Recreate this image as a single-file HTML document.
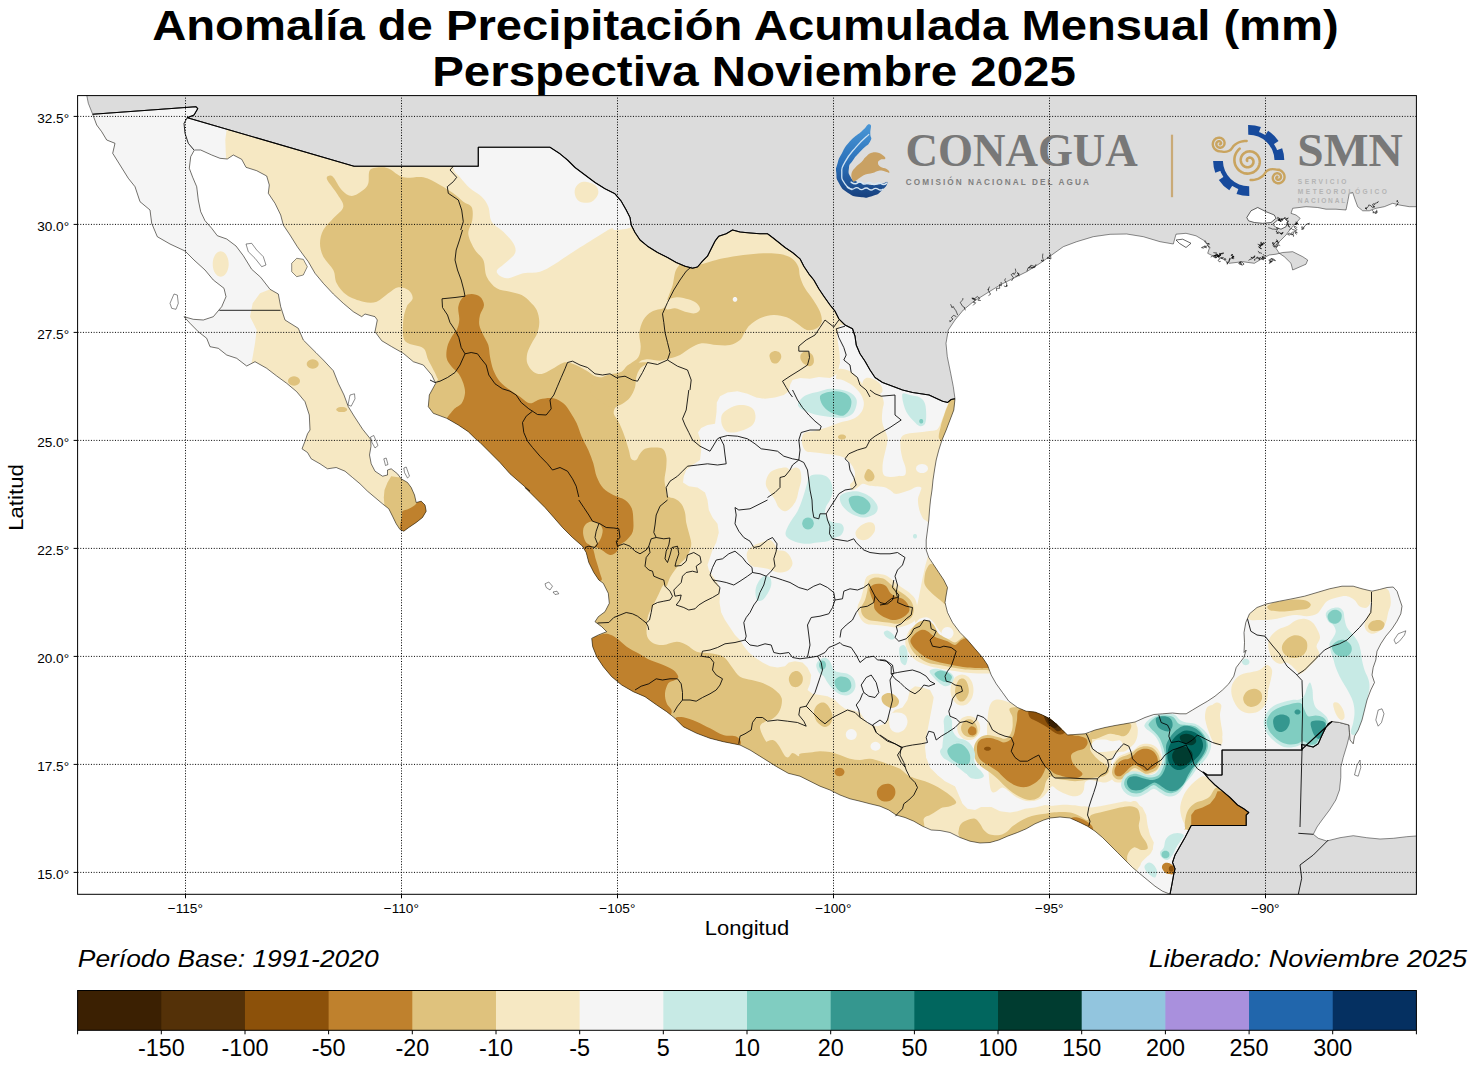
<!DOCTYPE html>
<html><head><meta charset="utf-8"><title>Anomalía de Precipitación</title>
<style>html,body{margin:0;padding:0;background:#fff;font-family:"Liberation Sans",sans-serif}svg{display:block}</style></head>
<body>
<svg width="1476" height="1068" viewBox="0 0 1476 1068">
<rect width="1476" height="1068" fill="#fff"/>
<defs><clipPath id="axclip"><rect x="77.6" y="95.6" width="1338.8" height="798.7"/></clipPath></defs>
<g clip-path="url(#axclip)">
<path d="M60,80 86.7,95 88.3,103.3 92.7,114.3 196,106.7 197.7,108.7 194,115 187.3,117.7 354,166.3 478.3,166.3 478.3,147.3 550,147.3 550,148 560,153.8 567.5,160 575,167.5 585,175 595,182.5 605,188.8 615,193.8 621.2,201.2 626.2,210 630,217.5 631.2,225 635,232.5 640,240 647.5,246.2 657.5,252.5 667.5,257.5 676.2,262.5 685,266.2 692.5,268.2 697.5,267 702.5,261.2 707.5,256.2 711.2,248.8 715,241.2 718.8,236.2 726.2,233.8 732.5,230 740,232 750,233 760,233.8 767.5,233.8 772.5,237.5 778.8,242.5 785,247.5 792.5,252.5 800,258.8 803.8,266.2 808.8,273.8 813.8,280 818.8,288.8 823.8,296.2 830,305 835,311.2 838.8,318.8 845,325 852.5,328.8 855,336.2 856.2,345 860,353.8 865,361.2 870,370 875,377.5 882.5,382.5 892.5,386.2 902.5,390 912.5,392.5 929,395 942.5,401.2 947.5,402.5 951.2,399.5 955,398.8 953.3,386.7 950.7,373.3 947.3,356.7 946,343.3 948.3,330 955,320 963.3,310 973.3,301.7 986.7,293.3 1000,285 1013.3,278.3 1026.7,271.7 1040,263.3 1051.7,255 1063.3,246.7 1076.7,241.7 1093.3,236.7 1110,234.3 1126.7,234 1143.3,236.7 1160,241.7 1173.3,244 1176,234.2 1186,233.3 1196,235.8 1206,241.7 1209.3,248.3 1207.7,253.3 1212.7,255.8 1219.3,256.7 1229.3,263.3 1242.7,261.7 1254.3,263.3 1262.7,258.3 1269.3,255 1276,254.2 1282.7,252.5 1292.7,251.7 1302.7,256.7 1307.7,260 1306,264.2 1292.7,270 1291,263.3 1284.3,256.7 1279.3,253.3 1276,248.3 1279.3,241.7 1286,235 1291,228.3 1296,223.3 1300.2,218.3 1296,215 1291,213.3 1292.7,208.3 1306,206.7 1317.7,207.5 1326,209.2 1336,209.2 1346,210 1347.7,201.7 1349.3,193.3 1352.7,192.5 1355.2,200 1357.7,206.7 1362.7,210.8 1369.3,210.8 1376,208.3 1384.3,206.7 1392.7,203.3 1399.3,205 1409.3,206.7 1422.7,206.7 1430,205 1430,80Z" fill="#dcdcdc" stroke="#000" stroke-width="0.45"/>
<path d="M1170,894.2 1172,883.8 1173.8,873.8 1175,868.8 1172.5,862.5 1175,855 1180,846.2 1185,837.5 1189.5,828.8 1191.2,825.5 1246.2,825.5 1246.2,815 1248.8,812.5 1243.8,808.8 1237.5,805 1230,797.5 1222.5,791.2 1215,785 1208.8,778.8 1203,772 1207.5,775 1222,775 1222,750 1301.2,750 1302,750.5 1301.5,744.5 1307,745.5 1313.2,747 1318.2,743.8 1321.5,736.2 1324.5,730 1328.2,723.8 1332,721.5 1339.5,722.5 1349,725 1349.5,735 1347,745 1343.2,757.5 1340.8,767.5 1340.8,777.5 1339.5,790 1335.8,800 1329.5,810 1322,820 1317,827 1313.3,834.3 1318.3,838.3 1326.7,841 1340,837.7 1353.3,835.7 1366.7,837.7 1380,839 1393.3,838.3 1406.7,836.7 1420,835.7 1430,900 1170,900Z" fill="#dcdcdc" stroke="#000" stroke-width="0.45"/>
<path d="M1246.8,217.5 1251,210.8 1257.7,207.5 1266,211.7 1274.3,215 1276,218.3 1271,222.5 1262.7,223.3 1254.3,222.5 1248.5,220.8Z" fill="#fff" stroke="#000" stroke-width="0.6"/>
<path d="M1272.7,224.2 1277.7,220 1284.3,218.3 1287.7,221.7 1286,226.7 1281,229.2 1276,227.5Z" fill="#fff" stroke="#000" stroke-width="0.6"/>
<path d="M1176,240 1182.7,239.2 1191,243.3 1186,247.5 1179.3,243.3Z" fill="#fff" stroke="#000" stroke-width="0.6"/>
<path d="M1220.9,255.1 1218.7,256.4 1216.9,256.7 1218.8,255.6 1216.8,255.2 1215.6,255.4 1213.6,255.7 1215.7,256.2 1216,254.5 1216.4,252.7 1215.1,252.9 1213.4,252.6M1224.1,260 1225.6,258.7 1226,259.3 1225.4,259.5 1223.3,257.7 1222,258.4 1221.6,257.7 1222,257.5 1221.1,258.7 1222,257.6 1222.4,257.7M1229.1,261.8 1229.6,260.1 1229.7,258.8 1229,260.5 1228.6,262.4 1226.6,262.6 1228,263.9 1227.2,263.3 1227.2,264.5M1217,254.4 1216.9,255.1 1214.9,255.9 1215.5,257.9 1217,257 1216.5,257.7 1214.3,257.5 1212.7,256 1210.7,257.1M1217.9,256.2 1219.9,256.2 1218.3,255.8 1217.3,254.4 1217,254.6 1217.9,256.5 1218.8,256 1217.5,254.4 1215.9,255 1213.6,256.3M1218.7,256.6 1218.4,256.1 1218.7,257.9 1219.6,258 1220.1,258.7 1218,260.3 1219.3,261.8 1220.7,261.3M1222,254.5 1221.5,253.3 1223.8,253.1 1222,253.5 1220.1,253.7 1220.3,255.5 1220.8,253.8 1219.4,253.3 1220.1,255.1 1220.5,255 1218.8,255 1221,254.9M1262.2,245.7 1261.5,244.8 1263,243.4 1260.8,245.2 1260.9,243.8 1261.1,241.9 1261.3,243.9 1263,244.6 1261.9,244.1 1260.3,245.2 1260.5,246.3 1259.7,245.2M1272.2,259.7 1270.8,258.7 1270.3,259.9 1268.9,259.9 1270,261.8 1271.4,261.7 1269.9,262.2 1269.2,263.4 1270.3,262.8 1272.5,261.1 1270.6,261 1269.9,260.9 1272.1,261.4M1256,258.5 1257.4,256.8 1258.2,258.5 1259.5,259.5 1259.4,258.2 1260.8,257.5 1262.2,259.4 1261.7,259 1263.8,259.9M1259.4,245.5 1259.8,245.3 1260.6,245.8 1261,245.7 1263,244.3 1263.3,242.4 1264.7,243.3 1262.8,244.3M1258.8,259.8 1260.3,258.6 1259.1,257.8 1257.9,258.1 1256.8,257.8 1255.1,259.5 1254.4,259.3 1254.8,260.9M1264.4,258.6 1262.7,257.2 1262.7,258.7 1264,259.2 1265.3,257.8 1263.6,258.2 1261.9,256.5 1262.7,256.6 1262.6,257.7 1264.4,255.9 1263,254.1M1258,250.9 1259.2,252.5 1258.9,253 1258.9,253 1259.8,252.8 1260,252.7 1262,253.5M1273.5,259 1275.5,260.6 1274.1,260.4 1273.7,260 1272.9,260.7 1272.5,259.5 1271.6,258 1272.9,259.7 1273.6,259.2M1261.1,245.6 1259.8,247.4 1259.3,247.4 1261.6,248.7 1260,248.4 1260.1,247.8 1258.6,247.1 1259.7,245.1 1259.9,244.9 1257.7,244.2M1292.6,232 1290.8,233.7 1289.6,235.2 1287.6,234.3 1289.5,233 1290.7,234.3 1292.3,235M1301.2,229.2 1303.2,229.4 1304.1,227.8 1302.1,228.6 1301.7,226.8 1303.8,227.4 1305.2,225.7 1306.8,224 1308.5,223.8 1307.8,224 1309.8,223.1M1279.4,232.4 1281.5,234.3 1280.4,233 1282.4,233.5 1282.5,232.3 1282.3,233 1281.2,234.2 1283.5,232.4M1276.5,231.8 1276.6,230.8 1276.3,231.4 1277,232.1 1277.2,233.6 1279.4,232.8 1278.1,231.8 1276.7,233.3M1295.4,222.1 1297.7,223.4 1295.4,223.9 1297.2,223.6 1295.1,224.3 1294.6,224.3 1296.8,224.7 1297.7,222.9 1296.2,222M1276.1,228 1278.3,228.2 1277.1,230.1 1276.2,229.5 1273.9,229 1273.8,229.1 1272.4,229.1 1270.1,228.1 1268.2,227.7M1277.1,218.9 1277.7,217.3 1279.9,218.7 1278.2,220.3 1279.6,220.6 1280.8,221.5 1280.8,220.7 1281.3,219.2 1282.8,220.1M1289.7,229.8 1291.1,228.3 1291.2,228.4 1292.8,229.6 1294.3,229.9 1296.2,230.6 1297.1,229.6 1294.9,228.1 1294.2,226.5 1295.8,226.7 1296.4,227.3 1297.2,227.2M1276.1,239.6 1278.1,241.2 1276.2,241.3 1277.3,241.2 1278.8,242.6 1277.6,243.6 1276.3,244.2 1276.1,245.6 1274.1,247.2 1273.1,245.4 1273.8,244.2 1274.2,243.5M1293.4,236.8 1293.7,234.9 1291.6,233.9 1292.4,234.7 1293.3,233.9 1293.3,233.7 1293.2,232.2 1295,231 1297.3,232.7 1295,232.6 1296.5,234.5M1288,225.5 1289.9,227.2 1287.9,225.6 1289.1,224.6 1288.4,225 1289.1,224.2 1287.3,223.6 1287.2,225.1M1286.5,222.6 1287.4,222.2 1288.4,221.9 1287.8,220.3 1287.1,219.6 1286.3,219.2 1288.3,218 1286.1,219 1284.9,217.2 1284.4,218.7M1278,243 1277,241.2 1275.1,242.5 1274.1,244.3 1273,243.3 1273,242.1 1272.4,243.9 1274.2,245.2 1274.8,246.8 1276.9,247 1277.9,245.2 1279,245 1280.2,245.6M1283.6,219.6 1281.9,219.5 1281.2,218.7 1282.3,220.6 1281.2,221.2 1280.2,221.5 1279.7,220.1 1278.2,219 1280.1,219 1278.7,220.6 1281.1,220.4M1234.3,258.1 1232.7,258.3 1231.9,257.8 1233.3,256.6 1231.1,258.1 1230.6,259.1 1229.2,258.2M1248.5,260.4 1250.7,258.9 1250.7,259.4 1252.4,258.3 1251.4,257.3 1250.9,257.1 1253,258.5 1254.8,256.5 1252.6,257.4 1254.4,257.3 1254.8,255.3M1240.1,263.6 1240.3,263.5 1240,264.6 1238.7,263.2 1240.9,261.7 1242.5,262.5 1244.1,264.1 1242.1,265.2 1239.8,263.7 1240.1,261.8 1241.1,263.7 1241.7,263.8 1241.4,264.8M1233.3,258.9 1231.9,258 1233.2,256 1233.4,258 1232.4,257.2 1234,256.2 1234.1,256.4 1231.9,256 1232.6,254.2 1231.2,255.8 1231.8,254.1M1374.5,207.1 1373.2,205.3 1372.5,204.9 1373.3,203.7 1374.7,204.7 1374.7,203.5 1376.9,202.8 1378.4,201.7 1377.1,202.7M1376.5,209.8 1377,211.3 1377,213 1374.9,213.4 1376.9,211.6 1374.6,212 1374.2,212.8 1372.8,212.6 1373.8,211.9 1371.9,210.2M1372.6,206 1374.7,206.9 1372.5,207.6 1371.9,207.1 1371.1,205.8 1368.8,204.9 1368.1,206.7 1366.4,208.6 1365,208 1366.5,209.3 1366.2,207.5 1366.1,207M1395.3,206 1396.4,205.9 1397,204.9 1397.6,204.5 1397,204.3 1398.4,202.6 1397,200.8 1397.5,200.3 1396.7,202.1M1204.7,247.5 1203.8,246.6 1201.5,247.6 1203.4,248.1 1205.5,246.2 1204.3,246.1 1206.4,247.9 1205.9,246.9 1205.5,246.9 1207.5,245.6 1208.9,246.6 1210.4,247.7M1208.9,243.3 1208.7,244.4 1209.2,244.5 1208.6,243.1 1208.2,243.7 1208.1,243.9 1206.5,243.6 1204.7,241.9 1205.3,240.7" fill="none" stroke="#000" stroke-width="0.6"/>
<path d="M950,320 949.9,321.9 953,319 951.2,317.7 953.8,315.1 954.4,315.8 956.3,316.5M957.7,315.1 956.8,312.8 955.7,310.3 954.6,309 953.1,306.4 952.1,307.8 950.6,304.2M965.4,310.3 964.2,307.7 964.7,307.6 962.7,306.4 960.2,302.4 962.8,299.8 962.9,298.1M973.1,305.4 975.7,302.8 973.3,302.4 975.6,299.5 973.4,298.6 971.8,298.2 973.8,298.2M980.8,300.5 978.1,300.3 979.7,298.4 977.3,296.5 974.9,298.5 972.5,298.9 975.3,299.8M988.5,295.6 990.7,294.1 990.3,293.8 988.1,290 988.4,288.9 988.2,289.7 989.5,286.6M996.2,290.8 996.7,290.7 996.4,288.3 999.7,288.3 999.5,284.6 1001.3,285.9 1001.1,282M1003.8,285.9 1005.8,286.7 1007,285.1 1006.7,286.7 1006.7,283.6 1004.7,280.2 1005.5,278.4M1011.5,281 1013.5,277.8 1011.2,274.7 1013.3,273 1014.1,274.6 1015.9,271.6 1015.3,268.6M1019.2,276.2 1017.6,272.6 1017.2,273.1 1019.3,273.9 1018.5,274.9 1016.1,276.4 1015.3,276.1M1026.9,271.3 1028.1,267.8 1029.7,267.9 1032.4,267.8 1034.8,267.5 1035.9,264.7 1036,264.1M1034.6,266.4 1032.2,268 1030.5,266.2 1028.7,268 1030.9,265.2 1033.6,266.2 1034.9,266.2M1042.3,261.5 1041.6,259.9 1041.7,261 1043.7,260.9 1042.8,258.4 1042.5,256.6 1042.9,253.6M1050,256.7 1047.4,258.6 1047.5,257.3 1048.5,258.2 1050.9,259 1050.6,255.4 1050.1,253.6" fill="none" stroke="#000" stroke-width="0.6"/>
<defs><clipPath id="mex"><path d="M92.7,114.3 196,106.7 197.7,108.7 194,115 187.3,117.7 354,166.3 478.3,166.3 478.3,147.3 550,147.3 560,153.8 567.5,160 575,167.5 585,175 595,182.5 605,188.8 615,193.8 621.2,201.2 626.2,210 630,217.5 631.2,225 635,232.5 640,240 647.5,246.2 657.5,252.5 667.5,257.5 676.2,262.5 685,266.2 692.5,268.2 697.5,267 702.5,261.2 707.5,256.2 711.2,248.8 715,241.2 718.8,236.2 726.2,233.8 732.5,230 740,232 750,233 760,233.8 767.5,233.8 772.5,237.5 778.8,242.5 785,247.5 792.5,252.5 800,258.8 803.8,266.2 808.8,273.8 813.8,280 818.8,288.8 823.8,296.2 830,305 835,311.2 838.8,318.8 845,325 852.5,328.8 855,336.2 856.2,345 860,353.8 865,361.2 870,370 875,377.5 882.5,382.5 892.5,386.2 902.5,390 912.5,392.5 929,395 942.5,401.2 947.5,402.5 951.2,399.5 955,398.8 953.8,410 950,420 946.2,430 942,440 938.8,450 936.2,460 934.5,470 933,480 932,490 930.5,500 929.5,510 928.8,520 927.5,530 926.2,540 926.2,548.8 926.2,550 928.8,557.5 933.8,565 938.8,572.5 943.8,580 947.5,587.5 946.2,595 945,602.5 947.5,612.5 952.5,622.5 960,632.5 967.5,640 975,648.8 982.5,657.5 987.5,665 991.2,675 996.2,683.8 1002.5,692.5 1008.8,701.2 1017.5,707.5 1026.2,711.2 1035,712 1042.5,715 1050,718.8 1056.2,723.8 1062.5,730 1067.5,735 1075,734.5 1085,733.8 1095,730 1105,727.5 1115,725.5 1125,723.8 1135,722 1145,717.5 1153.8,714.5 1162.5,713.8 1172.5,713 1180,713.8 1186.2,713.8 1192.5,710 1200,705.5 1207.5,701.2 1215,696.2 1222.5,690 1228.8,683.8 1233.8,676.2 1236.2,667.5 1240,662.5 1243.8,657.5 1246.2,650 1244,652.5 1244.5,642.5 1244,632.5 1245.8,622.5 1249.5,613.8 1257,607.5 1267,603.8 1279.5,601.2 1292,598.8 1304.5,596.2 1317,592.5 1329.5,588.8 1342,586.2 1353.2,586.2 1362,588.8 1372,591.2 1379.5,589.5 1387,587.5 1393.2,587 1397,591.2 1399.5,598.8 1402,606.2 1400.8,613.8 1397,621.2 1392,628.8 1385.8,636.2 1380.8,643.8 1377,651.2 1375.8,660 1373.2,667.5 1372,675 1374.5,682.5 1370.8,690 1367,700 1364.5,710 1362,720 1358.2,730 1354.5,736.2 1353.2,743.8 1350,740 1349.5,732.5 1349,725 1339.5,722.5 1332,721.5 1328.2,723.8 1324.5,730 1321.5,736.2 1318.2,743.8 1313.2,747 1307,745.5 1301.5,744.5 1302,750.5 1301.2,750 1222,750 1222,775 1207.5,775 1203,772 1208.8,778.8 1215,785 1222.5,791.2 1230,797.5 1237.5,805 1243.8,808.8 1248.8,812.5 1246.2,815 1246.2,825.5 1191.2,825.5 1189.5,828.8 1185,837.5 1180,846.2 1175,855 1172.5,862.5 1175,868.8 1173.8,873.8 1172,883.8 1170,894.2 1162.5,891.2 1155,886.2 1147.5,880 1140,873.8 1132.5,867.5 1125,860 1117.5,852.5 1110,845 1102.5,837.5 1095,831.2 1087.5,826.2 1080,822.5 1070,818 1060,817 1050,818 1043.8,820 1035,823.8 1026.2,828.8 1017.5,832.5 1007.5,836.2 998.8,840 990,842.5 980,843 970,841.2 960,837.5 950,832.5 940,830.5 931.2,830 922.5,826.2 913.8,821.2 905,817.5 896.2,815 888.8,810 880,806.2 870,803.8 860,801.2 850,798.8 840,795 830,790 820,786.2 810,781.2 800,776.2 788.3,773.3 776.7,766.7 763.3,758.3 750,750 740,745 723.3,741.7 710,738.3 696.7,733.3 683.3,726.7 675,718.3 666.7,711.7 656.7,705 645,696.7 633.3,691.7 621.7,685 611.7,676.7 603.3,666.7 596.7,656.7 592.7,646.7 591.7,638.3 598.3,635 606.7,631.7 601.7,626.7 595,621.7 598.3,616.7 605,611.7 609.3,603.3 608.3,593.3 603.3,583.3 598.8,580 593.8,572.5 588.8,562.5 586.2,552.5 582.5,546.2 572.5,537.5 562.5,527.5 553.8,517.5 545,507.5 535,497.5 525,487.5 530,491.2 520,482.5 510,473.8 500,462.5 490,452.5 480,442.5 475,438.3 468.3,431.7 458.3,425 446.7,418.3 433.3,413.3 428.3,406.7 429.3,395 435.7,383.3 431.7,375 423.3,365 413.3,361.7 403.3,353.3 391.7,346.7 381.7,340.7 375,331.7 377.3,320 375,316.7 365,314 361.7,316.7 353.3,311.7 343.3,303.3 333.3,294 323.3,283.3 315,273.3 308.3,261.7 303.3,255 297.3,246.7 290,235 283.3,225 280.7,215 275,203.3 268.3,193.3 269.3,185 266.7,176 256.7,170.7 246,167.3 241.7,159.3 233.3,155 227.3,159 220,158.3 211.7,155 200.7,150 194.7,150 194,150.7 190.7,156.7 189.3,168.3 192.7,177.3 196.7,186.7 198.3,200 200.7,211.7 205,220.7 211.7,228.3 217.3,235.7 226.7,239 236,246 243.3,255.7 251.7,269.3 260.7,277.3 270,289.3 278.3,294 280.7,306.7 285,320 298.3,328.3 303.3,340 316,352.7 323.3,360 333.3,370.7 338.3,383.3 344,395 348.3,406.7 354,416 362.7,429.3 370.7,439.3 371,446.2 369.5,455 371.2,463.8 375,471.2 382.5,476.2 387.5,475 387.5,470 391.2,468.8 397.5,473.8 401.2,478.8 407.5,482.5 411.2,487.5 414.5,495 416.2,502.5 421.2,501.2 425,505 426.2,511.2 422.5,517.5 416.2,522.5 408.8,527.5 403.8,531.2 403.8,531.2 400,529.5 396.2,523.8 392.5,516.2 388.8,508.8 382.5,503.8 375,497.5 367.5,491.2 360,483.8 352.5,477.5 345,471.2 336.2,467.5 327.5,468.8 320,463.8 311.2,458.8 307.5,452.5 302,448.8 305,441.2 307.5,433.8 310,430 309.3,415 305,401.7 296.7,391.7 286.7,383.3 276.7,376 266.7,368.3 255,361.7 246.7,366 236.7,358.3 226.7,355 218.3,348.3 210,346.7 206.7,338.3 198.3,331.7 190,323.3 184,316.7 193.3,319.3 203.3,320 213.3,316.7 221.7,306.7 226,296.7 224,288.3 213.3,280 205,270 194,260 185,251 170,244 157.3,236.7 151.7,223.3 150,210 140,201.7 135,186.7 128.3,178.3 120,165 112.7,153.3 115,143.3 106.7,140 101.7,131.7 96.7,125 92.7,114.3Z"/></clipPath></defs>
<path d="M92.7,114.3 196,106.7 197.7,108.7 194,115 187.3,117.7 354,166.3 478.3,166.3 478.3,147.3 550,147.3 560,153.8 567.5,160 575,167.5 585,175 595,182.5 605,188.8 615,193.8 621.2,201.2 626.2,210 630,217.5 631.2,225 635,232.5 640,240 647.5,246.2 657.5,252.5 667.5,257.5 676.2,262.5 685,266.2 692.5,268.2 697.5,267 702.5,261.2 707.5,256.2 711.2,248.8 715,241.2 718.8,236.2 726.2,233.8 732.5,230 740,232 750,233 760,233.8 767.5,233.8 772.5,237.5 778.8,242.5 785,247.5 792.5,252.5 800,258.8 803.8,266.2 808.8,273.8 813.8,280 818.8,288.8 823.8,296.2 830,305 835,311.2 838.8,318.8 845,325 852.5,328.8 855,336.2 856.2,345 860,353.8 865,361.2 870,370 875,377.5 882.5,382.5 892.5,386.2 902.5,390 912.5,392.5 929,395 942.5,401.2 947.5,402.5 951.2,399.5 955,398.8 953.8,410 950,420 946.2,430 942,440 938.8,450 936.2,460 934.5,470 933,480 932,490 930.5,500 929.5,510 928.8,520 927.5,530 926.2,540 926.2,548.8 926.2,550 928.8,557.5 933.8,565 938.8,572.5 943.8,580 947.5,587.5 946.2,595 945,602.5 947.5,612.5 952.5,622.5 960,632.5 967.5,640 975,648.8 982.5,657.5 987.5,665 991.2,675 996.2,683.8 1002.5,692.5 1008.8,701.2 1017.5,707.5 1026.2,711.2 1035,712 1042.5,715 1050,718.8 1056.2,723.8 1062.5,730 1067.5,735 1075,734.5 1085,733.8 1095,730 1105,727.5 1115,725.5 1125,723.8 1135,722 1145,717.5 1153.8,714.5 1162.5,713.8 1172.5,713 1180,713.8 1186.2,713.8 1192.5,710 1200,705.5 1207.5,701.2 1215,696.2 1222.5,690 1228.8,683.8 1233.8,676.2 1236.2,667.5 1240,662.5 1243.8,657.5 1246.2,650 1244,652.5 1244.5,642.5 1244,632.5 1245.8,622.5 1249.5,613.8 1257,607.5 1267,603.8 1279.5,601.2 1292,598.8 1304.5,596.2 1317,592.5 1329.5,588.8 1342,586.2 1353.2,586.2 1362,588.8 1372,591.2 1379.5,589.5 1387,587.5 1393.2,587 1397,591.2 1399.5,598.8 1402,606.2 1400.8,613.8 1397,621.2 1392,628.8 1385.8,636.2 1380.8,643.8 1377,651.2 1375.8,660 1373.2,667.5 1372,675 1374.5,682.5 1370.8,690 1367,700 1364.5,710 1362,720 1358.2,730 1354.5,736.2 1353.2,743.8 1350,740 1349.5,732.5 1349,725 1339.5,722.5 1332,721.5 1328.2,723.8 1324.5,730 1321.5,736.2 1318.2,743.8 1313.2,747 1307,745.5 1301.5,744.5 1302,750.5 1301.2,750 1222,750 1222,775 1207.5,775 1203,772 1208.8,778.8 1215,785 1222.5,791.2 1230,797.5 1237.5,805 1243.8,808.8 1248.8,812.5 1246.2,815 1246.2,825.5 1191.2,825.5 1189.5,828.8 1185,837.5 1180,846.2 1175,855 1172.5,862.5 1175,868.8 1173.8,873.8 1172,883.8 1170,894.2 1162.5,891.2 1155,886.2 1147.5,880 1140,873.8 1132.5,867.5 1125,860 1117.5,852.5 1110,845 1102.5,837.5 1095,831.2 1087.5,826.2 1080,822.5 1070,818 1060,817 1050,818 1043.8,820 1035,823.8 1026.2,828.8 1017.5,832.5 1007.5,836.2 998.8,840 990,842.5 980,843 970,841.2 960,837.5 950,832.5 940,830.5 931.2,830 922.5,826.2 913.8,821.2 905,817.5 896.2,815 888.8,810 880,806.2 870,803.8 860,801.2 850,798.8 840,795 830,790 820,786.2 810,781.2 800,776.2 788.3,773.3 776.7,766.7 763.3,758.3 750,750 740,745 723.3,741.7 710,738.3 696.7,733.3 683.3,726.7 675,718.3 666.7,711.7 656.7,705 645,696.7 633.3,691.7 621.7,685 611.7,676.7 603.3,666.7 596.7,656.7 592.7,646.7 591.7,638.3 598.3,635 606.7,631.7 601.7,626.7 595,621.7 598.3,616.7 605,611.7 609.3,603.3 608.3,593.3 603.3,583.3 598.8,580 593.8,572.5 588.8,562.5 586.2,552.5 582.5,546.2 572.5,537.5 562.5,527.5 553.8,517.5 545,507.5 535,497.5 525,487.5 530,491.2 520,482.5 510,473.8 500,462.5 490,452.5 480,442.5 475,438.3 468.3,431.7 458.3,425 446.7,418.3 433.3,413.3 428.3,406.7 429.3,395 435.7,383.3 431.7,375 423.3,365 413.3,361.7 403.3,353.3 391.7,346.7 381.7,340.7 375,331.7 377.3,320 375,316.7 365,314 361.7,316.7 353.3,311.7 343.3,303.3 333.3,294 323.3,283.3 315,273.3 308.3,261.7 303.3,255 297.3,246.7 290,235 283.3,225 280.7,215 275,203.3 268.3,193.3 269.3,185 266.7,176 256.7,170.7 246,167.3 241.7,159.3 233.3,155 227.3,159 220,158.3 211.7,155 200.7,150 194.7,150 194,150.7 190.7,156.7 189.3,168.3 192.7,177.3 196.7,186.7 198.3,200 200.7,211.7 205,220.7 211.7,228.3 217.3,235.7 226.7,239 236,246 243.3,255.7 251.7,269.3 260.7,277.3 270,289.3 278.3,294 280.7,306.7 285,320 298.3,328.3 303.3,340 316,352.7 323.3,360 333.3,370.7 338.3,383.3 344,395 348.3,406.7 354,416 362.7,429.3 370.7,439.3 371,446.2 369.5,455 371.2,463.8 375,471.2 382.5,476.2 387.5,475 387.5,470 391.2,468.8 397.5,473.8 401.2,478.8 407.5,482.5 411.2,487.5 414.5,495 416.2,502.5 421.2,501.2 425,505 426.2,511.2 422.5,517.5 416.2,522.5 408.8,527.5 403.8,531.2 403.8,531.2 400,529.5 396.2,523.8 392.5,516.2 388.8,508.8 382.5,503.8 375,497.5 367.5,491.2 360,483.8 352.5,477.5 345,471.2 336.2,467.5 327.5,468.8 320,463.8 311.2,458.8 307.5,452.5 302,448.8 305,441.2 307.5,433.8 310,430 309.3,415 305,401.7 296.7,391.7 286.7,383.3 276.7,376 266.7,368.3 255,361.7 246.7,366 236.7,358.3 226.7,355 218.3,348.3 210,346.7 206.7,338.3 198.3,331.7 190,323.3 184,316.7 193.3,319.3 203.3,320 213.3,316.7 221.7,306.7 226,296.7 224,288.3 213.3,280 205,270 194,260 185,251 170,244 157.3,236.7 151.7,223.3 150,210 140,201.7 135,186.7 128.3,178.3 120,165 112.7,153.3 115,143.3 106.7,140 101.7,131.7 96.7,125 92.7,114.3Z" fill="#f6e8c3"/>
<g clip-path="url(#mex)">
<path d="M70,90 226.7,90 226.7,129.3 225.3,140 226,158.3 210,173.3 226.7,206.7 256.7,246.7 283.3,283.3 270,289.3 260,293.3 252.7,303.3 250,316.7 256.7,330 255,343.3 252.7,356.7 250.7,366.7 236.7,376.7 70,376.7Z" fill="#f5f5f5"/>
<path d="M453.3,140C437.2,147.3 452.2,161.1 453.3,167.3C454.4,173.6 457.2,173.8 460,177.3C462.8,180.8 466.4,185.1 470,188.3C473.6,191.6 478.6,193.6 481.7,196.7C484.7,199.7 486.7,202.5 488.3,206.7C490,210.8 489.2,217.5 491.7,221.7C494.2,225.8 499.7,228.1 503.3,231.7C506.9,235.3 511.4,239.7 513.3,243.3C515.3,246.9 516.4,250 515,253.3C513.6,256.7 508.1,260.3 505,263.3C501.9,266.4 496.4,269.2 496.7,271.7C496.9,274.2 502.2,278.1 506.7,278.3C511.1,278.6 517.8,274.4 523.3,273.3C528.9,272.2 535,273.1 540,271.7C545,270.3 549.4,267.2 553.3,265C557.2,262.8 560,260.6 563.3,258.3C566.7,256.1 569.4,254.2 573.3,251.7C577.2,249.2 582.2,246.1 586.7,243.3C591.1,240.6 595.8,237.5 600,235C604.2,232.5 609.2,229.2 611.7,228.3C614.2,227.5 612.2,230 615,230C617.8,230 625.2,229.6 628.3,228.3C631.5,227.1 632.1,227.4 634,222.7C635.9,217.9 645.7,212.1 640,200C634.3,187.9 615,162.8 600,150C585,137.2 574.4,125 550,123.3C525.6,121.7 469.4,132.7 453.3,140Z" fill="#f5f5f5"/>
<path d="M715,423.8 707.5,425 701.2,428 698,432.5 700,438.8 701.2,450 700,460 692.5,465 686.2,470 683.8,476.2 683,482.5 688.8,486.2 697.5,487.5 705,492.5 707.5,500 708.8,510 712.5,517.5 717.5,523.8 718.8,532.5 716.2,542.5 712.5,550 710,557.5 707.5,565 708.8,570 713.8,577.5 718.8,585 720,593.8 719.5,602.5 721.2,612.5 725,620 730,627.5 735,635 740,640 743.8,646.2 748.8,652.5 755,657.5 762.5,662.5 770,666.2 777.5,667.5 785,666.2 788.8,662.5 795,661.2 802.5,662.5 807.5,667.5 811.2,675 810,683.8 807.5,690 812.5,693.8 820,695 827.5,696.2 835,700 840,705 845,708.8 852.5,710 860,712.5 865,720 870,725 877.5,726.2 885,723.8 890,715 895,710 902.5,707.5 907.5,700 910,690 915,686.2 922.5,687.5 930,690 933.8,697.5 933.8,707.5 932.5,717.5 930,727.5 926.2,737.5 925,747.5 926.2,757.5 930,767.5 937.5,775 945,781.2 955,786.2 965,790 972.5,795 977.5,802.5 980,807 1020,807 1020,695 970,615 945,540 965,570 952.5,470 967.5,395 940,390 902.5,380 885,375 865,345 855,325 840,325 838,331.2 837,335 838,342.5 839.5,352.5 840,362.5 837.5,373.8 830,378 818.8,377 810,378.8 800,378 792.5,380 790,385 788.8,391.2 783.8,395 775,397.5 765,398.8 756.2,397.5 747.5,393.8 737.5,391.2 727.5,392.5 720,396.2 716.8,402.5 716.5,412.5 715.5,420Z" fill="#f5f5f5"/>
<path d="M1000,680 933.8,697.5 926.2,737.5 926.2,757.5 937.5,775 955,786.2 962.5,803.8 967.5,808.8 975,810 980,807.5 986.2,804.5 992.5,807.5 1000,811.2 1010,812.5 1017.5,811.2 1025,808.8 1035,807.5 1045,805 1055,806.2 1065,807.5 1075,807 1085,806.2 1091.2,807.5 1100,806.2 1112.5,803.8 1125,801.2 1135,802.5 1142.5,807.5 1146.2,815 1147.5,825 1150,835 1153.8,842.5 1152.5,850 1147.5,855 1142.5,860 1140,865 1132.5,872.5 1175,915 1500,915 1500,540 1225,540 1225,665 1175,702.5 1075,722.5 1050,710 1025,702.5 1000,680Z" fill="#f5f5f5"/>
<path d="M228.7,264C228.7,266.1 228.3,268.5 227.6,270.3C226.9,272.2 225.8,273.9 224.7,275C223.5,276 222,276.7 220.7,276.7C219.3,276.7 217.8,276 216.7,275C215.5,273.9 214.4,272.2 213.7,270.3C213.1,268.5 212.7,266.1 212.7,264C212.7,261.9 213.1,259.5 213.7,257.7C214.4,255.8 215.5,254.1 216.7,253C217.8,252 219.3,251.3 220.7,251.3C222,251.3 223.5,252 224.7,253C225.8,254.1 226.9,255.8 227.6,257.7C228.3,259.5 228.7,261.9 228.7,264Z" fill="#f6e8c3"/>
<path d="M576,186.7C577.4,184.4 580.2,181.9 583.3,181.7C586.5,181.4 592.5,183.1 595,185C597.5,186.9 598.9,190.6 598.3,193.3C597.8,196.1 594.7,200.3 591.7,201.7C588.6,203.1 582.8,202.8 580,201.7C577.2,200.6 575.7,197.5 575,195C574.3,192.5 574.6,188.9 576,186.7Z" fill="#f6e8c3"/>
<path d="M722.5,413.8C723.5,412.2 725.6,410.8 727.5,409.5C729.4,408.2 731.5,407 733.8,406.2C736,405.5 738.8,405 741.2,405C743.8,405 746.7,405.4 748.8,406.2C750.8,407.1 752.6,408.1 753.8,410C754.9,411.9 755.7,415 755.5,417.5C755.3,420 754.5,422.9 752.5,425C750.5,427.1 746.9,428.8 743.8,430C740.6,431.2 736.7,432.3 733.8,432.5C730.8,432.7 728.2,432.5 726.2,431.2C724.3,430 722.8,427.1 722,425C721.2,422.9 721.2,420.6 721.2,418.8C721.3,416.9 721.5,415.3 722.5,413.8Z" fill="#f6e8c3"/>
<path d="M766.2,480C766.9,477.7 768.1,474.4 770,472.5C771.9,470.6 774.8,469.6 777.5,468.8C780.2,467.9 784.2,467.3 786.2,467.5C788.3,467.7 788.5,470 790,470C791.5,470 793.3,467.5 795,467.5C796.7,467.5 799,467.9 800,470C801,472.1 801.5,476.7 801.2,480C801,483.3 799.6,486.7 798.8,490C797.9,493.3 797.5,497.1 796.2,500C795,502.9 793.1,505.6 791.2,507.5C789.4,509.4 787.1,511.2 785,511.2C782.9,511.2 780.4,509.4 778.8,507.5C777.1,505.6 776.5,502.5 775,500C773.5,497.5 771.5,494.8 770,492.5C768.5,490.2 766.9,488.3 766.2,486.2C765.6,484.2 765.6,482.3 766.2,480Z" fill="#f6e8c3"/>
<path d="M840,368.8C842.1,368.5 847.3,370 850,371.2C852.7,372.5 854.4,374.4 856.2,376.2C858.1,378.1 859.2,380.2 861.2,382.5C863.3,384.8 866.5,388.1 868.8,390C871,391.9 872.9,392.9 875,393.8C877.1,394.6 879.8,393.5 881.2,395C882.7,396.5 883.5,400 883.8,402.5C884,405 882.8,407.1 882.5,410C882.2,412.9 881.8,417.1 882,420C882.2,422.9 882.8,424.6 883.8,427.5C884.7,430.4 887.1,434.2 887.5,437.5C887.9,440.8 886.9,444.2 886.2,447.5C885.6,450.8 884.4,454.2 883.8,457.5C883.1,460.8 882.5,464.6 882.5,467.5C882.5,470.4 882.5,473.4 883.8,475C885,476.6 887.7,476.8 890,477C892.3,477.2 895,476.6 897.5,476.2C900,475.9 903.7,476.5 905,475C906.3,473.5 905.9,470.2 905.5,467.5C905.1,464.8 903.3,462.1 902.5,458.8C901.7,455.4 900.7,451 900.5,447.5C900.3,444 900.1,439.8 901.2,437.5C902.4,435.2 904.8,434.6 907.5,433.8C910.2,432.9 914.2,432.9 917.5,432.5C920.8,432.1 924.4,431.7 927.5,431.2C930.6,430.8 934.2,431 936.2,430C938.3,429 938.8,427.5 940,425C941.2,422.5 942.5,418.3 943.8,415C945,411.7 946.2,407.6 947.5,405C948.8,402.4 948.8,400.5 951.2,399.5C953.8,398.5 960.6,391.2 962.5,398.8C964.4,406.3 966.2,431 962.5,445C958.8,459 944.8,470 940,482.5C935.2,495 936.2,513.8 933.8,520C931.2,526.2 927.1,520.8 925,520C922.9,519.2 922.3,517.1 921.2,515C920.2,512.9 919.3,510.2 918.8,507.5C918.2,504.8 917.8,501.2 918,498.8C918.2,496.2 919.5,494.4 920,492.5C920.5,490.6 921.9,488.4 921.2,487.5C920.6,486.6 918.1,486.6 916.2,487C914.4,487.4 912.3,489.1 910,490C907.7,490.9 905,491.9 902.5,492.5C900,493.1 897.1,494.2 895,493.8C892.9,493.3 891.9,491.1 890,490C888.1,488.9 886.2,487.6 883.8,487C881.2,486.4 877.5,486.5 875,486.2C872.5,486 870.8,485.9 868.8,485.5C866.7,485.1 864.5,483.3 862.5,483.8C860.5,484.2 858.7,487 857,488C855.3,489 853.7,490.5 852.5,490C851.3,489.5 849.8,486.7 850,485C850.2,483.3 852.9,482.1 853.8,480C854.6,477.9 855.2,474.8 855,472.5C854.8,470.2 853.5,468.1 852.5,466.2C851.5,464.4 850.2,462.7 848.8,461.2C847.3,459.8 846,458.5 843.8,457.5C841.5,456.5 838.1,455.6 835,455C831.9,454.4 828.3,454.2 825,453.8C821.7,453.3 818.1,452.9 815,452.5C811.9,452.1 808.3,452.5 806.2,451.2C804.2,450 803.2,447.3 802.5,445C801.8,442.7 801.6,439.6 802,437.5C802.4,435.4 803.2,433.5 805,432.5C806.8,431.5 810,431.8 812.5,431.2C815,430.8 817.1,430.3 820,429.5C822.9,428.7 826.7,427.4 830,426.2C833.3,425.1 836.7,423.5 840,422.5C843.3,421.5 847.1,421 850,420C852.9,419 855.4,417.9 857.5,416.2C859.6,414.6 861.5,412.3 862.5,410C863.5,407.7 864,405 863.8,402.5C863.5,400 862.5,397.3 861.2,395C860,392.7 858.1,390.6 856.2,388.8C854.4,386.9 852.3,385.2 850,383.8C847.7,382.3 844.8,380.8 842.5,380C840.2,379.2 837.1,380 836.2,378.8C835.4,377.5 836.9,374.2 837.5,372.5C838.1,370.8 837.9,369 840,368.8Z" fill="#f6e8c3"/>
<path d="M862.5,382.5C862.7,380.8 864.6,378.6 866.2,378C867.9,377.4 870.2,377.8 872.5,378.8C874.8,379.7 878.3,381.7 880,383.8C881.7,385.8 882.9,389.5 882.5,391.2C882.1,393 879.6,394.3 877.5,394.5C875.4,394.7 872.1,393.6 870,392.5C867.9,391.4 866.2,389.7 865,388C863.8,386.3 862.3,384.2 862.5,382.5Z" fill="#f6e8c3"/>
<path d="M928,468.5C928,469.2 927.7,470.1 927.2,470.8C926.7,471.4 925.9,472 925,472.4C924.1,472.8 923,473 922,473C921,473 919.9,472.8 919,472.4C918.1,472 917.3,471.4 916.8,470.8C916.3,470.1 916,469.2 916,468.5C916,467.8 916.3,466.9 916.8,466.2C917.3,465.6 918.1,465 919,464.6C919.9,464.2 921,464 922,464C923,464 924.1,464.2 925,464.6C925.9,465 926.7,465.6 927.2,466.2C927.7,466.9 928,467.8 928,468.5Z" fill="#f5f5f5"/>
<path d="M855.5,532.5C855.8,530.4 858,527.9 860,526.2C862,524.6 865.2,522.9 867.5,522.5C869.8,522.1 872.5,522.5 873.8,523.8C875,525 875.4,527.9 875,530C874.6,532.1 872.9,534.6 871.2,536.2C869.6,537.9 867.2,539.6 865,540C862.8,540.4 859.6,540 858,538.8C856.4,537.5 855.2,534.6 855.5,532.5Z" fill="#f6e8c3"/>
<path d="M747,552.5C747.8,550 750.1,547.9 752.5,546.2C754.9,544.6 758.3,543.5 761.2,542.5C764.2,541.5 767.7,539.6 770,540C772.3,540.4 773.8,543.3 775,545C776.2,546.7 775.8,549 777.5,550C779.2,551 782.9,550.2 785,551.2C787.1,552.3 788.8,554.2 790,556.2C791.2,558.3 792.7,561.5 792.5,563.8C792.3,566 790.6,568.5 788.8,570C786.9,571.5 783.8,572.3 781.2,572.5C778.8,572.7 776,571.9 773.8,571.2C771.5,570.6 769.8,569.4 767.5,568.8C765.2,568.1 762.5,567.9 760,567.5C757.5,567.1 754.5,567.3 752.5,566.2C750.5,565.2 748.9,563.5 748,561.2C747.1,559 746.2,555 747,552.5Z" fill="#f6e8c3"/>
<path d="M1247,616.2C1247.6,614 1251.2,608.8 1254.5,606.2C1257.8,603.8 1262.8,602.5 1267,601.2C1271.2,600 1275.3,599.6 1279.5,598.8C1283.7,597.9 1287.8,597.1 1292,596.2C1296.2,595.4 1300.3,594.8 1304.5,593.8C1308.7,592.7 1312.8,591.2 1317,590C1321.2,588.8 1325.3,587.3 1329.5,586.2C1333.7,585.2 1338,584.2 1342,583.8C1346,583.3 1349.9,583.3 1353.2,583.8C1356.6,584.2 1358.9,585.4 1362,586.2C1365.1,587.1 1370.4,586.5 1372,588.8C1373.6,591 1372.3,596.9 1371.5,600C1370.7,603.1 1369,606.5 1367,607.5C1365,608.5 1361.6,607.5 1359.5,606.2C1357.4,605 1356.6,601.7 1354.5,600C1352.4,598.3 1349.9,596.7 1347,596.2C1344.1,595.8 1340.3,596.7 1337,597.5C1333.7,598.3 1329.5,599.6 1327,601.2C1324.5,602.9 1323.7,605.4 1322,607.5C1320.3,609.6 1319.5,612.3 1317,613.8C1314.5,615.2 1310.3,616 1307,616.2C1303.7,616.5 1300.3,615 1297,615C1293.7,615 1290.3,615.6 1287,616.2C1283.7,616.9 1280.3,618.1 1277,618.8C1273.7,619.4 1270.3,619.8 1267,620C1263.7,620.2 1259.7,620 1257,620C1254.3,620 1252.4,620.6 1250.8,620C1249.1,619.4 1246.4,618.5 1247,616.2Z" fill="#f6e8c3"/>
<path d="M1270.8,636.2C1272.4,633.9 1275.3,631.3 1278.2,629.5C1281.2,627.7 1285.3,627 1288.2,625.5C1291.2,624 1293,621.6 1295.8,620.5C1298.5,619.4 1301.7,618.4 1304.5,618.8C1307.3,619.1 1310.3,620.6 1312.5,622.5C1314.7,624.4 1316.2,627.4 1317.5,630C1318.8,632.6 1320.2,635.3 1320,638C1319.8,640.7 1316.6,643.6 1316.5,646.2C1316.4,648.9 1319.6,651.5 1319.5,653.8C1319.4,656 1317.4,657.9 1315.8,660C1314.1,662.1 1311.4,664.4 1309.5,666.2C1307.6,668.1 1306.2,670 1304.5,671.2C1302.8,672.5 1301,674 1299.5,673.8C1298,673.5 1297.2,671.5 1295.8,670C1294.3,668.5 1292.4,666.2 1290.8,665C1289.1,663.8 1287.6,662.7 1285.8,662.5C1283.9,662.3 1281.6,664.2 1279.5,663.8C1277.4,663.3 1274.9,661.9 1273.2,660C1271.6,658.1 1270.3,655.2 1269.5,652.5C1268.7,649.8 1268,646.5 1268.2,643.8C1268.5,641 1269.1,638.6 1270.8,636.2Z" fill="#f6e8c3"/>
<path d="M1237,677.5C1238.9,675.6 1240.8,674.7 1243.2,673.8C1245.8,672.8 1249.3,672.6 1252,672C1254.7,671.4 1257,671.2 1259.5,670C1262,668.8 1264.9,665 1267,665C1269.1,665 1271.4,667.5 1272,670C1272.6,672.5 1271.4,676.7 1270.8,680C1270.1,683.3 1268.9,686.7 1268.2,690C1267.6,693.3 1267.8,697.1 1267,700C1266.2,702.9 1265.1,705.4 1263.2,707.5C1261.4,709.6 1258.5,711.6 1255.8,712.5C1253,713.4 1249.7,713.5 1247,713C1244.3,712.5 1241.6,711.2 1239.5,709.5C1237.4,707.8 1235.8,705.1 1234.5,702.5C1233.2,699.9 1231.9,696.7 1231.5,693.8C1231.1,690.8 1231.1,687.7 1232,685C1232.9,682.3 1235.1,679.4 1237,677.5Z" fill="#f6e8c3"/>
<path d="M1207,707.5C1208.4,705.6 1211.4,704.6 1213.2,705C1215.1,705.4 1217.2,707.5 1218.2,710C1219.3,712.5 1219.1,716.7 1219.5,720C1219.9,723.3 1220.2,726.7 1220.8,730C1221.2,733.3 1222.5,737.5 1222.5,740C1222.5,742.5 1222.1,744.4 1220.8,745C1219.4,745.6 1216.3,745.4 1214.5,743.8C1212.7,742.1 1211.3,738.1 1210,735C1208.7,731.9 1207.3,728.1 1206.5,725C1205.7,721.9 1204.9,719.2 1205,716.2C1205.1,713.3 1205.6,709.4 1207,707.5Z" fill="#f6e8c3"/>
<path d="M1372,590C1373.2,587.7 1376.8,587.5 1379.5,587.5C1382.2,587.5 1386.4,587.5 1388.2,590C1390.1,592.5 1390.8,598.8 1390.8,602.5C1390.8,606.2 1389.1,609.2 1388.2,612.5C1387.4,615.8 1387,619.6 1385.8,622.5C1384.5,625.4 1382.8,628.1 1380.8,630C1378.7,631.9 1375.5,633.5 1373.2,633.8C1371,634 1368.5,632.7 1367,631.2C1365.5,629.8 1364.5,627.3 1364.5,625C1364.5,622.7 1366,620 1367,617.5C1368,615 1369.9,612.7 1370.8,610C1371.6,607.3 1371.8,604.6 1372,601.2C1372.2,597.9 1370.8,592.3 1372,590Z" fill="#f6e8c3"/>
<path d="M1333.2,703.8C1333.7,702 1336.6,702 1338.2,703C1339.9,704 1342.2,707.6 1343.2,710C1344.3,712.4 1344.9,715.8 1344.5,717.5C1344.1,719.2 1342.2,720.6 1340.8,720C1339.3,719.4 1337,716.5 1335.8,713.8C1334.5,711 1332.8,705.5 1333.2,703.8Z" fill="#f6e8c3"/>
<path d="M990,705C995.4,691.9 1012.5,705.8 1022.5,707.5C1032.5,709.2 1039.2,711.2 1050,715C1060.8,718.8 1074.2,729 1087.5,730C1100.8,731 1121.8,721.9 1130,721.2C1138.2,720.6 1135.8,724 1137,726.2C1138.2,728.5 1137.8,732.3 1137.5,735C1137.2,737.7 1136.2,740.4 1135,742.5C1133.8,744.6 1131.7,746 1130,747.5C1128.3,749 1127.1,750.4 1125,751.2C1122.9,752.1 1119.6,751.5 1117.5,752.5C1115.4,753.5 1113.5,755.4 1112.5,757.5C1111.5,759.6 1111,762.1 1111.2,765C1111.5,767.9 1113.8,772.5 1113.8,775C1113.8,777.5 1112.7,778.8 1111.2,780C1109.8,781.2 1107.3,782.3 1105,782.5C1102.7,782.7 1100,781.7 1097.5,781.2C1095,780.8 1092.1,779.8 1090,780C1087.9,780.2 1086,780.8 1085,782.5C1084,784.2 1084.6,787.9 1083.8,790C1082.9,792.1 1081.9,794 1080,795C1078.1,796 1075,796.5 1072.5,796.2C1070,796 1067.5,794.8 1065,793.8C1062.5,792.7 1059.6,791.2 1057.5,790C1055.4,788.8 1054,786.2 1052.5,786.2C1051,786.2 1050.2,788.3 1048.8,790C1047.3,791.7 1045.6,794.6 1043.8,796.2C1041.9,797.9 1039.8,799.2 1037.5,800C1035.2,800.8 1032.5,801.2 1030,801.2C1027.5,801.2 1025,800.8 1022.5,800C1020,799.2 1017.3,797.7 1015,796.2C1012.7,794.8 1010.8,792.7 1008.8,791.2C1006.7,789.8 1005.6,788.3 1002.5,787.5C999.4,786.7 992.1,800 990,786.2C987.9,772.5 984.6,718.1 990,705Z" fill="#f6e8c3"/>
<path d="M1092,743.8C1092.6,742.4 1094.1,740.7 1096.2,740C1098.4,739.3 1102.3,739.3 1105,739.5C1107.7,739.7 1110,741.1 1112.5,741.2C1115,741.4 1118.3,739.9 1120,740.5C1121.7,741.1 1122.9,743.5 1122.5,745C1122.1,746.5 1119.6,748.5 1117.5,749.5C1115.4,750.5 1112.5,750.8 1110,751.2C1107.5,751.7 1104.8,752 1102.5,752C1100.2,752 1097.9,751.9 1096.2,751.2C1094.6,750.6 1093.2,749.2 1092.5,748C1091.8,746.8 1091.4,745.1 1092,743.8Z" fill="#f5f5f5"/>
<path d="M1110,775C1109.8,772.3 1111.2,767.9 1112.5,765C1113.8,762.1 1115.4,759.4 1117.5,757.5C1119.6,755.6 1122.3,755 1125,753.8C1127.7,752.5 1131.2,751.5 1133.8,750C1136.2,748.5 1137.7,746 1140,745C1142.3,744 1145,743.5 1147.5,743.8C1150,744 1152.9,744.8 1155,746.2C1157.1,747.7 1158.8,750.2 1160,752.5C1161.2,754.8 1162,757.5 1162,760C1162,762.5 1161.2,765.4 1160,767.5C1158.8,769.6 1156.9,771.2 1155,772.5C1153.1,773.8 1150.8,774.4 1148.8,775C1146.7,775.6 1144.6,776.2 1142.5,776.2C1140.4,776.2 1138.1,775 1136.2,775C1134.4,775 1132.9,775.4 1131.2,776.2C1129.6,777.1 1128.1,779 1126.2,780C1124.4,781 1122.1,782.3 1120,782.5C1117.9,782.7 1115.4,782.5 1113.8,781.2C1112.1,780 1110.2,777.7 1110,775Z" fill="#f6e8c3"/>
<path d="M990,812.5C993.3,806.2 1005,814.8 1010,815C1015,815.2 1016.7,814.6 1020,813.8C1023.3,812.9 1026.7,811 1030,810C1033.3,809 1036.7,808.1 1040,807.5C1043.3,806.9 1046.7,806.7 1050,806.2C1053.3,805.8 1056.7,805.2 1060,805C1063.3,804.8 1066.7,804.8 1070,805C1073.3,805.2 1077.1,805.4 1080,806.2C1082.9,807.1 1085,809 1087.5,810C1090,811 1092.1,812.3 1095,812.5C1097.9,812.7 1101.7,811.9 1105,811.2C1108.3,810.6 1111.7,809.8 1115,808.8C1118.3,807.7 1122.1,806.2 1125,805C1127.9,803.8 1130.4,801.7 1132.5,801.2C1134.6,800.8 1136,801 1137.5,802.5C1139,804 1140.4,807.1 1141.2,810C1142.1,812.9 1141.9,816.7 1142.5,820C1143.1,823.3 1143.8,827.1 1145,830C1146.2,832.9 1148.7,835 1150,837.5C1151.3,840 1152.8,842.5 1153,845C1153.2,847.5 1152.4,850.4 1151.2,852.5C1150.1,854.6 1147.9,855.8 1146.2,857.5C1144.6,859.2 1142.5,860.8 1141.2,862.5C1140,864.2 1141.5,864.6 1138.8,867.5C1136,870.4 1135.6,884.6 1125,880C1114.4,875.4 1091.7,847.5 1075,840C1058.3,832.5 1039.2,832.9 1025,835C1010.8,837.1 995.8,856.2 990,852.5C984.2,848.8 986.7,818.8 990,812.5Z" fill="#f6e8c3"/>
<path d="M1180.5,805C1181,802.1 1182.4,797.9 1183.8,795C1185.1,792.1 1186.9,789.8 1188.8,787.5C1190.6,785.2 1192.7,783.1 1195,781.2C1197.3,779.4 1200.2,776.7 1202.5,776.2C1204.8,775.8 1206.7,777.3 1208.8,778.8C1210.8,780.2 1213.1,783.1 1215,785C1216.9,786.9 1214.2,785.4 1220,790C1225.8,794.6 1245.4,805.8 1250,812.5C1254.6,819.2 1257.3,827.1 1247.5,830C1237.7,832.9 1201.5,830.6 1191.2,830C1181,829.4 1187.7,827.9 1186.2,826.2C1184.8,824.6 1183.5,822.3 1182.5,820C1181.5,817.7 1180.8,815 1180.5,812.5C1180.2,810 1180,807.9 1180.5,805Z" fill="#f6e8c3"/>
<path d="M1205.5,715C1205.9,712.1 1208.2,709.6 1210,707.5C1211.8,705.4 1214.4,702.9 1216.2,702.5C1218.1,702.1 1220.6,702.9 1221.2,705C1221.9,707.1 1220,711.7 1220,715C1220,718.3 1220.8,721.7 1221.2,725C1221.7,728.3 1222.7,732.1 1222.5,735C1222.3,737.9 1221.2,741.7 1220,742.5C1218.8,743.3 1216.5,741.7 1215,740C1213.5,738.3 1212.5,735 1211.2,732.5C1210,730 1208.5,727.9 1207.5,725C1206.5,722.1 1205.1,717.9 1205.5,715Z" fill="#f6e8c3"/>
<path d="M857.5,607.5C857.7,604.2 860.2,600.8 861.2,597.5C862.3,594.2 862.9,590.8 863.8,587.5C864.6,584.2 864.6,579.8 866.2,577.5C867.9,575.2 870.6,574.2 873.8,573.8C876.9,573.3 881.9,574 885,575C888.1,576 890,578.1 892.5,580C895,581.9 897.5,584.4 900,586.2C902.5,588.1 905,589.2 907.5,591.2C910,593.3 913.3,595.6 915,598.8C916.7,601.9 917.5,606.5 917.5,610C917.5,613.5 916.7,617.5 915,620C913.3,622.5 910.4,623.8 907.5,625C904.6,626.2 900.8,627.3 897.5,627.5C894.2,627.7 891,626.7 887.5,626.2C884,625.8 879.8,625.4 876.2,625C872.7,624.6 869,625 866.2,623.8C863.5,622.5 861.5,620.2 860,617.5C858.5,614.8 857.3,610.8 857.5,607.5Z" fill="#f6e8c3"/>
<path d="M915,622.5C914.4,621 915.6,614.2 916.2,610C916.9,605.8 917.9,601.7 918.8,597.5C919.6,593.3 920.4,589.2 921.2,585C922.1,580.8 922.9,576.2 923.8,572.5C924.6,568.8 925.2,565.4 926.2,562.5C927.3,559.6 927.3,554.6 930,555C932.7,555.4 939,560.8 942.5,565C946,569.2 949.4,575.8 951.2,580C953.1,584.2 953.5,585.8 953.8,590C954,594.2 952.3,599.6 952.5,605C952.7,610.4 953.3,617.9 955,622.5C956.7,627.1 960.4,630 962.5,632.5C964.6,635 967.9,636.5 967.5,637.5C967.1,638.5 962.5,638.3 960,638.8C957.5,639.2 955,640.4 952.5,640C950,639.6 947.3,637.9 945,636.2C942.7,634.6 940.6,632.3 938.8,630C936.9,627.7 935.6,624.6 933.8,622.5C931.9,620.4 929.8,618.1 927.5,617.5C925.2,616.9 922.1,617.9 920,618.8C917.9,619.6 915.6,624 915,622.5Z" fill="#f6e8c3"/>
<path d="M905.5,640C904.5,644.4 907,649.1 908.8,652.5C910.5,655.9 913.1,658.3 916.2,660.5C919.4,662.7 923.5,664.2 927.5,665.5C931.5,666.8 935.4,667.6 940,668.5C944.6,669.4 950,670.2 955,671C960,671.8 965,672.6 970,673C975,673.4 980.4,673.5 985,673.5C989.6,673.5 996.2,674.2 997.5,673C998.8,671.8 997.9,672 992.5,666.2C987.1,660.5 973.8,644 965,638.8C956.2,633.5 948.3,637.1 940,635C931.7,632.9 920.8,625.4 915,626.2C909.2,627.1 906.5,635.6 905.5,640Z" fill="#f6e8c3"/>
<path d="M953.5,633C953.5,634 953.2,635.1 952.7,636C952.2,636.9 951.4,637.7 950.5,638.2C949.6,638.7 948.5,639 947.5,639C946.5,639 945.4,638.7 944.5,638.2C943.6,637.7 942.8,636.9 942.3,636C941.8,635.1 941.5,634 941.5,633C941.5,632 941.8,630.9 942.3,630C942.8,629.1 943.6,628.3 944.5,627.8C945.4,627.3 946.5,627 947.5,627C948.5,627 949.6,627.3 950.5,627.8C951.4,628.3 952.2,629.1 952.7,630C953.2,630.9 953.5,632 953.5,633Z" fill="#f5f5f5"/>
<path d="M856.8,734.5C856.8,735.4 856.5,736.5 856,737.2C855.6,738 854.8,738.8 854,739.3C853.2,739.7 852.2,740 851.2,740C850.3,740 849.3,739.7 848.5,739.3C847.7,738.8 846.9,738 846.5,737.2C846,736.5 845.8,735.4 845.8,734.5C845.8,733.6 846,732.5 846.5,731.8C846.9,731 847.7,730.2 848.5,729.7C849.3,729.3 850.3,729 851.2,729C852.2,729 853.2,729.3 854,729.7C854.8,730.2 855.6,731 856,731.8C856.5,732.5 856.8,733.6 856.8,734.5Z" fill="#f5f5f5"/>
<path d="M880.5,746.2C880.5,747 880.2,747.9 879.8,748.5C879.4,749.1 878.7,749.8 878,750.1C877.3,750.5 876.3,750.8 875.5,750.8C874.7,750.8 873.7,750.5 873,750.1C872.3,749.8 871.6,749.1 871.2,748.5C870.8,747.9 870.5,747 870.5,746.2C870.5,745.5 870.8,744.6 871.2,744C871.6,743.4 872.3,742.7 873,742.4C873.7,742 874.7,741.8 875.5,741.8C876.3,741.8 877.3,742 878,742.4C878.7,742.7 879.4,743.4 879.8,744C880.2,744.6 880.5,745.5 880.5,746.2Z" fill="#f5f5f5"/>
<path d="M890,715C891.2,712.5 895,712.5 897.5,712.5C900,712.5 903.3,713.3 905,715C906.7,716.7 907.7,720 907.5,722.5C907.3,725 905.6,728.3 903.8,730C901.9,731.7 898.5,732.9 896.2,732.5C894,732.1 891,730.4 890,727.5C889,724.6 888.8,717.5 890,715Z" fill="#f5f5f5"/>
<path d="M973.5,690C973.5,692.6 972.9,695.5 972,697.8C971,700 969.4,702.1 967.8,703.4C966.1,704.7 963.9,705.5 962,705.5C960.1,705.5 957.9,704.7 956.2,703.4C954.6,702.1 953,700 952,697.8C951.1,695.5 950.5,692.6 950.5,690C950.5,687.4 951.1,684.5 952,682.2C953,680 954.6,677.9 956.2,676.6C957.9,675.3 960.1,674.5 962,674.5C963.9,674.5 966.1,675.3 967.8,676.6C969.4,677.9 971,680 972,682.2C972.9,684.5 973.5,687.4 973.5,690Z" fill="#f6e8c3"/>
<path d="M980.2,728C980.2,730 979.7,732.3 978.7,734C977.8,735.7 976.2,737.4 974.5,738.4C972.8,739.4 970.7,740 968.8,740C966.8,740 964.7,739.4 963,738.4C961.3,737.4 959.7,735.7 958.8,734C957.8,732.3 957.2,730 957.2,728C957.2,726 957.8,723.7 958.8,722C959.7,720.3 961.3,718.6 963,717.6C964.7,716.6 966.8,716 968.8,716C970.7,716 972.8,716.6 974.5,717.6C976.2,718.6 977.8,720.3 978.7,722C979.7,723.7 980.2,726 980.2,728Z" fill="#f6e8c3"/>
<path d="M370,170C372.2,167.3 378.3,167.4 381.7,167.3C385,167.2 386.4,167.7 390,169.3C393.6,171 397.8,176 403.3,177.3C408.9,178.7 417.2,176.1 423.3,177.3C429.4,178.6 435,182.3 440,185C445,187.7 449.4,190.6 453.3,193.3C457.2,196.1 460.3,199.3 463.3,201.7C466.4,204 470.2,204.3 471.7,207.3C473.2,210.4 472.9,215.6 472.3,220C471.8,224.4 467.9,229 468.3,234C468.8,239 472.5,245.7 475,250C477.5,254.3 481.4,255.6 483.3,260C485.3,264.4 484.4,271.9 486.7,276.7C488.9,281.4 492.8,285.8 496.7,288.3C500.6,290.8 505.8,290.6 510,291.7C514.2,292.8 518.3,293.3 521.7,295C525,296.7 527.5,299.2 530,301.7C532.5,304.2 535.1,306.7 536.7,310C538.2,313.3 539.2,317.8 539.3,321.7C539.4,325.6 538.6,329.7 537.3,333.3C536.1,336.9 533.3,340 531.7,343.3C530,346.7 528.1,350 527.3,353.3C526.6,356.7 526.3,360.3 527.3,363.3C528.3,366.4 530.9,369.9 533.3,371.7C535.7,373.4 538.6,374.4 541.7,374C544.7,373.6 548.1,371.2 551.7,369.3C555.3,367.4 559.7,363.6 563.3,362.7C566.9,361.8 569.4,362.7 573.3,364C577.2,365.3 582.8,368.6 586.7,370.7C590.6,372.8 592.8,375.7 596.7,376.7C600.6,377.7 605.8,377.5 610,376.7C614.2,375.8 618.3,373.8 621.7,371.7C625,369.6 625.7,365.5 630,364C634.3,362.5 645.8,361.7 647.5,362.5C649.2,363.3 641.9,366.2 640,368.8C638.1,371.2 637.1,374.4 636.2,377.5C635.4,380.6 636,384.2 635,387.5C634,390.8 632.1,394.8 630,397.5C627.9,400.2 624.9,402.1 622.5,403.8C620.1,405.4 617,405.8 615.5,407.5C614,409.2 613.4,411.7 613.8,413.8C614.1,415.8 616.2,417.7 617.5,420C618.8,422.3 620,424.6 621.2,427.5C622.5,430.4 623.8,433.8 625,437.5C626.2,441.2 627.7,446.5 628.8,450C629.8,453.5 630,457.1 631.2,458.8C632.5,460.4 634.8,460.8 636.2,460C637.7,459.2 638.5,455.6 640,453.8C641.5,451.9 642.7,449.8 645,448.8C647.3,447.7 650.8,447.5 653.8,447.5C656.7,447.5 660.4,447.3 662.5,448.8C664.6,450.2 665.6,453.1 666.2,456.2C666.9,459.4 666.5,463.5 666.2,467.5C666,471.5 664.5,476.2 664.5,480C664.5,483.8 665.8,487.3 666.2,490C666.8,492.7 666,494.8 667.5,496.2C669,497.7 672.7,497.5 675,498.8C677.3,500 679.6,501.5 681.2,503.8C682.9,506 684.2,509.4 685,512.5C685.8,515.6 685.6,519.2 686.2,522.5C686.9,525.8 687.9,529.2 688.8,532.5C689.6,535.8 691,539.6 691.2,542.5C691.5,545.4 690.8,547.5 690,550C689.2,552.5 687.9,555.2 686.2,557.5C684.6,559.8 681.9,561.7 680,563.8C678.1,565.8 676.7,567.7 675,570C673.3,572.3 671.5,574.7 670,577.5C668.5,580.3 667.4,585.8 666.2,587C665.1,588.2 664.7,583.7 663.3,585C662,586.3 660,591.7 658.3,595C656.7,598.3 655,601.7 653.3,605C651.7,608.3 649.4,611.4 648.3,615C647.2,618.6 646.8,623.1 646.7,626.7C646.5,630.3 646.2,633.9 647.3,636.7C648.4,639.4 650.7,641.9 653.3,643.3C656,644.7 659.4,645.3 663.3,645C667.2,644.7 672.8,641.7 676.7,641.7C680.6,641.7 683.3,643.3 686.7,645C690,646.7 692.8,650.3 696.7,651.7C700.6,653.1 705.6,652.5 710,653.3C714.4,654.2 719.7,654.4 723.3,656.7C726.9,658.9 728.9,663.3 731.7,666.7C734.4,670 736.7,674.4 740,676.7C743.3,678.9 747.8,678.9 751.7,680C755.6,681.1 759.4,681.7 763.3,683.3C767.2,685 771.9,687.5 775,690C778.1,692.5 780.8,695 781.7,698.3C782.5,701.7 781.4,706.7 780,710C778.6,713.3 775.8,716.4 773.3,718.3C770.8,720.3 767.2,720.3 765,721.7C762.8,723.1 760.3,724.2 760,726.7C759.7,729.2 761.7,733.3 763.3,736.7C765,740 767.2,743.3 770,746.7C772.8,750 776.9,753.3 780,756.7C783.1,760 786.7,763.6 788.3,766.7C790,769.7 794.2,772.8 790,775C785.8,777.2 778.9,784.7 763.3,780C747.8,775.3 718.9,758.9 696.7,746.7C674.4,734.4 649.4,724.4 630,706.7C610.6,688.9 586.7,656.7 580,640C573.3,623.3 588.9,616.7 590,606.7C591.1,596.7 592.2,590.6 586.7,580C581.1,569.4 570.3,558.6 556.7,543.3C543.1,528.1 519.2,502.8 505,488.3C490.8,473.9 482.8,466.1 471.7,456.7C460.6,447.2 447.5,438.3 438.3,431.7C429.2,425 417.1,424.7 416.7,416.7C416.3,408.6 432.7,390 436,383.3C439.3,376.7 437.9,380.6 436.7,376.7C435.4,372.8 430.6,364.7 428.3,360C426.1,355.3 426.7,351.1 423.3,348.3C420,345.6 411.7,345.3 408.3,343.3C405,341.4 404.2,340.6 403.3,336.7C402.5,332.8 402.8,325 403.3,320C403.9,315 405.1,310.3 406.7,306.7C408.2,303.1 412.4,301.1 412.7,298.3C412.9,295.6 410.7,291.8 408.3,290C405.9,288.2 401.7,286.8 398.3,287.3C395,287.9 391.9,290.9 388.3,293.3C384.7,295.7 380.8,300.3 376.7,301.7C372.5,303.1 368.3,302.8 363.3,301.7C358.3,300.6 351.1,298.1 346.7,295C342.2,291.9 338.9,287.5 336.7,283.3C334.4,279.2 335.6,274.4 333.3,270C331.1,265.6 325.6,261.1 323.3,256.7C321.1,252.2 320,247.8 320,243.3C320,238.9 321.1,234.2 323.3,230C325.6,225.8 330,222.2 333.3,218.3C336.7,214.4 342.8,210.8 343.3,206.7C343.9,202.5 339.3,197.8 336.7,193.3C334,188.9 328.7,182.9 327.3,180C325.9,177.1 327.3,176.4 328.3,176C329.3,175.6 331.1,175 333.3,177.3C335.6,179.7 338.6,186.9 341.7,190C344.7,193.1 348.1,196 351.7,196C355.3,196 360.6,192.1 363.3,190C366.1,187.9 367.2,186.7 368.3,183.3C369.4,180 367.8,172.7 370,170Z" fill="#dfc27d"/>
<path d="M676,270C677.8,266.4 679.9,264.2 683.3,263.3C686.8,262.5 692.2,265.3 696.7,265C701.1,264.7 705.6,262.8 710,261.7C714.4,260.6 717.8,259.4 723.3,258.3C728.9,257.2 736.7,255.8 743.3,255C750,254.2 757.2,253.5 763.3,253.3C769.4,253.2 775.3,253.2 780,254C784.7,254.8 788.6,256.2 791.7,258.3C794.7,260.4 796.9,263.6 798.3,266.7C799.7,269.7 798.9,273.1 800,276.7C801.1,280.3 802.8,284.4 805,288.3C807.2,292.2 810.8,296.1 813.3,300C815.8,303.9 818.6,308.1 820,311.7C821.4,315.3 822.2,318.9 821.7,321.7C821.1,324.4 819.2,326.9 816.7,328.3C814.2,329.7 810,330.8 806.7,330C803.3,329.2 800,325.4 796.7,323.3C793.3,321.2 790.6,318.7 786.7,317.3C782.8,315.9 777.8,314.8 773.3,315C768.9,315.2 763.9,316.7 760,318.3C756.1,320 752.5,322.8 750,325C747.5,327.2 746.7,329.2 745,331.7C743.3,334.2 742.5,337.8 740,340C737.5,342.2 733.9,344.2 730,345C726.1,345.8 721.4,345.3 716.7,345C711.9,344.7 706.1,342.8 701.7,343.3C697.2,343.9 693.6,346.4 690,348.3C686.4,350.3 683.3,353.3 680,355C676.7,356.7 673.3,357.4 670,358.3C666.7,359.3 663.9,360.5 660,360.7C656.1,360.8 650.3,358.9 646.7,359.3C643.1,359.8 640.1,360.4 638.3,363.3C636.6,366.2 637.1,372.2 636,376.7C634.9,381.1 633.8,386.4 631.7,390C629.6,393.6 626.1,395.6 623.3,398.3C620.6,401.1 618.3,405.8 615,406.7C611.7,407.5 607.5,406.1 603.3,403.3C599.2,400.6 590,394.4 590,390C590,385.6 598.1,379.7 603.3,376.7C608.6,373.6 617.2,373.8 621.7,371.7C626.1,369.6 627.2,366.4 630,364C632.8,361.6 636.6,360.2 638.3,357.3C640.1,354.4 640.5,350.7 640.7,346.7C640.8,342.7 638.9,337.8 639.3,333.3C639.8,328.9 641.3,323.6 643.3,320C645.4,316.4 648.3,313.6 651.7,311.7C655,309.7 661.1,309.4 663.3,308.3C665.6,307.2 664.2,306.9 665,305C665.8,303.1 667.1,300 668.3,296.7C669.6,293.3 671.4,289.4 672.7,285C673.9,280.6 674.2,273.6 676,270Z" fill="#dfc27d"/>
<path d="M665,301.7C666.7,299.7 672.8,297.7 676.7,297.3C680.6,296.9 685,298.3 688.3,299.3C691.7,300.3 694.7,301.7 696.7,303.3C698.6,305 700.3,307.7 700,309.3C699.7,311 697.5,312.9 695,313.3C692.5,313.7 688.3,312.5 685,311.7C681.7,310.8 678.1,308.7 675,308.3C671.9,307.9 668.3,310.4 666.7,309.3C665,308.2 663.3,303.7 665,301.7Z" fill="#f6e8c3"/>
<path d="M737.3,299.3C737.3,299.7 737.2,300.2 737,300.5C736.8,300.8 736.5,301.2 736.2,301.4C735.8,301.5 735.4,301.7 735,301.7C734.6,301.7 734.2,301.5 733.8,301.4C733.5,301.2 733.2,300.8 733,300.5C732.8,300.2 732.7,299.7 732.7,299.3C732.7,298.9 732.8,298.5 733,298.2C733.2,297.8 733.5,297.5 733.8,297.3C734.2,297.1 734.6,297 735,297C735.4,297 735.8,297.1 736.2,297.3C736.5,297.5 736.8,297.8 737,298.2C737.2,298.5 737.3,298.9 737.3,299.3Z" fill="#f5f5f5"/>
<path d="M772.5,740C778.1,740.3 782.9,754.8 786.2,757C789.6,759.2 790.4,753.1 792.5,753C794.6,752.9 797.5,756.1 798.8,756.2C800,756.4 798.1,754.4 800,753.8C801.9,753.1 806.7,752.9 810,752.5C813.3,752.1 816.7,751.3 820,751.2C823.3,751.2 826.7,751.4 830,752C833.3,752.6 836.7,753.9 840,755C843.3,756.1 846.7,757.9 850,758.8C853.3,759.6 856.7,760 860,760C863.3,760 866.7,758.5 870,758.8C873.3,759 876.7,760.2 880,761.2C883.3,762.3 886.7,763.8 890,765C893.3,766.2 897.1,767.1 900,768.8C902.9,770.4 904.8,773.3 907.5,775C910.2,776.7 913.3,777.7 916.2,778.8C919.2,779.8 922.1,780.2 925,781.2C927.9,782.3 930.8,783.5 933.8,785C936.7,786.5 939.6,788.1 942.5,790C945.4,791.9 949,794.2 951.2,796.2C953.5,798.3 956.5,800.8 956.2,802.5C956,804.2 952.3,805.4 950,806.2C947.7,807.1 944.8,806.7 942.5,807.5C940.2,808.3 938.3,810 936.2,811.2C934.2,812.5 932.1,813.8 930,815C927.9,816.2 925,816.2 923.8,818.8C922.5,821.2 926.5,827.3 922.5,830C918.5,832.7 912.1,837.5 900,835C887.9,832.5 866.7,821.7 850,815C833.3,808.3 814.2,801.7 800,795C785.8,788.3 772.9,781.7 765,775C757.1,768.3 751.2,760.8 752.5,755C753.8,749.2 766.9,739.7 772.5,740Z" fill="#dfc27d"/>
<path d="M960,837.5C957.3,833.3 958.5,832.3 958.8,830C959,827.7 959.8,825.4 961.2,823.8C962.7,822.1 965.2,820.8 967.5,820C969.8,819.2 972.9,818.1 975,818.8C977.1,819.4 978.5,821.9 980,823.8C981.5,825.6 982.1,828.2 983.8,830C985.4,831.8 987.3,833.7 990,834.5C992.7,835.3 997.1,835.5 1000,835C1002.9,834.5 1005.4,832.7 1007.5,831.2C1009.6,829.8 1010.4,827.9 1012.5,826.2C1014.6,824.6 1017.5,822.7 1020,821.2C1022.5,819.8 1024.8,818.5 1027.5,817.5C1030.2,816.5 1033.3,815.6 1036.2,815C1039.2,814.4 1042.3,814.2 1045,813.8C1047.7,813.3 1049.6,812.8 1052.5,812.5C1055.4,812.2 1059.2,811.9 1062.5,812C1065.8,812.1 1069.6,812.3 1072.5,813C1075.4,813.7 1077.5,815.1 1080,816.2C1082.5,817.4 1085.6,820.2 1087.5,820C1089.4,819.8 1089.2,816.2 1091.2,815C1093.3,813.8 1096.9,813.3 1100,812.5C1103.1,811.7 1106.7,810.8 1110,810C1113.3,809.2 1116.7,808.1 1120,807.5C1123.3,806.9 1127.1,806 1130,806.2C1132.9,806.5 1135.8,806.9 1137.5,808.8C1139.2,810.6 1139.8,814.6 1140,817.5C1140.2,820.4 1138.5,823.3 1138.8,826.2C1139,829.2 1140,832.3 1141.2,835C1142.5,837.7 1145.2,840.2 1146.2,842.5C1147.3,844.8 1148.3,847.5 1147.5,848.8C1146.7,850 1143.5,850.2 1141.2,850C1139,849.8 1136,846.7 1133.8,847.5C1131.5,848.3 1129,851.2 1127.5,855C1126,858.8 1129.6,870 1125,870C1120.4,870 1108.3,861.2 1100,855C1091.7,848.8 1085.4,835.8 1075,832.5C1064.6,829.2 1050,831.7 1037.5,835C1025,838.3 1010.4,849.2 1000,852.5C989.6,855.8 981.7,857.5 975,855C968.3,852.5 962.7,841.7 960,837.5Z" fill="#dfc27d"/>
<path d="M1012,707.5C1018.2,706.7 1037.4,708.3 1050,712.5C1062.6,716.7 1080.5,727.7 1087.5,732.5C1094.5,737.3 1091.6,738.5 1092,741.2C1092.4,744 1089.7,746.5 1090,748.8C1090.3,751 1092.1,752.9 1093.8,755C1095.4,757.1 1097.9,759.6 1100,761.2C1102.1,762.9 1104.8,763.3 1106.2,765C1107.7,766.7 1109.2,769.4 1108.8,771.2C1108.3,773.1 1106,775.2 1103.8,776.2C1101.5,777.3 1098.1,776.9 1095,777.5C1091.9,778.1 1088.3,779.4 1085,780C1081.7,780.6 1078.3,781.2 1075,781.2C1071.7,781.2 1067.9,780.4 1065,780C1062.1,779.6 1059.8,779.4 1057.5,778.8C1055.2,778.1 1053.1,775.8 1051.2,776.2C1049.4,776.7 1047.5,779 1046.2,781.2C1045,783.5 1045,787.3 1043.8,790C1042.5,792.7 1041,795.8 1038.8,797.5C1036.5,799.2 1032.9,800 1030,800C1027.1,800 1024.2,798.8 1021.2,797.5C1018.3,796.2 1015.2,794.4 1012.5,792.5C1009.8,790.6 1007.5,788.5 1005,786.2C1002.5,784 1000,781 997.5,778.8C995,776.5 992.5,774.4 990,772.5C987.5,770.6 984.8,769.4 982.5,767.5C980.2,765.6 977.7,763.8 976.2,761.2C974.8,758.8 974,755.4 973.8,752.5C973.5,749.6 974,746.2 975,743.8C976,741.2 977.9,739 980,737.5C982.1,736 984.6,735.1 987.5,735C990.4,734.9 994.6,736.4 997.5,737C1000.4,737.6 1002.9,739.1 1005,738.8C1007.1,738.4 1008.8,736.9 1010,735C1011.2,733.1 1012.1,730.4 1012.5,727.5C1012.9,724.6 1012.6,720.8 1012.5,717.5C1012.4,714.2 1005.8,708.3 1012,707.5Z" fill="#dfc27d"/>
<path d="M1087.5,737.5C1088.1,735.7 1092.1,730 1095,728C1097.9,726 1101.7,726.2 1105,725.5C1108.3,724.8 1111.7,724.1 1115,723.5C1118.3,722.9 1122.3,721.8 1125,722C1127.7,722.2 1130.6,723.2 1131.2,725C1131.9,726.8 1130,730.6 1128.8,732.5C1127.5,734.4 1125.6,735.8 1123.8,736.2C1121.9,736.7 1119.8,735.4 1117.5,735C1115.2,734.6 1112.5,733.5 1110,733.8C1107.5,734 1104.8,735.4 1102.5,736.2C1100.2,737.1 1098.1,738.3 1096.2,738.8C1094.4,739.2 1092.7,739 1091.2,738.8C1089.8,738.5 1086.9,739.3 1087.5,737.5Z" fill="#dfc27d"/>
<path d="M1112,772.5C1111.9,770.1 1113.2,766.2 1114.5,763.8C1115.8,761.3 1117.5,759.4 1119.5,758C1121.5,756.6 1124.1,756.4 1126.2,755.5C1128.4,754.6 1130.7,753.6 1132.5,752.5C1134.3,751.4 1135.1,749.8 1137,748.8C1138.9,747.7 1141.2,746.5 1143.8,746.2C1146.2,746 1149.6,746.2 1152,747.5C1154.4,748.8 1156.7,751.2 1158,753.8C1159.3,756.2 1160.2,759.9 1160,762.5C1159.8,765.1 1158.5,767.8 1157,769.5C1155.5,771.2 1153.2,771.8 1151.2,772.5C1149.3,773.2 1147.4,774.1 1145.5,773.8C1143.6,773.4 1141.8,771.5 1140,770.5C1138.2,769.5 1136.6,768 1135,768C1133.4,768 1132,769.2 1130.5,770.5C1129,771.8 1127.9,774 1126.2,775.5C1124.6,777 1122.4,779.1 1120.5,779.5C1118.6,779.9 1116.4,779.2 1115,778C1113.6,776.8 1112.1,774.9 1112,772.5Z" fill="#dfc27d"/>
<path d="M1185,827.5C1184.2,825 1185.4,818.3 1186.2,815C1187.1,811.7 1188.3,809.6 1190,807.5C1191.7,805.4 1194,803.8 1196.2,802.5C1198.5,801.2 1201.5,801 1203.8,800C1206,799 1208.3,797.9 1210,796.2C1211.7,794.6 1212.5,791.5 1213.8,790C1215,788.5 1215.6,787.1 1217.5,787.5C1219.4,787.9 1219.6,788.3 1225,792.5C1230.4,796.7 1246.2,806.2 1250,812.5C1253.8,818.8 1257.3,827.1 1247.5,830C1237.7,832.9 1201.7,830.4 1191.2,830C1180.8,829.6 1185.8,830 1185,827.5Z" fill="#dfc27d"/>
<path d="M861.2,607.5C861.7,605 864,602.9 865,600C866,597.1 866.9,593.1 867.5,590C868.1,586.9 867.5,583.3 868.8,581.2C870,579.2 872.5,577.9 875,577.5C877.5,577.1 881.2,577.7 883.8,578.8C886.2,579.8 887.7,581.9 890,583.8C892.3,585.6 895,588.1 897.5,590C900,591.9 902.7,593.1 905,595C907.3,596.9 909.8,598.8 911.2,601.2C912.7,603.8 913.8,607.3 913.8,610C913.8,612.7 912.7,615.6 911.2,617.5C909.8,619.4 907.3,620.2 905,621.2C902.7,622.3 900.4,623.5 897.5,623.8C894.6,624 890.8,622.9 887.5,622.5C884.2,622.1 880.6,621.7 877.5,621.2C874.4,620.8 871.2,621 868.8,620C866.2,619 863.8,617.1 862.5,615C861.2,612.9 860.8,610 861.2,607.5Z" fill="#dfc27d"/>
<path d="M908,638.8C908.1,635.4 910.2,631.5 912,628.8C913.8,626 916.2,623.4 918.8,622C921.3,620.6 925,620 927.5,620.5C930,621 931.9,622.8 933.8,625C935.6,627.2 936.5,631.5 938.8,633.8C941,636 944.8,637.3 947.5,638.8C950.2,640.2 952.5,642.7 955,642.5C957.5,642.3 960.2,638.5 962.5,637.5C964.8,636.5 962.9,630.8 968.8,636.2C974.6,641.7 994.6,664.4 997.5,670C1000.4,675.6 989.6,670 986.2,670C982.9,670 981,670.1 977.5,670C974,669.9 969.2,669.9 965,669.5C960.8,669.1 956.7,668.2 952.5,667.5C948.3,666.8 944.2,665.8 940,665C935.8,664.2 931.2,664 927.5,662.5C923.8,661 920.2,658.5 917.5,656.2C914.8,654 912.8,651.7 911.2,648.8C909.7,645.8 907.9,642.1 908,638.8Z" fill="#dfc27d"/>
<path d="M924.5,577.5C924.8,575.2 925.1,572.3 926.2,570C927.4,567.7 929,563.8 931.2,563.8C933.5,563.8 937.3,567.5 940,570C942.7,572.5 945.6,575.8 947.5,578.8C949.4,581.7 950.8,584.8 951.2,587.5C951.7,590.2 950.6,592.1 950,595C949.4,597.9 949.2,604.2 947.5,605C945.8,605.8 942.3,601.7 940,600C937.7,598.3 935.8,596.9 933.8,595C931.7,593.1 929,590.6 927.5,588.8C926,586.9 925,585.6 924.5,583.8C924,581.9 924.2,579.8 924.5,577.5Z" fill="#dfc27d"/>
<path d="M955.5,687.5C956,685 957.4,681.5 958.8,680C960.1,678.5 962.3,678.1 963.8,678.8C965.2,679.4 966.7,681.5 967.5,683.8C968.3,686 969.2,689.8 968.8,692.5C968.3,695.2 966.5,698.5 965,700C963.5,701.5 961.1,702.1 959.5,701.2C957.9,700.4 956.2,697.3 955.5,695C954.8,692.7 955,690 955.5,687.5Z" fill="#dfc27d"/>
<path d="M961.2,726.2C961.8,724.3 963.3,721.6 965,720.5C966.7,719.4 969.4,718.8 971.2,719.5C973.1,720.2 975.2,722.8 976.2,725C977.3,727.2 977.9,730.5 977.5,732.5C977.1,734.5 975.6,736.4 973.8,737C971.9,737.6 968.2,737.1 966.2,736.2C964.3,735.4 962.8,733.7 962,732C961.2,730.3 960.8,728.2 961.2,726.2Z" fill="#dfc27d"/>
<path d="M788.8,678.8C788.9,676.6 790.5,673.8 792,672.5C793.5,671.2 796.2,670.6 798,671.2C799.8,671.9 801.8,674.3 802.5,676.2C803.2,678.2 802.9,681.2 802,683C801.1,684.8 798.8,686.6 797,687C795.2,687.4 792.6,686.9 791.2,685.5C789.9,684.1 788.6,680.9 788.8,678.8Z" fill="#dfc27d"/>
<path d="M814.2,710C814.9,707.6 817,704.9 818.8,703.8C820.5,702.6 823.1,702.2 825,703C826.9,703.8 828.8,706.5 830,708.8C831.2,711 832.4,713.8 832.5,716.2C832.6,718.8 831.8,722 830.5,723.8C829.2,725.5 827,727 825,727C823,727 820.4,725.2 818.8,723.8C817.1,722.2 815.8,720.3 815,718C814.2,715.7 813.6,712.4 814.2,710Z" fill="#dfc27d"/>
<path d="M882,696.2C882.9,694.9 885.5,693.3 887.5,693C889.5,692.7 891.9,693.3 893.8,694.5C895.6,695.7 898.1,698.2 898.8,700C899.4,701.8 898.8,704.2 897.5,705.5C896.2,706.8 893.3,708.1 891.2,708C889.2,707.9 886.5,706.1 885,705C883.5,703.9 882.5,702.7 882,701.2C881.5,699.8 881.1,697.6 882,696.2Z" fill="#dfc27d"/>
<path d="M951.2,399.5C948.8,400.5 948.8,403.5 947.5,406.2C946.2,409 944.9,412.9 943.8,416.2C942.6,419.6 941.5,422.5 940.8,426.2C940,430 937.7,436.5 939.2,438.8C940.8,441 946.1,446.5 950,440C953.9,433.5 962.3,406.8 962.5,400C962.7,393.2 953.8,398.5 951.2,399.5Z" fill="#dfc27d"/>
<path d="M769.5,355C769.8,353.1 772.1,351.7 773.8,351.2C775.4,350.8 778.2,351.5 779.5,352.5C780.8,353.5 781.6,355.8 781.2,357.5C780.9,359.2 779,362.2 777.5,363C776,363.8 773.3,363.8 772,362.5C770.7,361.2 769.2,356.9 769.5,355Z" fill="#dfc27d"/>
<path d="M801.2,353.8C802.2,352.5 804.4,351 806.2,351.2C808.1,351.5 811.2,353.1 812.5,355C813.8,356.9 814.2,360.6 813.8,362.5C813.3,364.4 811.7,366 810,366.2C808.3,366.5 805.3,365 803.8,363.8C802.2,362.5 800.9,360.4 800.5,358.8C800.1,357.1 800.3,355 801.2,353.8Z" fill="#dfc27d"/>
<path d="M846,437C846,437.4 845.8,437.9 845.5,438.2C845.1,438.6 844.6,439 844,439.2C843.4,439.4 842.7,439.5 842,439.5C841.3,439.5 840.6,439.4 840,439.2C839.4,439 838.9,438.6 838.5,438.2C838.2,437.9 838,437.4 838,437C838,436.6 838.2,436.1 838.5,435.8C838.9,435.4 839.4,435 840,434.8C840.6,434.6 841.3,434.5 842,434.5C842.7,434.5 843.4,434.6 844,434.8C844.6,435 845.1,435.4 845.5,435.8C845.8,436.1 846,436.6 846,437Z" fill="#dfc27d"/>
<path d="M865,473.8C865.6,472.2 866.8,469.4 868,469C869.2,468.6 870.9,470 872,471.2C873.1,472.5 874.4,474.7 874.5,476.2C874.6,477.8 873.7,479.7 872.5,480.5C871.3,481.3 868.8,481.7 867.5,481.2C866.2,480.8 864.9,479.2 864.5,478C864.1,476.8 864.4,475.2 865,473.8Z" fill="#dfc27d"/>
<path d="M1267.5,606.2C1268.3,605 1271.7,603.4 1274.5,602.5C1277.3,601.6 1281,601.2 1284.5,600.8C1288,600.2 1292.2,599.5 1295.8,599.5C1299.3,599.5 1303.2,599.7 1305.8,600.5C1308.2,601.3 1310.5,603.1 1310.8,604.5C1311,605.9 1309.3,607.8 1307,608.8C1304.7,609.7 1300.3,609.6 1297,610C1293.7,610.4 1290.3,611 1287,611.2C1283.7,611.5 1279.9,611.5 1277,611.2C1274.1,611 1271.1,610.8 1269.5,610C1267.9,609.2 1266.7,607.5 1267.5,606.2Z" fill="#dfc27d"/>
<path d="M1282,646.2C1282.4,644.2 1283.9,641.8 1285.8,640C1287.6,638.2 1290.8,636.1 1293.2,635.5C1295.8,634.9 1298.5,635.3 1300.8,636.2C1303,637.2 1305.5,639.2 1306.5,641.2C1307.5,643.3 1307.5,646.5 1307,648.8C1306.5,651 1305.1,653.5 1303.2,655C1301.4,656.5 1298.2,657.7 1295.8,658C1293.2,658.3 1290.3,657.9 1288.2,657C1286.2,656.1 1284.3,654.3 1283.2,652.5C1282.2,650.7 1281.6,648.3 1282,646.2Z" fill="#dfc27d"/>
<path d="M1243.2,697.5C1243.6,695.4 1245.1,692.7 1247,691.2C1248.9,689.8 1252.2,688.6 1254.5,688.8C1256.8,688.9 1259.5,690.3 1260.8,692C1262,693.7 1262.4,696.7 1262,698.8C1261.6,700.8 1260.1,703.1 1258.2,704.5C1256.4,705.9 1253,707.1 1250.8,707C1248.5,706.9 1246.2,705.3 1245,703.8C1243.8,702.2 1242.9,699.6 1243.2,697.5Z" fill="#dfc27d"/>
<path d="M1368.2,625.5C1368.7,624.1 1370.1,622.2 1372,621.2C1373.9,620.3 1377.4,619.6 1379.5,620C1381.6,620.4 1384.1,622.2 1384.5,623.8C1384.9,625.3 1383.7,628.2 1382,629.5C1380.3,630.8 1376.6,631.2 1374.5,631.2C1372.4,631.2 1370.5,630.5 1369.5,629.5C1368.5,628.5 1367.8,626.9 1368.2,625.5Z" fill="#dfc27d"/>
<path d="M391.2,476.2 387.5,482.5 384.5,490 383.8,497.5 384.5,506.2 375,520 412.5,542.5 437.5,510 417.5,480Z" fill="#dfc27d"/>
<path d="M318.7,364C318.7,364.8 318.4,365.7 317.9,366.3C317.4,367 316.5,367.7 315.7,368C314.8,368.4 313.7,368.7 312.7,368.7C311.7,368.7 310.5,368.4 309.7,368C308.8,367.7 308,367 307.5,366.3C307,365.7 306.7,364.8 306.7,364C306.7,363.2 307,362.3 307.5,361.7C308,361 308.8,360.3 309.7,360C310.5,359.6 311.7,359.3 312.7,359.3C313.7,359.3 314.8,359.6 315.7,360C316.5,360.3 317.4,361 317.9,361.7C318.4,362.3 318.7,363.2 318.7,364Z" fill="#dfc27d"/>
<path d="M300,381C300,381.8 299.7,382.7 299.2,383.3C298.7,384 297.9,384.7 297,385C296.1,385.4 295,385.7 294,385.7C293,385.7 291.9,385.4 291,385C290.1,384.7 289.3,384 288.8,383.3C288.3,382.7 288,381.8 288,381C288,380.2 288.3,379.3 288.8,378.7C289.3,378 290.1,377.3 291,377C291.9,376.6 293,376.3 294,376.3C295,376.3 296.1,376.6 297,377C297.9,377.3 298.7,378 299.2,378.7C299.7,379.3 300,380.2 300,381Z" fill="#dfc27d"/>
<path d="M346.3,410C346.3,410.3 346.1,410.7 345.7,411C345.3,411.3 344.7,411.6 344,411.7C343.3,411.9 342.4,412 341.7,412C340.9,412 340,411.9 339.3,411.7C338.7,411.6 338,411.3 337.6,411C337.2,410.7 337,410.3 337,410C337,409.7 337.2,409.3 337.6,409C338,408.7 338.7,408.4 339.3,408.3C340,408.1 340.9,408 341.7,408C342.4,408 343.3,408.1 344,408.3C344.7,408.4 345.3,408.7 345.7,409C346.1,409.3 346.3,409.7 346.3,410Z" fill="#dfc27d"/>
<path d="M347.2,409.5C347.2,409.9 347,410.4 346.5,410.8C346.1,411.1 345.3,411.5 344.5,411.7C343.7,411.9 342.7,412 341.8,412C340.8,412 339.8,411.9 339,411.7C338.2,411.5 337.4,411.1 337,410.8C336.5,410.4 336.2,409.9 336.2,409.5C336.2,409.1 336.5,408.6 337,408.2C337.4,407.9 338.2,407.5 339,407.3C339.8,407.1 340.8,407 341.8,407C342.7,407 343.7,407.1 344.5,407.3C345.3,407.5 346.1,407.9 346.5,408.2C347,408.6 347.2,409.1 347.2,409.5Z" fill="#dfc27d"/>
<path d="M458.3,306.7C459,302.8 461.1,298.8 463.3,296.7C465.6,294.6 468.9,294 471.7,294C474.4,294 477.9,294.8 480,296.7C482.1,298.5 484,301.9 484,305C484,308.1 480.8,311.7 480,315C479.2,318.3 478.8,321.7 479.3,325C479.9,328.3 481.8,331.7 483.3,335C484.8,338.3 487.2,341.4 488.3,345C489.4,348.6 489.2,352.5 490,356.7C490.8,360.8 491.7,365.8 493.3,370C495,374.2 497.2,378.3 500,381.7C502.8,385 506.7,387.5 510,390C513.3,392.5 516.7,394.4 520,396.7C523.3,398.9 526.7,402.9 530,403.3C533.3,403.8 536.1,400.2 540,399.3C543.9,398.5 549.4,397.7 553.3,398.3C557.2,399 560.6,401.1 563.3,403.3C566.1,405.6 567.8,408.3 570,411.7C572.2,415 574.7,419.2 576.7,423.3C578.6,427.5 579.7,432.2 581.7,436.7C583.6,441.1 586.4,445.6 588.3,450C590.3,454.4 591.9,458.9 593.3,463.3C594.7,467.8 595,472.5 596.7,476.7C598.3,480.8 600.6,485.3 603.3,488.3C606.1,491.4 609.7,493.1 613.3,495C616.9,496.9 621.9,497.8 625,500C628.1,502.2 630.3,505 631.7,508.3C633.1,511.7 633.2,516.1 633.3,520C633.5,523.9 633.8,528.3 632.7,531.7C631.6,535 628.8,537.8 626.7,540C624.6,542.2 621.7,543.1 620,545C618.3,546.9 618.3,550 616.7,551.7C615,553.3 612.5,555.3 610,555C607.5,554.7 604.2,551.4 601.7,550C599.2,548.6 597.5,547.2 595,546.7C592.5,546.1 589.2,544.4 586.7,546.7C584.2,548.9 583.9,560.6 580,560C576.1,559.4 569.4,549.4 563.3,543.3C557.2,537.2 550,530.6 543.3,523.3C536.7,516.1 531.1,508.6 523.3,500C515.6,491.4 505,479.7 496.7,471.7C488.3,463.6 480.6,457.8 473.3,451.7C466.1,445.6 458.1,439.7 453.3,435C448.6,430.3 445,427.5 445,423.3C445,419.2 450.6,413.3 453.3,410C456.1,406.7 459.7,406.1 461.7,403.3C463.6,400.6 464.7,396.7 465,393.3C465.3,390 464.4,386.7 463.3,383.3C462.2,380 460.3,376.1 458.3,373.3C456.4,370.6 453.6,369.2 451.7,366.7C449.7,364.2 447.4,361.7 446.7,358.3C445.9,355 446.5,350.3 447.3,346.7C448.2,343.1 450.1,339.4 451.7,336.7C453.2,333.9 455.4,332.8 456.7,330C457.9,327.2 459.1,323.9 459.3,320C459.6,316.1 457.7,310.6 458.3,306.7Z" fill="#bf812d"/>
<path d="M584,526.7C585.1,524.4 587.6,522.2 590,521.7C592.4,521.1 596.2,521.9 598.3,523.3C600.4,524.7 602.4,527.2 602.7,530C602.9,532.8 601.6,537.2 600,540C598.4,542.8 595.6,546.1 593.3,546.7C591.1,547.2 588.3,545.3 586.7,543.3C585,541.4 583.8,537.8 583.3,535C582.9,532.2 582.9,528.9 584,526.7Z" fill="#dfc27d"/>
<path d="M581.7,543.3C582.8,541.9 589.3,543.9 591.7,546.7C594.1,549.4 594.6,555.6 596,560C597.4,564.4 599.1,570 600,573.3C600.9,576.7 602.5,578.9 601.7,580C600.8,581.1 596.9,582.2 595,580C593.1,577.8 591.7,570.8 590,566.7C588.3,562.5 586.4,558.9 585,555C583.6,551.1 580.6,544.7 581.7,543.3Z" fill="#bf812d"/>
<path d="M591.7,639.3C593.9,636.3 597.2,635.9 600,635C602.8,634.1 605.6,633.4 608.3,634C611.1,634.6 613.6,636.2 616.7,638.3C619.7,640.4 623.1,644.2 626.7,646.7C630.3,649.2 634.4,651.1 638.3,653.3C642.2,655.6 645.8,658.1 650,660C654.2,661.9 659.4,663.3 663.3,665C667.2,666.7 670.8,668.1 673.3,670C675.8,671.9 678.1,675 678.3,676.7C678.6,678.3 676.7,678.9 675,680C673.3,681.1 670,681.1 668.3,683.3C666.7,685.6 665.3,690 665,693.3C664.7,696.7 665.6,700.3 666.7,703.3C667.8,706.4 672.2,708.9 671.7,711.7C671.1,714.4 670.3,721.9 663.3,720C656.4,718.1 640,706.7 630,700C620,693.3 610.6,687.8 603.3,680C596.1,672.2 588.6,660.1 586.7,653.3C584.7,646.6 589.4,642.4 591.7,639.3Z" fill="#bf812d"/>
<path d="M675,718.3C676.1,716.8 679.7,716.8 683.3,717.3C686.9,717.9 692.2,719.8 696.7,721.7C701.1,723.5 705.6,726.1 710,728.3C714.4,730.6 718.9,733.6 723.3,735C727.8,736.4 733.8,735.2 736.7,736.7C739.6,738.2 741.8,741.8 740.7,744C739.6,746.2 737.3,750.1 730,750C722.7,749.9 705.6,747.2 696.7,743.3C687.8,739.4 680.3,730.8 676.7,726.7C673.1,722.5 673.9,719.9 675,718.3Z" fill="#bf812d"/>
<path d="M877,791.2C877.5,789.2 879.3,786.8 881.2,785.5C883.2,784.2 886.5,783.3 888.8,783.8C891,784.2 893.5,786.1 894.5,788C895.5,789.9 895.7,792.9 895,795C894.3,797.1 892.5,799.5 890.5,800.5C888.5,801.5 885.1,801.8 883,801.2C880.9,800.8 879,799.2 878,797.5C877,795.8 876.5,793.2 877,791.2Z" fill="#bf812d"/>
<path d="M844.5,772C844.5,772.7 844.2,773.5 843.8,774.1C843.4,774.7 842.7,775.3 842,775.7C841.3,776 840.3,776.2 839.5,776.2C838.7,776.2 837.7,776 837,775.7C836.3,775.3 835.6,774.7 835.2,774.1C834.8,773.5 834.5,772.7 834.5,772C834.5,771.3 834.8,770.5 835.2,769.9C835.6,769.3 836.3,768.7 837,768.3C837.7,768 838.7,767.8 839.5,767.8C840.3,767.8 841.3,768 842,768.3C842.7,768.7 843.4,769.3 843.8,769.9C844.2,770.5 844.5,771.3 844.5,772Z" fill="#bf812d"/>
<path d="M869.5,588.8C869.9,586.8 872,585.3 873.8,584.5C875.5,583.7 877.9,583.5 880,583.8C882.1,584 884.6,584.8 886.2,586.2C887.9,587.7 888.5,590.8 890,592.5C891.5,594.2 892.9,595.2 895,596.2C897.1,597.3 900.4,597.5 902.5,598.8C904.6,600 906.3,601.9 907.5,603.8C908.7,605.6 909.7,608.1 909.5,610C909.3,611.9 907.8,613.5 906.2,615C904.7,616.5 902.3,617.9 900,618.8C897.7,619.6 895,620.2 892.5,620C890,619.8 887.3,618.5 885,617.5C882.7,616.5 880.5,615.2 878.8,613.8C877,612.3 875.3,610.6 874.5,608.8C873.7,606.9 874.3,604.6 873.8,602.5C873.2,600.4 872,598.5 871.2,596.2C870.5,594 869.1,590.7 869.5,588.8Z" fill="#bf812d"/>
<path d="M910.5,640C911,638.1 913.2,635.4 915,633.8C916.8,632.1 919.2,630.4 921.2,630C923.3,629.6 925.4,630.2 927.5,631.2C929.6,632.3 931.7,635 933.8,636.2C935.8,637.5 937.7,637.9 940,638.8C942.3,639.6 945,640.2 947.5,641.2C950,642.3 952.7,645.2 955,645C957.3,644.8 959.2,641 961.2,640C963.3,639 965,637.5 967.5,638.8C970,640 973.5,644.6 976.2,647.5C979,650.4 981.5,653.1 983.8,656.2C986,659.4 989.8,664.3 990,666.2C990.2,668.2 987.1,667.7 985,668C982.9,668.3 980.4,668.1 977.5,668C974.6,667.9 970.6,667.8 967.5,667.5C964.4,667.2 961.7,666.8 958.8,666.2C955.8,665.8 953.1,665.1 950,664.5C946.9,663.9 943.1,663.2 940,662.5C936.9,661.8 934,661 931.2,660C928.5,659 926.2,657.9 923.8,656.2C921.2,654.6 918.2,651.9 916.2,650C914.3,648.1 913,646.7 912,645C911,643.3 910,641.9 910.5,640Z" fill="#bf812d"/>
<path d="M968,730C968.4,728.8 970,726.6 971.2,726.2C972.5,725.9 974.7,726.9 975.5,728C976.3,729.1 976.8,731.8 976.2,733C975.8,734.2 973.8,735.4 972.5,735.5C971.2,735.6 969.5,734.7 968.8,733.8C968,732.8 967.6,731.2 968,730Z" fill="#bf812d"/>
<path d="M1018.8,710C1020.9,708.2 1026.5,709.4 1030,709.5C1033.5,709.6 1037.1,709.6 1040,710.5C1042.9,711.4 1045,713.4 1047.5,715C1050,716.6 1052.7,718.1 1055,720C1057.3,721.9 1059.4,724.4 1061.2,726.2C1063.1,728.1 1064.4,729.8 1066.2,731.2C1068.1,732.7 1070.2,734.2 1072.5,735C1074.8,735.8 1077.7,735.6 1080,736.2C1082.3,736.9 1085,737.5 1086.2,738.8C1087.5,740 1087.9,742.1 1087.5,743.8C1087.1,745.4 1085.6,747.5 1083.8,748.8C1081.9,750 1078.3,750.2 1076.2,751.2C1074.2,752.3 1071.9,753.1 1071.2,755C1070.6,756.9 1071.5,760.2 1072.5,762.5C1073.5,764.8 1075.8,766.9 1077.5,768.8C1079.2,770.6 1082.3,772.3 1082.5,773.8C1082.7,775.2 1080.6,776.8 1078.8,777.5C1076.9,778.2 1074,778.2 1071.2,778C1068.5,777.8 1065.2,777 1062.5,776.2C1059.8,775.5 1057.1,774.8 1055,773.8C1052.9,772.7 1051.5,771 1050,770C1048.5,769 1047.3,767.1 1046.2,767.5C1045.2,767.9 1044.8,770.6 1043.8,772.5C1042.7,774.4 1041.7,776.9 1040,778.8C1038.3,780.6 1036,782.4 1033.8,783.8C1031.5,785.1 1029,786.6 1026.2,787C1023.5,787.4 1020.2,787 1017.5,786.2C1014.8,785.5 1012.3,784 1010,782.5C1007.7,781 1005.8,779.4 1003.8,777.5C1001.7,775.6 999.8,773.1 997.5,771.2C995.2,769.4 992.3,767.7 990,766.2C987.7,764.8 985.6,764 983.8,762.5C981.9,761 979.9,759.6 978.8,757.5C977.6,755.4 977.1,752.5 977,750C976.9,747.5 977.1,744.4 978,742.5C978.9,740.6 980.5,739.5 982.5,738.8C984.5,738 987.5,737.8 990,738C992.5,738.2 995.2,739.2 997.5,740C999.8,740.8 1001.7,742.5 1003.8,742.5C1005.8,742.5 1008.3,741.2 1010,740C1011.7,738.8 1012.8,737.1 1013.8,735C1014.7,732.9 1015,730 1015.5,727.5C1016,725 1016.5,722.9 1017,720C1017.5,717.1 1016.6,711.8 1018.8,710Z" fill="#bf812d"/>
<path d="M1028.8,711.2C1030,710.1 1034.6,710 1037.5,710.5C1040.4,711 1043.5,713 1046.2,714.5C1049,716 1051.5,717.8 1053.8,719.5C1056,721.2 1058.1,722.9 1060,725C1061.9,727.1 1065,730.4 1065,732C1065,733.6 1061.9,734.5 1060,734.5C1058.1,734.5 1055.8,733.2 1053.8,732C1051.7,730.8 1049.6,728.9 1047.5,727.5C1045.4,726.1 1043.3,724.9 1041.2,723.8C1039.2,722.6 1036.9,721.5 1035,720.5C1033.1,719.5 1031,719 1030,717.5C1029,716 1027.5,712.4 1028.8,711.2Z" fill="#8c510a"/>
<path d="M1043.8,715C1044.2,713.8 1047.9,715.2 1050,716.2C1052.1,717.3 1054.3,719.2 1056.2,721.2C1058.2,723.3 1061.5,727.1 1061.8,728.8C1062,730.4 1059,731.5 1057.5,731.2C1056,731 1054.2,728.8 1052.5,727.5C1050.8,726.2 1049,725.8 1047.5,723.8C1046,721.7 1043.3,716.2 1043.8,715Z" fill="#543108"/>
<path d="M1047.5,718.8C1047.9,717.6 1050.8,717.7 1052.5,718.8C1054.2,719.8 1057.6,723.5 1058,725C1058.4,726.5 1056.3,727.9 1055,728C1053.7,728.1 1051.2,727 1050,725.5C1048.8,724 1047.1,719.9 1047.5,718.8Z" fill="#3b2002"/>
<path d="M991,748.8C991,749.1 990.8,749.5 990.5,749.8C990.2,750 989.8,750.3 989.2,750.5C988.7,750.6 988.1,750.8 987.5,750.8C986.9,750.8 986.3,750.6 985.8,750.5C985.2,750.3 984.8,750 984.5,749.8C984.2,749.5 984,749.1 984,748.8C984,748.4 984.2,748 984.5,747.8C984.8,747.5 985.2,747.2 985.8,747C986.3,746.9 986.9,746.8 987.5,746.8C988.1,746.8 988.7,746.9 989.2,747C989.8,747.2 990.2,747.5 990.5,747.8C990.8,748 991,748.4 991,748.8Z" fill="#8c510a"/>
<path d="M1114.5,770C1114.8,768.1 1116.2,765.4 1117.5,763.8C1118.8,762.1 1120.6,760.8 1122.5,760C1124.4,759.2 1126.9,759.6 1128.8,758.8C1130.6,757.9 1132.3,756.2 1133.8,755C1135.2,753.8 1135.8,752.3 1137.5,751.2C1139.2,750.2 1141.5,749 1143.8,748.8C1146,748.5 1149.2,749 1151.2,750C1153.3,751 1155.1,752.9 1156.2,755C1157.4,757.1 1158.2,760.4 1158,762.5C1157.8,764.6 1156.3,766.2 1155,767.5C1153.7,768.8 1151.7,769.4 1150,770C1148.3,770.6 1146.7,771.7 1145,771.2C1143.3,770.8 1141.7,768.5 1140,767.5C1138.3,766.5 1136.7,765 1135,765C1133.3,765 1131.7,766.2 1130,767.5C1128.3,768.8 1126.7,771 1125,772.5C1123.3,774 1121.6,775.8 1120,776.2C1118.4,776.7 1116.4,776 1115.5,775C1114.6,774 1114.2,771.9 1114.5,770Z" fill="#bf812d"/>
<path d="M1191.2,827.5 1191.2,815 1195,810 1202.5,807.5 1210,803.8 1215,797.5 1217.5,791.2 1222.5,791.2 1230,797.5 1237.5,805 1243.8,808.8 1250,812.5 1247.5,830Z" fill="#bf812d"/>
<path d="M1162,866.2C1162.3,865.1 1163.6,863.4 1165,863C1166.4,862.6 1168.9,863 1170.5,863.8C1172.1,864.5 1173.8,865.8 1174.5,867.5C1175.2,869.2 1176.2,872.7 1175,873.8C1173.8,874.8 1169,874.4 1167,873.8C1165,873.1 1163.8,871.2 1163,870C1162.2,868.8 1161.7,867.4 1162,866.2Z" fill="#bf812d"/>
<path d="M1173.8,868.8C1173.8,869.2 1173.6,869.8 1173.4,870.2C1173.2,870.7 1172.9,871.1 1172.5,871.3C1172.1,871.6 1171.7,871.8 1171.2,871.8C1170.8,871.8 1170.4,871.6 1170,871.3C1169.6,871.1 1169.3,870.7 1169.1,870.2C1168.9,869.8 1168.8,869.2 1168.8,868.8C1168.8,868.2 1168.9,867.7 1169.1,867.2C1169.3,866.8 1169.6,866.4 1170,866.2C1170.4,865.9 1170.8,865.8 1171.2,865.8C1171.7,865.8 1172.1,865.9 1172.5,866.2C1172.9,866.4 1173.2,866.8 1173.4,867.2C1173.6,867.7 1173.8,868.2 1173.8,868.8Z" fill="#8c510a"/>
<path d="M1071.2,818C1071.9,817.4 1075.2,817.1 1077.5,817.5C1079.8,817.9 1082.7,819.2 1085,820.5C1087.3,821.8 1089.9,823.5 1091.2,825C1092.6,826.5 1093.6,829.1 1093,829.5C1092.4,829.9 1089.7,828.6 1087.5,827.5C1085.3,826.4 1082.3,824.1 1080,823C1077.7,821.9 1075.2,821.8 1073.8,821C1072.3,820.2 1070.6,818.6 1071.2,818Z" fill="#bf812d"/>
<path d="M402.5,511.2C403.6,510 406.7,509.8 408.8,508.8C410.8,507.7 413.5,506.2 415,505C416.5,503.8 416.8,502.1 418,501.2C419.2,500.4 420.7,498.5 422.5,500C424.3,501.5 428.1,506.7 428.8,510C429.4,513.3 428.3,517.3 426.2,520C424.2,522.7 419.2,524.6 416.2,526.2C413.3,527.9 410.8,528.8 408.8,530C406.7,531.2 405.2,534.2 403.8,533.8C402.3,533.3 400.3,530.4 400,527.5C399.7,524.6 401.6,519 402,516.2C402.4,513.5 401.4,512.5 402.5,511.2Z" fill="#bf812d"/>
<path d="M798,403.8C798.4,402 800.5,399.2 802.5,397.5C804.5,395.8 807.1,394.8 810,393.8C812.9,392.7 816.7,392.1 820,391.2C823.3,390.4 826.7,389 830,388.8C833.3,388.5 836.7,388.9 840,389.5C843.3,390.1 847.3,391 850,392.5C852.7,394 855.2,396.5 856.2,398.8C857.3,401 856.9,403.8 856.2,406.2C855.6,408.8 854.4,411.9 852.5,413.8C850.6,415.6 847.9,416.9 845,417.5C842.1,418.1 838.3,417.7 835,417.5C831.7,417.3 828.3,416.8 825,416.2C821.7,415.8 818.1,415.3 815,414.5C811.9,413.7 808.8,412.3 806.2,411.2C803.8,410.2 801.4,409.2 800,408C798.6,406.8 797.6,405.5 798,403.8Z" fill="#c7eae5"/>
<path d="M820,396.2C820.6,394.2 823.5,393.3 826.2,392.5C829,391.7 832.9,391 836.2,391.2C839.6,391.5 843.8,392.3 846.2,393.8C848.8,395.2 850.6,397.5 851.2,400C851.9,402.5 851.2,406.2 850,408.8C848.8,411.3 846,414.5 843.8,415.5C841.5,416.5 838.8,415.2 836.2,414.5C833.8,413.8 831,412.8 828.8,411.2C826.5,409.7 824,407.5 822.5,405C821,402.5 819.4,398.3 820,396.2Z" fill="#80cdc1"/>
<path d="M902.5,393.8C903.5,392.1 907.1,394.4 910,395C912.9,395.6 917.5,396 920,397.5C922.5,399 924,400.8 925,403.8C926,406.7 926.2,411.7 926.2,415C926.2,418.3 926,421.9 925,423.8C924,425.6 921.9,426.7 920,426.2C918.1,425.8 915.8,423.3 913.8,421.2C911.7,419.2 909.2,416.5 907.5,413.8C905.8,411 904.6,408.3 903.8,405C902.9,401.7 901.5,395.4 902.5,393.8Z" fill="#c7eae5"/>
<path d="M923.2,421.2C923.2,421.6 923.1,422.1 923,422.4C922.8,422.7 922.5,423 922.2,423.2C922,423.4 921.6,423.5 921.2,423.5C920.9,423.5 920.5,423.4 920.2,423.2C920,423 919.7,422.7 919.5,422.4C919.4,422.1 919.2,421.6 919.2,421.2C919.2,420.9 919.4,420.4 919.5,420.1C919.7,419.8 920,419.5 920.2,419.3C920.5,419.1 920.9,419 921.2,419C921.6,419 922,419.1 922.2,419.3C922.5,419.5 922.8,419.8 923,420.1C923.1,420.4 923.2,420.9 923.2,421.2Z" fill="#80cdc1"/>
<path d="M810,476.2C811.8,474.7 814.8,474.5 817.5,474.5C820.2,474.5 824,474.9 826.2,476.2C828.5,477.6 830.2,479.8 831.2,482.5C832.3,485.2 832.7,489.6 832.5,492.5C832.3,495.4 831,497.7 830,500C829,502.3 827.1,504 826.2,506.2C825.4,508.5 824.6,511.5 825,513.8C825.4,516 827.3,518.5 828.8,520C830.2,521.5 831.7,521.9 833.8,522.5C835.8,523.1 839.6,522.7 841.2,523.8C842.9,524.8 843.8,526.9 843.8,528.8C843.8,530.6 842.7,533.5 841.2,535C839.8,536.5 837.3,536.5 835,537.5C832.7,538.5 830.4,540.4 827.5,541.2C824.6,542.1 820.8,542.1 817.5,542.5C814.2,542.9 810.8,543.8 807.5,543.8C804.2,543.8 800.6,543.3 797.5,542.5C794.4,541.7 790.8,540.2 788.8,538.8C786.8,537.3 785.6,535.8 785.5,533.8C785.4,531.7 786.8,528.8 788,526.2C789.2,523.8 790.9,521.2 792.5,518.8C794.1,516.2 796,514 797.5,511.2C799,508.5 800.1,505.6 801.2,502.5C802.4,499.4 803.5,495.6 804.5,492.5C805.5,489.4 806.1,486.5 807,483.8C807.9,481 808.2,477.8 810,476.2Z" fill="#c7eae5"/>
<path d="M813.8,523.5C813.8,524.5 813.5,525.6 813,526.5C812.5,527.4 811.7,528.2 810.9,528.7C810,529.2 809,529.5 808,529.5C807,529.5 806,529.2 805.1,528.7C804.3,528.2 803.5,527.4 803,526.5C802.5,525.6 802.2,524.5 802.2,523.5C802.2,522.5 802.5,521.4 803,520.5C803.5,519.6 804.3,518.8 805.1,518.3C806,517.8 807,517.5 808,517.5C809,517.5 810,517.8 810.9,518.3C811.7,518.8 812.5,519.6 813,520.5C813.5,521.4 813.8,522.5 813.8,523.5Z" fill="#80cdc1"/>
<path d="M840,496.2C840.8,494.4 843.5,493.3 846.2,492.5C849,491.7 853.1,491 856.2,491.2C859.4,491.5 862.3,492.5 865,493.8C867.7,495 870.4,496.7 872.5,498.8C874.6,500.8 876.9,504 877.5,506.2C878.1,508.5 877.5,510.8 876.2,512.5C875,514.2 872.3,515.4 870,516.2C867.7,517.1 865.2,517.7 862.5,517.5C859.8,517.3 856.5,516.2 853.8,515C851,513.8 848.3,511.9 846.2,510C844.2,508.1 842.3,506 841.2,503.8C840.2,501.5 839.2,498.1 840,496.2Z" fill="#c7eae5"/>
<path d="M848.8,498.8C849.4,496.8 852.5,496 855,495.8C857.5,495.5 861.2,496.2 863.8,497.5C866.2,498.8 869,501.7 870,503.8C871,505.8 870.5,508.2 869.5,510C868.5,511.8 866,514.1 863.8,514.5C861.5,514.9 858.3,513.7 856.2,512.5C854.2,511.3 852.5,509.8 851.2,507.5C850,505.2 848.1,500.7 848.8,498.8Z" fill="#80cdc1"/>
<path d="M917,536.2C917,536.6 916.9,537.1 916.7,537.4C916.6,537.7 916.3,538 916,538.2C915.7,538.4 915.3,538.5 915,538.5C914.7,538.5 914.3,538.4 914,538.2C913.7,538 913.4,537.7 913.3,537.4C913.1,537.1 913,536.6 913,536.2C913,535.9 913.1,535.4 913.3,535.1C913.4,534.8 913.7,534.5 914,534.3C914.3,534.1 914.7,534 915,534C915.3,534 915.7,534.1 916,534.3C916.3,534.5 916.6,534.8 916.7,535.1C916.9,535.4 917,535.9 917,536.2Z" fill="#c7eae5"/>
<path d="M755.5,590C755.8,586.9 757.4,583.5 758.8,581.2C760.1,579 761.9,576.9 763.8,576.2C765.6,575.6 768.8,576 770,577.5C771.2,579 771.7,582.3 771.2,585C770.8,587.7 769,591.2 767.5,593.8C766,596.2 764.2,599 762.5,600C760.8,601 758.2,601.7 757,600C755.8,598.3 755.2,593.1 755.5,590Z" fill="#c7eae5"/>
<path d="M816.2,665C816.5,662.8 818.3,660.7 820,659.5C821.7,658.3 824.5,657.5 826.2,658C828,658.5 829.2,660.5 830.5,662.5C831.8,664.5 832.2,668.3 833.8,670C835.3,671.7 837.7,671.9 840,672.5C842.3,673.1 845.2,672.7 847.5,673.8C849.8,674.8 852.4,676.7 853.8,678.8C855.1,680.8 855.7,684 855.5,686.2C855.3,688.5 854,691 852.5,692.5C851,694 848.5,695.3 846.2,695.5C844,695.7 841,694.9 838.8,693.8C836.5,692.6 834.4,690.6 832.5,688.8C830.6,686.9 829,684.6 827.5,682.5C826,680.4 825.2,677.9 823.8,676.2C822.3,674.6 820,674.4 818.8,672.5C817.5,670.6 816,667.2 816.2,665Z" fill="#c7eae5"/>
<path d="M834.5,681.2C834.9,679.5 837,677.7 838.8,677C840.5,676.3 843.1,676.4 845,677C846.9,677.6 849,678.8 850,680.5C851,682.2 851.7,685.2 851.2,687C850.8,688.8 849.2,690.4 847.5,691.2C845.8,692.1 843.1,692.6 841.2,692C839.4,691.4 837.4,689.3 836.2,687.5C835.1,685.7 834.1,683 834.5,681.2Z" fill="#80cdc1"/>
<path d="M826,665C826,665.8 825.8,666.6 825.5,667.2C825.2,667.9 824.8,668.5 824.2,668.9C823.7,669.3 823.1,669.5 822.5,669.5C821.9,669.5 821.3,669.3 820.8,668.9C820.2,668.5 819.8,667.9 819.5,667.2C819.2,666.6 819,665.8 819,665C819,664.2 819.2,663.4 819.5,662.8C819.8,662.1 820.2,661.5 820.8,661.1C821.3,660.7 821.9,660.5 822.5,660.5C823.1,660.5 823.7,660.7 824.2,661.1C824.8,661.5 825.2,662.1 825.5,662.8C825.8,663.4 826,664.2 826,665Z" fill="#80cdc1"/>
<path d="M883.8,632.5C884,631.4 886,630.3 887.5,630.5C889,630.7 891.2,632.5 892.5,633.8C893.8,635 895.2,637 895,638C894.8,639 892.7,639.7 891.2,639.5C889.8,639.3 887.5,638.2 886.2,637C885,635.8 883.5,633.6 883.8,632.5Z" fill="#c7eae5"/>
<path d="M899.5,647.5C900.2,645.8 902.5,644.6 903.8,645C905,645.4 906.4,647.7 907,650C907.6,652.3 907.8,656.2 907.5,658.8C907.2,661.2 906.5,664.4 905.5,665C904.5,665.6 902.2,664.2 901.2,662.5C900.2,660.8 899.8,657.5 899.5,655C899.2,652.5 898.8,649.2 899.5,647.5Z" fill="#c7eae5"/>
<path d="M929.5,671.2C929.7,669.8 932.8,669 935,668.8C937.2,668.5 940,669.4 942.5,670C945,670.6 948.1,671.2 950,672.5C951.9,673.8 953.5,675.6 953.8,677.5C954,679.4 952.7,682.3 951.2,683.8C949.8,685.2 947.1,686.5 945,686.2C942.9,686 940.6,684 938.8,682.5C936.9,681 935.3,679.4 933.8,677.5C932.2,675.6 929.3,672.7 929.5,671.2Z" fill="#c7eae5"/>
<path d="M934.5,673.8C934.9,672.5 937.8,670.7 940,670.5C942.2,670.3 945.5,671.4 947.5,672.5C949.5,673.6 951.8,675.4 952,677C952.2,678.6 950.3,681.3 948.8,682C947.2,682.7 944.4,681.9 942.5,681.2C940.6,680.6 938.8,679.2 937.5,678C936.2,676.8 934.1,675 934.5,673.8Z" fill="#80cdc1"/>
<path d="M943.8,720C944.2,717.5 946.2,715 947.5,715C948.8,715 950.4,717.5 951.2,720C952.1,722.5 951.5,727.1 952.5,730C953.5,732.9 955.4,735.8 957.5,737.5C959.6,739.2 962.7,738.8 965,740C967.3,741.2 969.6,742.7 971.2,745C972.9,747.3 974.6,750.6 975,753.8C975.4,756.9 973.3,761 973.8,763.8C974.2,766.5 976.2,768.1 977.5,770C978.8,771.9 981.2,773.5 981.2,775C981.2,776.5 979.4,778.3 977.5,778.8C975.6,779.2 972.1,778.8 970,777.5C967.9,776.2 966.7,773.3 965,771.2C963.3,769.2 962.1,766.7 960,765C957.9,763.3 954.8,762.7 952.5,761.2C950.2,759.8 947.9,758.1 946.2,756.2C944.6,754.4 943,752.7 942.5,750C942,747.3 942.7,743.3 943,740C943.3,736.7 944.4,733.3 944.5,730C944.6,726.7 943.2,722.5 943.8,720Z" fill="#c7eae5"/>
<path d="M948,748.8C948.3,746.7 950,744.1 952,743C954,741.9 957.6,741.5 960,742C962.4,742.5 964.7,744.3 966.2,746.2C967.8,748.2 969.2,751.1 969.5,753.8C969.8,756.4 969.2,760.1 968,762C966.8,763.9 964.6,765.1 962.5,765C960.4,764.9 957.6,762.8 955.5,761.2C953.4,759.7 951.2,757.6 950,755.5C948.8,753.4 947.7,750.8 948,748.8Z" fill="#80cdc1"/>
<path d="M940,751.2C940.1,749.4 942.1,747.7 943.8,746.2C945.4,744.8 947.7,743.3 950,742.5C952.3,741.7 955,741 957.5,741.2C960,741.5 962.7,742.3 965,743.8C967.3,745.2 969.8,747.5 971.2,750C972.7,752.5 972.9,756 973.8,758.8C974.6,761.5 975,764.2 976.2,766.2C977.5,768.3 980,769.6 981.2,771.2C982.5,772.9 984.2,775 983.8,776.2C983.3,777.5 980.6,778.6 978.8,778.8C976.9,778.9 974.6,777.8 972.5,777C970.4,776.2 968.1,774.9 966.2,773.8C964.4,772.6 963.1,771.5 961.2,770C959.4,768.5 957.1,766.5 955,765C952.9,763.5 950.8,762.5 948.8,761.2C946.8,760 944.5,759.2 943,757.5C941.5,755.8 939.9,753.1 940,751.2Z" fill="#c7eae5"/>
<path d="M944.5,720C945.1,717.1 947.5,716 948.8,716.2C950,716.5 951.6,719 952,721.2C952.4,723.5 951.8,727.3 951.2,730C950.7,732.7 949.8,736.9 948.8,737.5C947.7,738.1 945.7,736.7 945,733.8C944.3,730.8 943.9,722.9 944.5,720Z" fill="#c7eae5"/>
<path d="M947.5,750C948.1,748.2 950.4,746 952.5,745C954.6,744 957.7,743.2 960,743.8C962.3,744.2 964.6,746.1 966.2,748C967.9,749.9 969.5,752.6 970,755C970.5,757.4 970.3,760.8 969.5,762.5C968.7,764.2 966.8,764.8 965,765C963.2,765.2 960.8,764.6 958.8,763.8C956.7,762.9 954.2,761.4 952.5,760C950.8,758.6 949.6,757.2 948.8,755.5C947.9,753.8 946.9,751.8 947.5,750Z" fill="#80cdc1"/>
<path d="M1144.5,725C1145.1,723.3 1147.6,720.5 1150,718.8C1152.4,717 1155.8,715.3 1158.8,714.5C1161.7,713.7 1164.8,713.7 1167.5,713.8C1170.2,713.8 1172.9,714 1175,715C1177.1,716 1178.1,718.8 1180,720C1181.9,721.2 1183.8,721.9 1186.2,722.5C1188.8,723.1 1192.3,722.7 1195,723.8C1197.7,724.8 1200.2,726.7 1202.5,728.8C1204.8,730.8 1207.3,733.5 1208.8,736.2C1210.2,739 1211.2,742.1 1211.2,745C1211.2,747.9 1210,751 1208.8,753.8C1207.5,756.5 1205.6,759 1203.8,761.2C1201.9,763.5 1199.4,765.2 1197.5,767.5C1195.6,769.8 1194.4,772.5 1192.5,775C1190.6,777.5 1188.1,780 1186.2,782.5C1184.4,785 1183.1,787.8 1181.2,790C1179.4,792.2 1177.3,794.5 1175,795.5C1172.7,796.5 1170,796.8 1167.5,796.2C1165,795.8 1162.3,793.8 1160,792.5C1157.7,791.2 1155.8,788.8 1153.8,788.8C1151.7,788.8 1149.8,791.2 1147.5,792.5C1145.2,793.8 1142.7,795.6 1140,796.2C1137.3,796.9 1133.8,796.9 1131.2,796.2C1128.8,795.6 1126.7,794.2 1125,792.5C1123.3,790.8 1121.7,788.5 1121.2,786.2C1120.8,784 1121.7,780.8 1122.5,778.8C1123.3,776.7 1124.6,775 1126.2,773.8C1127.9,772.5 1130.2,771.5 1132.5,771.2C1134.8,771 1137.5,771.4 1140,772C1142.5,772.6 1145,774.7 1147.5,775C1150,775.3 1152.9,775 1155,773.8C1157.1,772.5 1158.8,769.8 1160,767.5C1161.2,765.2 1162.2,762.5 1162.5,760C1162.8,757.5 1162.4,755 1162,752.5C1161.6,750 1161,747.5 1160,745C1159,742.5 1157.7,739.6 1156.2,737.5C1154.8,735.4 1152.9,734 1151.2,732.5C1149.6,731 1147.4,730 1146.2,728.8C1145.1,727.5 1143.9,726.7 1144.5,725Z" fill="#c7eae5"/>
<path d="M1148.8,723.8C1149.7,721.9 1153.3,718.4 1156.2,717C1159.2,715.6 1163.3,715.4 1166.2,715.5C1169.2,715.6 1171.7,716.1 1173.8,717.5C1175.8,718.9 1176.7,722.5 1178.8,723.8C1180.8,725 1183.5,724.6 1186.2,725C1189,725.4 1192.5,725.2 1195,726.2C1197.5,727.3 1199.4,729.2 1201.2,731.2C1203.1,733.3 1205.1,736.2 1206.2,738.8C1207.4,741.2 1208.1,743.8 1208,746.2C1207.9,748.8 1206.8,751.2 1205.5,753.8C1204.2,756.2 1201.8,759 1200,761.2C1198.2,763.5 1196.2,765.2 1194.5,767.5C1192.8,769.8 1191.6,772.5 1190,775C1188.4,777.5 1186.9,780 1185,782.5C1183.1,785 1180.8,788.2 1178.8,790C1176.7,791.8 1174.6,792.6 1172.5,793C1170.4,793.4 1168.3,793.2 1166.2,792.5C1164.2,791.8 1162.1,790 1160,788.8C1157.9,787.5 1155.8,785 1153.8,785C1151.7,785 1149.8,787.4 1147.5,788.8C1145.2,790.1 1142.5,792.3 1140,793C1137.5,793.7 1134.7,793.6 1132.5,793C1130.3,792.4 1128.4,790.9 1127,789.5C1125.6,788.1 1124.5,786.3 1124.2,784.5C1124,782.7 1124.5,780.3 1125.5,778.8C1126.5,777.2 1128.2,775.8 1130,775C1131.8,774.2 1134,773.5 1136.2,773.8C1138.5,774 1141.2,775.6 1143.8,776.2C1146.2,776.9 1148.8,777.7 1151.2,777.5C1153.8,777.3 1156.8,776.7 1158.8,775C1160.7,773.3 1162,770.1 1163,767.5C1164,764.9 1164.8,762.1 1165,759.5C1165.2,756.9 1164.9,754.4 1164.5,752C1164.1,749.6 1163.3,747.3 1162.5,745C1161.7,742.7 1160.8,740.1 1159.5,738C1158.2,735.9 1156.5,734.2 1155,732.5C1153.5,730.8 1151.5,729.5 1150.5,728C1149.5,726.5 1147.8,725.6 1148.8,723.8Z" fill="#80cdc1"/>
<path d="M1156.2,718C1157.5,716.3 1162.5,716 1165,716.2C1167.5,716.5 1170,717.8 1171.2,719.5C1172.5,721.2 1172.9,724.3 1172.5,726.2C1172.1,728.2 1170.4,730.6 1168.8,731.2C1167.1,731.9 1164.4,730.8 1162.5,730C1160.6,729.2 1158.5,728.2 1157.5,726.2C1156.5,724.2 1155,719.7 1156.2,718Z" fill="#35978f"/>
<path d="M1166.2,745C1166.9,742.3 1168.5,739.8 1170,737.5C1171.5,735.2 1172.9,733.1 1175,731.2C1177.1,729.4 1179.6,727 1182.5,726.2C1185.4,725.5 1189.6,726 1192.5,727C1195.4,728 1197.8,729.8 1200,732C1202.2,734.2 1204.5,737.4 1205.5,740C1206.5,742.6 1206.7,745 1206.2,747.5C1205.8,750 1204.5,752.5 1203,755C1201.5,757.5 1199.3,760.2 1197.5,762.5C1195.7,764.8 1193.7,766.5 1192,768.8C1190.3,771 1188.9,773.8 1187.5,776.2C1186.1,778.8 1185.3,781.5 1183.8,783.8C1182.2,786 1179.9,788.2 1178,789.5C1176.1,790.8 1174.3,791.2 1172.5,791.2C1170.7,791.3 1168.9,790.8 1167,790C1165.1,789.2 1163.3,787.5 1161.2,786.2C1159.2,785 1156.8,782.5 1154.5,782.5C1152.2,782.5 1149.9,785 1147.5,786.2C1145.1,787.5 1142.5,789.4 1140,790C1137.5,790.6 1134.5,790.6 1132.5,790C1130.5,789.4 1128.9,787.7 1128,786.2C1127.1,784.8 1126.7,782.8 1127,781.2C1127.3,779.7 1128.5,777.8 1130,777C1131.5,776.2 1133.8,776 1136.2,776.2C1138.8,776.5 1142.3,778.1 1145,778.8C1147.7,779.4 1150,780.3 1152.5,780C1155,779.7 1158,778.7 1160,777C1162,775.3 1163.5,772.4 1164.5,770C1165.5,767.6 1166,765.2 1166.2,762.5C1166.5,759.8 1166.2,756.7 1166.2,753.8C1166.2,750.8 1165.6,747.7 1166.2,745Z" fill="#35978f"/>
<path d="M1168.8,747.5C1169.6,745.2 1170.8,742.3 1172.5,740C1174.2,737.7 1176.5,735.3 1178.8,733.8C1181,732.2 1183.5,730.7 1186.2,730.5C1189,730.3 1192.5,731.1 1195,732.5C1197.5,733.9 1199.9,736.5 1201.2,738.8C1202.6,741 1203.2,743.8 1203,746.2C1202.8,748.8 1201.4,751.5 1200,753.8C1198.6,756 1196.4,758.1 1194.5,760C1192.6,761.9 1190.5,763.5 1188.8,765C1187,766.5 1185.6,767.9 1183.8,768.8C1181.9,769.6 1179.6,770.4 1177.5,770C1175.4,769.6 1172.8,767.9 1171.2,766.2C1169.7,764.6 1168.6,762.1 1168,760C1167.4,757.9 1167.4,755.8 1167.5,753.8C1167.6,751.7 1167.9,749.8 1168.8,747.5Z" fill="#01665e"/>
<path d="M1172.5,753.8C1173.1,752.1 1174.6,750 1176.2,748.8C1177.9,747.5 1180.4,746.2 1182.5,746.2C1184.6,746.2 1187.1,747.5 1188.8,748.8C1190.4,750 1192.1,751.9 1192.5,753.8C1192.9,755.6 1192.3,758.2 1191.2,760C1190.2,761.8 1188.1,763.5 1186.2,764.5C1184.4,765.5 1181.9,766.4 1180,766.2C1178.1,766.1 1176.2,765 1175,763.8C1173.8,762.5 1172.9,760.4 1172.5,758.8C1172.1,757.1 1171.9,755.4 1172.5,753.8Z" fill="#003c30"/>
<path d="M1180,736.2C1180.8,735 1184,733.8 1186.2,733.8C1188.5,733.8 1192.1,735 1193.8,736.2C1195.4,737.5 1196.5,739.8 1196.2,741.2C1196,742.7 1194.2,744.5 1192.5,745C1190.8,745.5 1188.1,745.1 1186.2,744.5C1184.4,743.9 1182.3,742.6 1181.2,741.2C1180.2,739.9 1179.2,737.5 1180,736.2Z" fill="#003c30"/>
<path d="M1165.5,840C1166.5,837.9 1168,836.2 1170,835C1172,833.8 1175.2,833 1177.5,833C1179.8,833 1183.1,833.8 1183.8,835C1184.4,836.2 1182.5,837.9 1181.2,840C1180,842.1 1177.7,845 1176.2,847.5C1174.8,850 1174,852.9 1172.5,855C1171,857.1 1169.2,859.6 1167.5,860C1165.8,860.4 1163.2,858.8 1162,857.5C1160.8,856.2 1159.7,854.2 1160,852.5C1160.3,850.8 1162.8,849.6 1163.8,847.5C1164.7,845.4 1164.5,842.1 1165.5,840Z" fill="#c7eae5"/>
<path d="M1169.5,854.5C1169.5,855.1 1169.3,855.8 1169,856.4C1168.6,856.9 1168.1,857.4 1167.5,857.7C1166.9,858.1 1166.2,858.2 1165.5,858.2C1164.8,858.2 1164.1,858.1 1163.5,857.7C1162.9,857.4 1162.4,856.9 1162,856.4C1161.7,855.8 1161.5,855.1 1161.5,854.5C1161.5,853.9 1161.7,853.2 1162,852.6C1162.4,852.1 1162.9,851.6 1163.5,851.3C1164.1,850.9 1164.8,850.8 1165.5,850.8C1166.2,850.8 1166.9,850.9 1167.5,851.3C1168.1,851.6 1168.6,852.1 1169,852.6C1169.3,853.2 1169.5,853.9 1169.5,854.5Z" fill="#80cdc1"/>
<path d="M1144.5,866.2C1144.9,864.8 1147.2,862.7 1148.8,862.5C1150.3,862.3 1152.4,863.5 1153.8,865C1155.1,866.5 1156.8,869.2 1157,871.2C1157.2,873.3 1156.2,876.9 1155,877.5C1153.8,878.1 1151.5,876 1150,875C1148.5,874 1147.2,872.7 1146.2,871.2C1145.3,869.8 1144.1,867.7 1144.5,866.2Z" fill="#c7eae5"/>
<path d="M1264,720C1264.4,717.5 1265.5,714.8 1267,712.5C1268.5,710.2 1270.8,707.9 1273.2,706.2C1275.8,704.6 1278.9,703.5 1282,702.5C1285.1,701.5 1289.1,700.5 1292,700C1294.9,699.5 1297.4,700.3 1299.5,699.5C1301.6,698.7 1303.2,697 1304.5,695C1305.8,693 1306.1,689.6 1307,687.5C1307.9,685.4 1309.1,682.1 1310,682.5C1310.9,682.9 1312,687.1 1312.5,690C1313,692.9 1312.7,697.1 1313.2,700C1313.8,702.9 1314.3,705.4 1315.8,707.5C1317.2,709.6 1320.1,710.8 1322,712.5C1323.9,714.2 1326,715.6 1327,717.5C1328,719.4 1328.7,721.7 1328.2,723.8C1327.8,725.8 1325.6,727.9 1324.5,730C1323.4,732.1 1322.5,734 1321.5,736.2C1320.5,738.5 1319.6,742 1318.2,743.8C1316.9,745.5 1315.1,746.7 1313.2,747C1311.4,747.3 1309,745.9 1307,745.5C1305,745.1 1303.2,744.4 1301.5,744.5C1299.8,744.6 1299,745.8 1297,746.2C1295,746.8 1292,747.5 1289.5,747.5C1287,747.5 1284.5,747.3 1282,746.2C1279.5,745.2 1276.8,743.1 1274.5,741.2C1272.2,739.4 1269.9,737.3 1268.2,735C1266.6,732.7 1265.2,730 1264.5,727.5C1263.8,725 1263.6,722.5 1264,720Z" fill="#c7eae5"/>
<path d="M1267,720C1267.6,718 1268.9,715 1270.8,713C1272.6,711 1275.5,709.3 1278.2,708C1281,706.7 1284.1,705.8 1287,705C1289.9,704.2 1293.3,703.2 1295.8,703C1298.2,702.8 1300,702.6 1301.5,703.8C1303,704.9 1303.4,707.9 1304.5,710C1305.6,712.1 1306.4,715.3 1308.2,716.2C1310.1,717.2 1313.2,715.3 1315.8,715.5C1318.2,715.7 1321.5,716.3 1323.2,717.5C1325,718.7 1326.5,720.4 1326.5,722.5C1326.5,724.6 1324.4,727.5 1323.2,730C1322.1,732.5 1320.8,735.2 1319.5,737.5C1318.2,739.8 1317.4,742.6 1315.8,743.8C1314.1,744.9 1311.6,744.9 1309.5,744.5C1307.4,744.1 1305.3,741.4 1303.2,741.2C1301.2,741.1 1299.3,743.2 1297,743.8C1294.7,744.3 1292,744.7 1289.5,744.5C1287,744.3 1284.4,743.7 1282,742.5C1279.6,741.3 1277.1,739.4 1275,737.5C1272.9,735.6 1270.8,733.3 1269.5,731.2C1268.2,729.2 1267.4,726.9 1267,725C1266.6,723.1 1266.4,722 1267,720Z" fill="#80cdc1"/>
<path d="M1273.2,720C1273.7,717.9 1275.3,716.4 1277,715.5C1278.7,714.6 1281.2,714.2 1283.2,714.5C1285.2,714.8 1288,716 1289,717.5C1290,719 1290,721.7 1289.5,723.8C1289,725.8 1287.4,728.6 1285.8,730C1284.1,731.4 1281.4,732.3 1279.5,732C1277.6,731.7 1275.5,730 1274.5,728C1273.5,726 1272.8,722.1 1273.2,720Z" fill="#35978f"/>
<path d="M1310.8,722.5C1311.4,720.9 1313.7,720.7 1315.8,720.5C1317.8,720.3 1321.6,720.5 1323.2,721.2C1324.9,722 1325.8,723.1 1325.8,725C1325.8,726.9 1324.3,730.2 1323.2,732.5C1322.2,734.8 1320.9,738.1 1319.5,738.8C1318.1,739.4 1316.2,737.7 1315,736.2C1313.8,734.8 1312.7,732.3 1312,730C1311.3,727.7 1310.1,724.1 1310.8,722.5Z" fill="#35978f"/>
<path d="M1300.5,712C1300.5,712.4 1300.3,712.9 1300.1,713.2C1299.8,713.6 1299.4,714 1299,714.2C1298.6,714.4 1298,714.5 1297.5,714.5C1297,714.5 1296.4,714.4 1296,714.2C1295.6,714 1295.2,713.6 1294.9,713.2C1294.7,712.9 1294.5,712.4 1294.5,712C1294.5,711.6 1294.7,711.1 1294.9,710.8C1295.2,710.4 1295.6,710 1296,709.8C1296.4,709.6 1297,709.5 1297.5,709.5C1298,709.5 1298.6,709.6 1299,709.8C1299.4,710 1299.8,710.4 1300.1,710.8C1300.3,711.1 1300.5,711.6 1300.5,712Z" fill="#35978f"/>
<path d="M1249.5,662C1249.5,662.5 1249.3,663.2 1249,663.6C1248.7,664.1 1248.2,664.5 1247.6,664.8C1247.1,665.1 1246.4,665.2 1245.8,665.2C1245.1,665.2 1244.4,665.1 1243.9,664.8C1243.3,664.5 1242.8,664.1 1242.5,663.6C1242.2,663.2 1242,662.5 1242,662C1242,661.5 1242.2,660.8 1242.5,660.4C1242.8,659.9 1243.3,659.5 1243.9,659.2C1244.4,658.9 1245.1,658.8 1245.8,658.8C1246.4,658.8 1247.1,658.9 1247.6,659.2C1248.2,659.5 1248.7,659.9 1249,660.4C1249.3,660.8 1249.5,661.5 1249.5,662Z" fill="#c7eae5"/>
<path d="M1325.8,613.8C1326.2,611.7 1328.7,609.8 1330.8,608.8C1332.8,607.7 1336.2,607.1 1338.2,607.5C1340.3,607.9 1342.2,609.4 1343.2,611.2C1344.3,613.1 1343.9,616 1344.5,618.8C1345.1,621.5 1345.5,624.8 1347,627.5C1348.5,630.2 1351.4,632.5 1353.2,635C1355.1,637.5 1357,639.8 1358.2,642.5C1359.5,645.2 1360.1,648.3 1360.8,651.2C1361.4,654.2 1361.4,656.9 1362,660C1362.6,663.1 1363.5,666.9 1364.5,670C1365.5,673.1 1367.4,675.8 1368.2,678.8C1369.1,681.7 1369.7,684 1369.5,687.5C1369.3,691 1367.8,696.2 1367,700C1366.2,703.8 1365.3,706.7 1364.5,710C1363.7,713.3 1363,716.7 1362,720C1361,723.3 1359.5,727.5 1358.2,730C1357,732.5 1355.8,734.6 1354.5,735C1353.2,735.4 1351,734.6 1350.8,732.5C1350.5,730.4 1352.6,725.8 1353.2,722.5C1353.9,719.2 1354.5,715.8 1354.5,712.5C1354.5,709.2 1354.1,705.6 1353.2,702.5C1352.4,699.4 1351,696.7 1349.5,693.8C1348,690.8 1346.2,687.9 1344.5,685C1342.8,682.1 1341,679.2 1339.5,676.2C1338,673.3 1336.8,670.4 1335.8,667.5C1334.7,664.6 1334.1,661.5 1333.2,658.8C1332.4,656 1331.4,653.8 1330.8,651.2C1330.1,648.8 1329.1,646 1329.5,643.8C1329.9,641.5 1332.2,639.6 1333.2,637.5C1334.3,635.4 1335.8,633.3 1335.8,631.2C1335.8,629.2 1334.5,626.7 1333.2,625C1332,623.3 1329.5,623.1 1328.2,621.2C1327,619.4 1325.3,615.8 1325.8,613.8Z" fill="#c7eae5"/>
<path d="M1327.5,616.2C1327.6,614.5 1329.2,612.3 1330.8,611.2C1332.3,610.2 1335.2,609.6 1337,610C1338.8,610.4 1340.9,612.1 1341.5,613.8C1342.1,615.4 1341.7,618.3 1340.8,620C1339.8,621.7 1337.5,623.4 1335.8,623.8C1334,624.1 1331.4,623.2 1330,622C1328.6,620.8 1327.4,618 1327.5,616.2Z" fill="#80cdc1"/>
<path d="M1332,646.2C1332.5,644.4 1334.9,642.3 1337,641.2C1339.1,640.2 1342.2,639.4 1344.5,640C1346.8,640.6 1349.6,643.1 1350.8,645C1351.9,646.9 1352.1,649.4 1351.5,651.2C1350.9,653.1 1349,655.4 1347,656.2C1345,657.1 1341.7,656.9 1339.5,656.2C1337.3,655.6 1335.2,654.2 1334,652.5C1332.8,650.8 1331.5,648.1 1332,646.2Z" fill="#80cdc1"/>
</g>
<path d="M92.7,114.3 196,106.7 197.7,108.7 194,115 187.3,117.7 354,166.3 478.3,166.3 478.3,147.3 550,147.3 560,153.8 567.5,160 575,167.5 585,175 595,182.5 605,188.8 615,193.8 621.2,201.2 626.2,210 630,217.5 631.2,225 635,232.5 640,240 647.5,246.2 657.5,252.5 667.5,257.5 676.2,262.5 685,266.2 692.5,268.2 697.5,267 702.5,261.2 707.5,256.2 711.2,248.8 715,241.2 718.8,236.2 726.2,233.8 732.5,230 740,232 750,233 760,233.8 767.5,233.8 772.5,237.5 778.8,242.5 785,247.5 792.5,252.5 800,258.8 803.8,266.2 808.8,273.8 813.8,280 818.8,288.8 823.8,296.2 830,305 835,311.2 838.8,318.8 845,325 852.5,328.8 855,336.2 856.2,345 860,353.8 865,361.2 870,370 875,377.5 882.5,382.5 892.5,386.2 902.5,390 912.5,392.5 929,395 942.5,401.2 947.5,402.5 951.2,399.5 955,398.8 953.8,410 950,420 946.2,430 942,440 938.8,450 936.2,460 934.5,470 933,480 932,490 930.5,500 929.5,510 928.8,520 927.5,530 926.2,540 926.2,548.8 926.2,550 928.8,557.5 933.8,565 938.8,572.5 943.8,580 947.5,587.5 946.2,595 945,602.5 947.5,612.5 952.5,622.5 960,632.5 967.5,640 975,648.8 982.5,657.5 987.5,665 991.2,675 996.2,683.8 1002.5,692.5 1008.8,701.2 1017.5,707.5 1026.2,711.2 1035,712 1042.5,715 1050,718.8 1056.2,723.8 1062.5,730 1067.5,735 1075,734.5 1085,733.8 1095,730 1105,727.5 1115,725.5 1125,723.8 1135,722 1145,717.5 1153.8,714.5 1162.5,713.8 1172.5,713 1180,713.8 1186.2,713.8 1192.5,710 1200,705.5 1207.5,701.2 1215,696.2 1222.5,690 1228.8,683.8 1233.8,676.2 1236.2,667.5 1240,662.5 1243.8,657.5 1246.2,650 1244,652.5 1244.5,642.5 1244,632.5 1245.8,622.5 1249.5,613.8 1257,607.5 1267,603.8 1279.5,601.2 1292,598.8 1304.5,596.2 1317,592.5 1329.5,588.8 1342,586.2 1353.2,586.2 1362,588.8 1372,591.2 1379.5,589.5 1387,587.5 1393.2,587 1397,591.2 1399.5,598.8 1402,606.2 1400.8,613.8 1397,621.2 1392,628.8 1385.8,636.2 1380.8,643.8 1377,651.2 1375.8,660 1373.2,667.5 1372,675 1374.5,682.5 1370.8,690 1367,700 1364.5,710 1362,720 1358.2,730 1354.5,736.2 1353.2,743.8 1350,740 1349.5,732.5 1349,725 1339.5,722.5 1332,721.5 1328.2,723.8 1324.5,730 1321.5,736.2 1318.2,743.8 1313.2,747 1307,745.5 1301.5,744.5 1302,750.5 1301.2,750 1222,750 1222,775 1207.5,775 1203,772 1208.8,778.8 1215,785 1222.5,791.2 1230,797.5 1237.5,805 1243.8,808.8 1248.8,812.5 1246.2,815 1246.2,825.5 1191.2,825.5 1189.5,828.8 1185,837.5 1180,846.2 1175,855 1172.5,862.5 1175,868.8 1173.8,873.8 1172,883.8 1170,894.2 1162.5,891.2 1155,886.2 1147.5,880 1140,873.8 1132.5,867.5 1125,860 1117.5,852.5 1110,845 1102.5,837.5 1095,831.2 1087.5,826.2 1080,822.5 1070,818 1060,817 1050,818 1043.8,820 1035,823.8 1026.2,828.8 1017.5,832.5 1007.5,836.2 998.8,840 990,842.5 980,843 970,841.2 960,837.5 950,832.5 940,830.5 931.2,830 922.5,826.2 913.8,821.2 905,817.5 896.2,815 888.8,810 880,806.2 870,803.8 860,801.2 850,798.8 840,795 830,790 820,786.2 810,781.2 800,776.2 788.3,773.3 776.7,766.7 763.3,758.3 750,750 740,745 723.3,741.7 710,738.3 696.7,733.3 683.3,726.7 675,718.3 666.7,711.7 656.7,705 645,696.7 633.3,691.7 621.7,685 611.7,676.7 603.3,666.7 596.7,656.7 592.7,646.7 591.7,638.3 598.3,635 606.7,631.7 601.7,626.7 595,621.7 598.3,616.7 605,611.7 609.3,603.3 608.3,593.3 603.3,583.3 598.8,580 593.8,572.5 588.8,562.5 586.2,552.5 582.5,546.2 572.5,537.5 562.5,527.5 553.8,517.5 545,507.5 535,497.5 525,487.5 530,491.2 520,482.5 510,473.8 500,462.5 490,452.5 480,442.5 475,438.3 468.3,431.7 458.3,425 446.7,418.3 433.3,413.3 428.3,406.7 429.3,395 435.7,383.3 431.7,375 423.3,365 413.3,361.7 403.3,353.3 391.7,346.7 381.7,340.7 375,331.7 377.3,320 375,316.7 365,314 361.7,316.7 353.3,311.7 343.3,303.3 333.3,294 323.3,283.3 315,273.3 308.3,261.7 303.3,255 297.3,246.7 290,235 283.3,225 280.7,215 275,203.3 268.3,193.3 269.3,185 266.7,176 256.7,170.7 246,167.3 241.7,159.3 233.3,155 227.3,159 220,158.3 211.7,155 200.7,150 194.7,150 194,150.7 190.7,156.7 189.3,168.3 192.7,177.3 196.7,186.7 198.3,200 200.7,211.7 205,220.7 211.7,228.3 217.3,235.7 226.7,239 236,246 243.3,255.7 251.7,269.3 260.7,277.3 270,289.3 278.3,294 280.7,306.7 285,320 298.3,328.3 303.3,340 316,352.7 323.3,360 333.3,370.7 338.3,383.3 344,395 348.3,406.7 354,416 362.7,429.3 370.7,439.3 371,446.2 369.5,455 371.2,463.8 375,471.2 382.5,476.2 387.5,475 387.5,470 391.2,468.8 397.5,473.8 401.2,478.8 407.5,482.5 411.2,487.5 414.5,495 416.2,502.5 421.2,501.2 425,505 426.2,511.2 422.5,517.5 416.2,522.5 408.8,527.5 403.8,531.2 403.8,531.2 400,529.5 396.2,523.8 392.5,516.2 388.8,508.8 382.5,503.8 375,497.5 367.5,491.2 360,483.8 352.5,477.5 345,471.2 336.2,467.5 327.5,468.8 320,463.8 311.2,458.8 307.5,452.5 302,448.8 305,441.2 307.5,433.8 310,430 309.3,415 305,401.7 296.7,391.7 286.7,383.3 276.7,376 266.7,368.3 255,361.7 246.7,366 236.7,358.3 226.7,355 218.3,348.3 210,346.7 206.7,338.3 198.3,331.7 190,323.3 184,316.7 193.3,319.3 203.3,320 213.3,316.7 221.7,306.7 226,296.7 224,288.3 213.3,280 205,270 194,260 185,251 170,244 157.3,236.7 151.7,223.3 150,210 140,201.7 135,186.7 128.3,178.3 120,165 112.7,153.3 115,143.3 106.7,140 101.7,131.7 96.7,125 92.7,114.3Z" fill="none" stroke="#000" stroke-width="0.55" stroke-linejoin="round"/>
<g fill="none" stroke="#000" stroke-width="1.1" stroke-linejoin="round">
<path d="M92.7,114.3 196,106.7 197.7,108.7 194,115 187.3,117.7 354,166.3 478.3,166.3 478.3,147.3 550,147.3 560,153.8 567.5,160 575,167.5 585,175 595,182.5 605,188.8 615,193.8 621.2,201.2 626.2,210 630,217.5 631.2,225 635,232.5 640,240 647.5,246.2 657.5,252.5 667.5,257.5 676.2,262.5 685,266.2 692.5,268.2 697.5,267 702.5,261.2 707.5,256.2 711.2,248.8 715,241.2 718.8,236.2 726.2,233.8 732.5,230 740,232 750,233 760,233.8 767.5,233.8 772.5,237.5 778.8,242.5 785,247.5 792.5,252.5 800,258.8 803.8,266.2 808.8,273.8 813.8,280 818.8,288.8 823.8,296.2 830,305 835,311.2 838.8,318.8 845,325 852.5,328.8 855,336.2 856.2,345 860,353.8 865,361.2 870,370 875,377.5 882.5,382.5 892.5,386.2 902.5,390 912.5,392.5 929,395 942.5,401.2 947.5,402.5 951.2,399.5 955,398.8"/>
<path d="M1302,750.5 1301.5,744.5 1307,745.5 1313.2,747 1318.2,743.8 1321.5,736.2 1324.5,730 1328.2,723.8 1332,721.5 1301.2,750 1222,750 1222,775 1207.5,775 1203,772 1208.8,778.8 1215,785 1222.5,791.2 1230,797.5 1237.5,805 1243.8,808.8 1248.8,812.5 1246.2,815 1246.2,825.5 1191.2,825.5 1189.5,828.8 1185,837.5 1180,846.2 1175,855 1172.5,862.5 1175,868.8 1173.8,873.8 1172,883.8 1170,894.2"/>
</g>
<g fill="none" stroke="#000" stroke-width="0.85" stroke-linejoin="round">
<path d="M291.7,263.3 296.7,258.3 303.3,259.3 307.3,266.7 303.3,275 296.7,276.7 291.7,271.7Z" fill="#f6e8c3" stroke-width="0.45"/>
<path d="M246,244 251.7,243.3 256.7,250 263.3,256.7 266,265 261.7,266.7 255,258.3 248.3,251.7Z" fill="#fff" stroke-width="0.45"/>
<path d="M170,303.3 174,294 177.3,295 178.3,303.3 176,309.3 171.7,308.3Z" fill="#fff" stroke-width="0.45"/>
<path d="M1375.8,720 1378.2,710 1382,708.8 1384,713.8 1381.5,722.5 1378.2,726.2Z" fill="#fff" stroke-width="0.45"/>
<path d="M1394,640 1398.2,633.8 1405.8,630.8 1404.5,635 1399.5,641.2 1395.8,643.8Z" fill="#fff" stroke-width="0.45"/>
<path d="M1354.5,775 1357,765 1360,760 1360.8,767.5 1358.2,776.2Z" fill="#fff" stroke-width="0.45"/>
<path d="M348,405 350,395 354.5,393.8 355,398.8 351.2,406.2Z" fill="#fff" stroke-width="0.45"/>
<path d="M403.8,468 406.2,467 409.5,476.2 407.5,478 404.5,472.5Z" fill="#fff" stroke-width="0.45"/>
<path d="M370.5,437 373.8,435.5 378,445.5 375,448 372,442.5Z" fill="#fff" stroke-width="0.45"/>
<path d="M383.8,458.8 386.2,458 388,464.5 385.5,465.5Z" fill="#fff" stroke-width="0.45"/>
<path d="M545,583.8 548.8,582 552.5,586.2 550,590 546.2,587.5Z" fill="#fff" stroke-width="0.45"/>
<path d="M553,592 557,591.2 558.8,593.8 555,594.5Z" fill="#fff" stroke-width="0.45"/>
<path d="M187.3,117.7 184,123.3 185,133.3 188.3,143.3 194,150"/>
<path d="M219.3,310.3 280.7,310.3"/>
<path d="M453.3,166.3 450,170 456.7,177.3 453.3,181.7 447.3,186.7 448.3,193.3 458.3,200 461.7,210 463.3,221.7 460.7,230"/>
<path d="M462.5,230 459.5,240 456.2,250 455,260 457.5,270 461.2,280 463.8,290 465,296.2 455,297.5 442,298.8 442.5,307.5 447.5,315 450,322.5 455,330 458.8,337.5 461.2,347.5 465,353.8 460,365 455,372.5 447.5,377.5 440,381.2 435,382.5 430,380"/>
<path d="M465,353.8 471.2,352.5 477.5,353.8 481.2,358.8 486.2,365 488.8,375 495,383.8 502.5,388.8 510,391.2 516.2,395 521.2,402.5 528.8,408.8 532.5,411.2 537.5,414.5 546.2,415 551.2,408.8 550,400 553.8,395 557.5,386.2 561.2,377.5 565,368.8 567.5,362.5 572.5,361.2 580,365 587.5,367.5 595,373.8 602.5,375 610,373.8 616.2,377.5 625,376.2 632.5,380 637.5,381.2 642.5,372.5 647.5,362.5 657.5,364.5 667.5,360 670,352.5 667.5,342.5 665,332.5 663.8,322.5 662.5,313.8 667.5,302.5 673.8,290 680,280 686.2,271.2 691.2,267"/>
<path d="M532.5,411.2 526.2,416.2 522.5,422.5 523.8,432.5 527.5,441.2 532.5,447.5 540,456.2 547.5,463.8 552.5,470 560,467.5 567.5,471.2 572.5,478.8 576.2,486.2 578.8,497"/>
<path d="M667.5,360 677.5,366.2 687.5,370 691.2,380 690,390"/>
<path d="M838.8,320 833.8,327 825,320 820,327.5 815,335 806.2,340 798.8,346.2 798.8,351.2 808.8,351.2 809.5,357.5 807.5,365 800,370 790,376.2 782.5,381.2 786.2,387.5 790,393.8 792.5,397"/>
<path d="M845,326.2 836.2,328.8 838.8,337.5 843.8,347.5 846.2,355 843.8,360 850,365 851.2,372.5 857.5,377.5 860,385 866.2,390 870,397"/>
<path d="M688.8,390 687.5,400 686.2,410 682.5,418.8 685,425 688.8,432.5 692.5,440 700,446.2 710,451.2 717.5,438.8 720,437.5 723.8,445 725,455 726.2,463.8 717.5,465 707.5,463.8 697.5,465 687.5,466.2 682.5,471.2 677.5,476.2 670,481.2 666.2,487.5 667.5,497.5"/>
<path d="M720,437.5 727.5,435.5 737.5,436.2 747.5,438.8 755,443.8 761.2,448.8 770,450 777.5,451.2 783.8,456.2 792.5,458.8 798.8,460"/>
<path d="M798.8,460 800,450 798.8,440 801.2,432.5 810,430 820,430 821.2,426.2 815,421.2 808.8,415 802.5,407.5 797.5,400 793.8,392.5 792.5,390"/>
<path d="M798.8,460 803.8,462.5 807.5,470 808.8,480 810,490 812,500 812.5,510 813.8,517.5 818.8,518.8 820,513.8 826.2,513.8 827.5,520 830,526.2 829.5,533.8 832.5,538.8 840,540 847.5,541.2 853.8,538.8 856.2,542.5 863.8,550 870,552.5 880,553.8 890,553.8 897.5,552.5 905,557.5 902.5,565 897.5,570 895,576.2 897.5,585 896.2,592.5 897.5,597.5 891.2,598.8 885,603.8 880,602.5 875,596.2 871.2,588.8 868.8,583.8 863.8,587.5 857.5,590 850,588.8 843.8,591.2 842.5,598.8 835,600 833.8,592.5 827.5,587.5 820,583.8 813.8,586.2 807.5,590 798.8,587.5 790,582.5 782.5,580 775,577.5 770,576.2"/>
<path d="M826.2,513.8 830,507.5 835,500 838.8,493.8 845,490 852.5,488.8 856.2,485 853.8,477.5 850,470 848.8,462.5 845,458.8 848.8,453.8 857.5,450 866.2,447.5 870,440 875,436.2 881.2,432.5 890,427.5 901.2,420 895,415 895,395 881.2,396.2 875,393.8 870,390"/>
<path d="M798.8,460 792.5,465 790,470 785,476.2 780,477.5 780,487.5 775,492.5 767.5,497.5"/>
<path d="M807.5,657 810,645 808.8,635 807.5,625 811.2,617.5 820,616.2 828.8,613.8 832.5,607.5 835,600"/>
<path d="M840,637.5 841.2,630 846.2,625 852.5,620 856.2,612.5 860,607.5 867.5,606.2 873.8,602.5 875,596.2"/>
<path d="M578.8,500 583.8,507.5 588.8,515 592.5,521.2 600,523.8 606.2,527.5 613.8,528 618.8,528.8 620,537.5 616.2,541.2 617.5,546.2 623.8,543.8 630,546.2 635,551.2 640,553.8 646.2,550 648.8,546.2 651.2,538.8 656.2,537.5"/>
<path d="M598.8,523.8 596.2,531.2 595,537.5 597.5,543.8 595,547.5 588.8,546.2 585,547.5"/>
<path d="M667.5,500 660,506.2 656.2,515 655,525 653.8,532.5 656.2,537.5 663.8,538.8 670,538 668.8,545 666.2,551.2 665,558.8 667.5,562.5 670,555 672,547.5 677.5,546.2 678.8,553.8 676.2,561.2 675,566.2 681.2,565.5 686.2,561.2 687.5,555 693.8,552.5 700,556.2 701.2,562.5 696.2,566.2 697.5,572.5 692.5,571.2 686.2,572.5 682.5,576.2 681.2,582.5 677.5,586.2 673.8,590 675,596.2 681.2,595 680,600 676.2,605 683.8,607.5 688.8,610 695,608.8 698.8,605 705,601.2 712.5,597.5 718.8,593.8 720,587.5 716.2,583.8 713,580"/>
<path d="M648.8,546.2 650,552.5 646.2,557.5 645,566.2 648.8,570 652.5,571.2 653.8,576.2 660,578.8 663.8,580 665,586.2 670,591.2 672.5,596.2 670,600 663.8,601.2 657.5,602.5 652.5,605 651.2,612.5 649.5,620 646.2,623 642.5,620 637.5,616.2 632.5,613.8 626.2,612.5 620,615 613.8,617.5 608.8,622.5 597.5,623"/>
<path d="M646.2,623 648,626.2 648.8,630"/>
<path d="M713,580 720,581.2 726.2,582.5 733.8,585 740,581.2 747.5,576.2 752.5,572.5 752,567.5 746.2,562.5 742.5,557.5 735,551.2 728.8,553.8 722.5,558.8 716.2,560 712.5,567.5 710,575 713,580"/>
<path d="M767.5,500 760,503.8 750,508.8 738.8,510 735,507.5 736.2,515 735,523.8 738.8,531.2 743.8,537.5 750,541.2 753.8,547.5 760,546.2 767.5,540 772.5,537.5 777,543.8 776.2,551.2 773.8,558.8 775,566.2 771.2,571.2 766.2,576.2"/>
<path d="M752.5,572.5 760,573.8 766.2,576.2 763.8,585 760,592.5 757.5,600 753.8,605 750,612.5 746.2,617.5 743.8,622.5 745,630 746.2,636.2 745,640 735,642.5 725,643.8 717.5,647.5 710,650 702.5,651.2 701.2,656.2 710,657.5 713.8,662.5 712.5,670 716.2,675 722.5,678.8 720,685 716.2,690 710,693.8 702.5,697.5 696.2,701.2 690,700 682.5,700 682.5,692.5 681.2,683.8 677.5,678.8 670,678.8 662.5,680 656.2,678.8 648.8,683.8 641.2,686.2 635,690"/>
<path d="M682.5,700 677.5,706.2 673.8,712.5"/>
<path d="M745,640 750,645 757.5,646.2 765,643.8 771.2,645 773.8,652.5 780,653.8 788.8,652.5 792.5,657.5 800,658.8 810,657.5 817.5,656.2 821.2,662.5 822.5,670 820,677.5 817.5,685 815,692.5 810,700 806.2,706.2 800,707.5 798.8,715 803.8,721.2 806.2,726.2 797.5,722.5 787.5,721.2 777.5,720 767.5,721.2 762.5,717.5 756.2,717.5 752.5,722.5 751.2,730 745,733.8 740,736.2 738.8,743.8"/>
<path d="M806.2,706.2 812.5,712.5 820,720 825,723.8 832.5,717.5 840,713.8 847.5,710 855,712.5 860,717.5 867.5,722.5 873.8,726.2 876.2,732.5 882.5,737.5 887.5,741.2 895,743.8 902.5,747.5 897.5,755 901.2,762.5 905,767"/>
<path d="M817.5,656.2 825,652.5 828.8,647.5 835,645 840,642.5 842.5,645 851.2,647.5 856.2,655 860,662.5 866.2,657.5 873.8,656.2 877.5,660 885,660 892.5,665 893.8,672.5 890,680 891.2,690 892.5,700 890,710 887.5,720 885,723.8 880,720 872.5,725 876.2,732.5"/>
<path d="M861.2,685 866.2,677.5 871.2,675 876.2,682.5 878.8,692.5 875,697.5 868.8,696.2 863.8,692.5 861.2,685"/>
<path d="M860,717.5 858.8,710 856.2,705 860,700 862.5,693.8 863.8,692.5"/>
<path d="M893.8,580 892.5,587.5 898.8,595 897.5,602.5 906.2,606.2 912.5,607.5 911.2,615 906.2,618.8 901.2,623.8 896.2,626.2 897.5,631.2 895,637.5 898.8,641.2 906.2,638.8 911.2,633.8 913.8,628.8 920,626.2 923.8,620 930,621.2 931.2,628.8 936.2,631.2 933.8,636.2 930,640 932.5,646.2 940,647.5 943.8,646.2 951.2,647.5 956.2,651.2 953.8,658.8 951.2,666.2 947.5,671.2 945,676.2 946.2,681.2 951.2,682.5 955,685 961.2,686.2 962.5,691.2 956.2,693.8 952.5,698.8 951.2,705 948.8,711.2 950,716.2 956.2,718.8 960,722.5 966.2,721.2 972.5,723.8 976.2,720 977.5,715 983.8,717.5 988.8,722.5 992.5,730 998.8,733.8 1005,736.2 1011.2,737.5 1013.8,743.8 1011.2,751.2 1015,757.5 1020,761.2 1027.5,761.2 1033.8,757.5 1038.8,755 1041.2,760 1045,766.2 1050,771.2 1052.5,776.2 1055,778 1070,778 1085,778.8 1097.5,778.8 1096.2,785 1093.8,792.5 1091.2,800 1088.8,807.5 1087.5,815 1090,821.2 1088.8,826.2"/>
<path d="M1097.5,778.8 1101.2,775 1106.2,772.5 1108.8,766.2 1107.5,760 1103.8,756.2 1097.5,752.5 1092.5,748.8 1090,742.5 1087.5,736.2 1086.2,733.8"/>
<path d="M1107.5,760 1112.5,758.8 1116.2,752.5 1120,747.5 1123.8,743.8 1128.8,746.2 1131.2,752.5 1132.5,758.8 1137.5,763.8 1143.8,766.2 1147.5,770 1151.2,766.2 1155,763.8 1161.2,760 1165,755 1172.5,750 1180,747.5 1186.2,745 1191.2,755 1193.8,763.8 1197.5,768.8 1203.8,773"/>
<path d="M1158.8,715 1161.2,722.5 1167.5,725 1170,730 1168.8,736.2 1171.2,742.5 1178.8,741.2 1186.2,743.8 1192.5,740 1197.5,735 1205,738.8 1212.5,742.5 1221.2,745"/>
<path d="M960,722.5 955,727.5 947.5,732.5 941.2,736.2 936.2,740 933.8,732.5 928.8,731.2 926.2,737.5 927.5,742.5 921.2,743.8 912.5,745 906.2,746.2 901.2,747.5 895,743.8 887.5,740 880,735"/>
<path d="M901.2,747.5 900,755 903.8,762.5 906.2,770 910,777.5 915,782.5 917.5,787.5 913.8,795 908.8,800 903.8,803.8 902.5,808.8 897.5,813.8 895.5,816.2"/>
<path d="M891.2,673.8 897.5,672.5 905,671.2 912.5,670 920,672.5 926.2,676.2 930,681.2 935,683.8 928.8,686.2 923.8,685 920,690 915,693.8 910,691.2 905,687.5 900,682.5 895,678.8 891.2,673.8"/>
<path d="M880,660 886.2,661.2 891.2,666.2 891.2,673.8"/>
<path d="M880,605 887.5,603.8 892.5,600 893.8,595"/>
<path d="M1247.5,618.8 1250.8,631.2 1257,635 1265,636.2 1272,645 1279.5,653.8 1283.2,660 1287,666.2 1295.8,673.8 1302,680.5 1302.5,697.5 1302.5,715 1302,735 1302,750.5"/>
<path d="M1297.5,674.5 1304.5,670 1309.5,665 1314.5,660 1319.5,655 1324.5,650 1332,646.2 1339.5,643.8 1347,640 1353.2,633.8 1359.5,627.5 1365.8,620 1370.8,612.5 1371.5,602.5 1371.5,592"/>
<path d="M1302,750.5 1300,827"/>
<path d="M1298.3,833.3 1313.3,834.3"/>
<path d="M1298.3,894.3 1301.7,878.3 1300,865 1313.3,855 1328.3,840"/>
</g>
</g>
<g stroke="#000" stroke-width="1" stroke-dasharray="1 1.67" fill="none">
<path d="M185.5 894.3V95.6"/>
<path d="M401.5 894.3V95.6"/>
<path d="M617.5 894.3V95.6"/>
<path d="M833.5 894.3V95.6"/>
<path d="M1049.5 894.3V95.6"/>
<path d="M1265.5 894.3V95.6"/>
<path d="M77.6 116.4H1416.4"/>
<path d="M77.6 224.4H1416.4"/>
<path d="M77.6 332.4H1416.4"/>
<path d="M77.6 440.4H1416.4"/>
<path d="M77.6 548.4H1416.4"/>
<path d="M77.6 656.4H1416.4"/>
<path d="M77.6 764.4H1416.4"/>
<path d="M77.6 872.4H1416.4"/>
</g>
<g>
<defs><linearGradient id="cg" x1="0" y1="0" x2="0" y2="1"><stop offset="0" stop-color="#4a97d6"/><stop offset="0.55" stop-color="#2a6fb8"/><stop offset="1" stop-color="#173f7d"/></linearGradient></defs>
<path d="M869.7,124.3C867.1,123.6 867.5,126.2 861.5,131.4C855.5,136.6 855.6,135 849.7,141.6C843.8,148.2 845.5,146.8 841.8,153.4C838.1,160 839.1,157.7 837.5,163.6C835.8,169.5 835.8,167.2 836.3,173.1C836.8,179 835.7,177.5 839,183.3C842.4,189.1 841.1,188.2 847.3,192.4C853.6,196.5 852.3,196 859.9,197.1C867.5,198.1 865.9,197.9 872.5,195.9C879.1,193.9 877.4,194.4 881.9,190.4C886.4,186.4 887.4,184.5 887.4,182.5C887.4,180.5 885.9,183 881.9,183.7C877.9,184.4 879.3,184.9 874.1,184.9C868.9,184.9 870,184.8 864.6,183.7C859.2,182.6 860.2,183.3 856,181.3C851.8,179.3 852.7,180.9 850.6,177C848.5,173.1 848.2,173.3 848.9,168.4C849.5,163.4 849,165.9 852.8,160.5C856.6,155.1 856.3,155.9 861.5,150.3C866.7,144.6 867.5,146.6 870.1,141.6C872.8,136.6 870.4,138.9 870.3,133.7C870.2,128.5 872.4,125 869.7,124.3Z" fill="url(#cg)"/>
<path d="M869.1,134.1C865.2,138 863.2,138.7 856,147.1C848.7,155.5 849.2,154.3 844.9,162.1C840.7,169.8 841.9,166.7 841.8,173.1C841.7,179.4 841.4,178.2 844.6,183.3C847.7,188.4 850.1,188 852.4,190" fill="none" stroke="#cfe3f3" stroke-width="1.3"/>
<path d="M852.4,180.2C851.6,178.3 850.8,176.2 851.6,173.1C852.5,170 853.7,169.4 856,166.8C858.3,164.2 859.3,164.3 861.5,162.1C863.7,159.9 863.2,159.5 865.4,157.3C867.6,155.2 868.2,154.1 870.9,153C873.7,151.9 874.3,152 877.2,152.6C880.1,153.3 881.7,154.3 883.5,155.8C885.3,157.2 885.8,158 885.1,158.9C884.3,159.8 882,158.8 880.4,159.7C878.7,160.6 878,161.2 878,162.8C878,164.5 878.3,165.3 880.4,166.8C882.4,168.2 884.5,167.8 886.6,169.1C888.8,170.5 889.8,172.1 889.4,172.7C889,173.2 887.6,172 885.1,171.5C882.6,171 881.7,170.3 878.8,170.7C875.8,171.1 875.6,172.2 872.5,173.1C869.4,174 868.3,173.5 865.4,174.6C862.5,175.7 862.3,176.3 859.9,177.8C857.5,179.3 856.9,180.4 855.2,180.9C853.4,181.5 853.2,182 852.4,180.2Z" fill="#c9a163"/>
<path d="M850.6,181.9C852,182.4 852.4,183.6 855.2,183.7C858,183.8 857.1,182 859.9,182.1C862.7,182.2 861.8,184 864.6,184.1C867.5,184.2 866.5,182.4 869.3,182.5C872.2,182.6 871.2,184.4 874.1,184.5C876.9,184.6 875.9,182.9 878.8,182.9C881.6,182.9 881,184.5 883.5,184.5C886,184.5 886,183.4 887,182.9" fill="none" stroke="#d5e6f3" stroke-width="1.5"/>
<path d="M846.9,187.2C848.5,187.8 849.1,189.1 852,189.2C855,189.3 853.9,187.5 856.8,187.6C859.6,187.7 858.6,189.5 861.5,189.6C864.3,189.7 863.4,187.9 866.2,188C869,188.1 868.1,189.9 870.9,190C873.7,190.1 872.8,188.4 875.6,188.4C878.5,188.4 878,189.9 880.4,190C882.7,190.1 882.6,189.2 883.5,188.8" fill="none" stroke="#d5e6f3" stroke-width="1.3"/>
<text x="905.5" y="165.9" font-family="Liberation Serif, serif" font-weight="bold" font-size="46" textLength="232.3" lengthAdjust="spacingAndGlyphs" fill="#787878">CONAGUA</text>
<text x="905.8" y="184.9" font-family="Liberation Sans, sans-serif" font-weight="bold" font-size="8.2" textLength="183" lengthAdjust="spacing" fill="#808080">COMISIÓN NACIONAL DEL AGUA</text>
<rect x="1170.9" y="134.7" width="2.2" height="62.5" fill="#c9aa77"/>
<path d="M1248.17,130.20A30.30,30.30 0 0 1 1279.00,159.97L1274.50,160.05A25.80,25.80 0 0 0 1248.25,134.70ZM1248.08,124.91A35.60,35.60 0 0 1 1260.88,127.05L1258.89,132.50A29.80,29.80 0 0 0 1248.18,130.70ZM1268.09,130.64A35.60,35.60 0 0 1 1278.56,141.11L1273.69,144.27A29.80,29.80 0 0 0 1264.93,135.51ZM1282.15,148.32A35.60,35.60 0 0 1 1284.29,159.88L1278.50,159.98A29.80,29.80 0 0 0 1276.70,150.31ZM1249.23,190.80A30.30,30.30 0 0 1 1218.40,161.03L1222.90,160.95A25.80,25.80 0 0 0 1249.15,186.30ZM1249.32,196.09A35.60,35.60 0 0 1 1236.52,193.95L1238.51,188.50A29.80,29.80 0 0 0 1249.22,190.30ZM1229.31,190.36A35.60,35.60 0 0 1 1218.84,179.89L1223.71,176.73A29.80,29.80 0 0 0 1232.47,185.49ZM1215.25,172.68A35.60,35.60 0 0 1 1213.11,161.12L1218.90,161.02A29.80,29.80 0 0 0 1220.70,170.69Z" fill="#174a9c"/>
<path d="M1247.2,160.9 1247,160.6 1246.9,160.3 1246.9,160 1246.9,159.7 1247,159.3 1247.2,159 1247.4,158.7 1247.7,158.3 1248,158.1 1248.5,157.9 1248.9,157.7 1249.4,157.6 1250,157.6 1250.5,157.7 1251,157.9 1251.6,158.2 1252.1,158.6 1252.5,159.1 1252.9,159.6 1253.2,160.2 1253.4,160.9 1253.5,161.7 1253.4,162.4 1253.3,163.2 1253,163.9 1252.6,164.6 1252.1,165.3 1251.5,165.9 1250.7,166.4 1249.9,166.8 1249,167.1 1248.1,167.2 1247.1,167.2 1246.1,167.1 1245.1,166.7 1244.2,166.3 1243.3,165.6 1242.6,164.9 1241.9,164 1241.4,163 1241,161.9 1240.8,160.7 1240.7,159.5 1240.9,158.3 1241.2,157.1 1241.8,155.9 1242.5,154.8 1243.3,153.9 1244.4,153 1245.6,152.3 1246.8,151.8 1248.2,151.5 1249.6,151.4 1251.1,151.5 1252.5,151.8 1253.9,152.3 1255.2,153.1 1256.4,154.1 1257.5,155.2 1258.4,156.6 1259.1,158 1259.5,159.6 1259.8,161.2 1259.7,162.9 1259.4,164.6 1258.9,166.2 1258.1,167.8 1257.1,169.2 1255.8,170.5 1254.4,171.6 1252.8,172.5 1251,173.1 1249.2,173.5 1247.2,173.6 1245.3,173.4 1243.4,172.9 1241.6,172.1 1239.9,171 1238.4,169.7 1237.1,168.1 1236,166.4 1235.1,164.5 1234.6,162.4 1234.4,160.3 1234.5,158.1 1234.9,156 1235.7,153.9 1236.7,152 1238.1,150.2 1239.7,148.6" fill="none" stroke="#c9a45f" stroke-width="2.6" stroke-linecap="round" stroke-linejoin="round"/>
<path d="M1219.9,144.3C1220,144.3 1220,144.3 1220.1,144.3C1220.3,144.3 1220.2,144.3 1220.3,144.2C1220.5,144.2 1220.4,144.2 1220.6,144.1C1220.7,144 1220.6,144.1 1220.8,143.9C1220.9,143.8 1220.8,143.9 1220.9,143.7C1221,143.5 1221,143.6 1221,143.4C1221.1,143.2 1221.1,143.3 1221.1,143.1C1221.1,142.9 1221.1,142.9 1221,142.7C1221,142.5 1221,142.6 1220.9,142.4C1220.8,142.2 1220.9,142.2 1220.7,142C1220.6,141.8 1220.6,141.9 1220.5,141.7C1220.3,141.6 1220.3,141.6 1220.1,141.5C1219.9,141.3 1219.9,141.4 1219.7,141.3C1219.4,141.2 1219.5,141.2 1219.2,141.2C1218.9,141.2 1219,141.2 1218.7,141.2C1218.4,141.3 1218.5,141.2 1218.2,141.3C1217.9,141.5 1218,141.4 1217.7,141.6C1217.4,141.8 1217.5,141.7 1217.2,141.9C1217,142.2 1217.1,142.1 1216.8,142.4C1216.6,142.7 1216.7,142.6 1216.6,142.9C1216.4,143.3 1216.4,143.2 1216.4,143.5C1216.3,143.9 1216.3,143.8 1216.3,144.2C1216.3,144.6 1216.3,144.5 1216.4,144.9C1216.5,145.3 1216.5,145.2 1216.6,145.5C1216.8,145.9 1216.8,145.8 1217,146.2C1217.3,146.5 1217.2,146.4 1217.5,146.7C1217.9,147 1217.8,146.9 1218.2,147.2C1218.6,147.4 1218.4,147.3 1218.9,147.5C1219.4,147.6 1219.2,147.6 1219.7,147.7C1220.2,147.7 1220,147.7 1220.5,147.7C1221,147.6 1220.9,147.6 1221.4,147.5C1221.9,147.3 1221.7,147.4 1222.2,147.1C1222.7,146.9 1222.5,147 1222.9,146.6C1223.4,146.2 1223.2,146.4 1223.6,145.9C1223.9,145.5 1223.8,145.6 1224.1,145.1C1224.3,144.6 1224.3,144.8 1224.4,144.2C1224.5,143.6 1224.5,143.8 1224.5,143.2C1224.6,142.6 1224.6,142.8 1224.5,142.2C1224.4,141.6 1224.4,141.8 1224.2,141.2C1224,140.6 1224.1,140.8 1223.7,140.2C1223.3,139.7 1223.5,139.8 1223,139.4C1222.6,138.9 1222.7,139 1222.2,138.7C1221.6,138.3 1221.8,138.4 1221.2,138.1C1220.5,137.9 1220.7,137.9 1220,137.8C1219.4,137.7 1219.6,137.7 1218.9,137.7C1218.2,137.7 1218.4,137.7 1217.7,137.9C1217,138 1217.2,137.9 1216.5,138.3C1215.8,138.6 1216,138.4 1215.4,138.9C1214.8,139.3 1215,139.2 1214.5,139.7C1214,140.3 1214.1,140.1 1213.7,140.8C1213.3,141.5 1213.4,141.2 1213.2,142C1212.9,142.7 1213,142.5 1212.9,143.3C1212.8,144.1 1212.8,143.8 1212.8,144.7C1212.9,145.5 1212.9,145.2 1213.1,146C1213.3,146.8 1213.2,146.6 1213.6,147.3C1214,148.1 1213.9,147.9 1214.4,148.5C1214.9,149.2 1214.7,149 1215.4,149.5C1216.1,150.1 1215.9,149.9 1216.7,150.4C1217.5,150.8 1217.2,150.7 1218.1,150.9C1218.9,151.2 1216.4,151.1 1219.6,151.2C1222.7,151.2 1224,153 1228.6,151C1233.2,149.1 1231.1,147.6 1234.9,144.8C1238.7,141.9 1237.7,142.7 1241.2,141.6C1244.7,140.5 1245,141.2 1246.7,141" fill="none" stroke="#c9a45f" stroke-width="2.4" stroke-linecap="round" stroke-linejoin="round"/>
<path d="M1277.4,176.7C1277.4,176.7 1277.3,176.7 1277.2,176.7C1277.1,176.7 1277.1,176.7 1277,176.7C1276.9,176.8 1276.9,176.8 1276.8,176.9C1276.7,176.9 1276.7,176.9 1276.6,177C1276.5,177.2 1276.5,177.1 1276.4,177.3C1276.3,177.4 1276.4,177.4 1276.3,177.6C1276.3,177.7 1276.3,177.7 1276.3,177.9C1276.3,178.1 1276.2,178 1276.3,178.2C1276.3,178.5 1276.3,178.4 1276.4,178.6C1276.5,178.8 1276.5,178.7 1276.6,178.9C1276.7,179.1 1276.7,179.1 1276.9,179.2C1277.1,179.4 1277,179.4 1277.2,179.5C1277.5,179.6 1277.4,179.6 1277.7,179.7C1277.9,179.8 1277.8,179.7 1278.1,179.8C1278.4,179.8 1278.3,179.8 1278.6,179.7C1278.9,179.7 1278.9,179.7 1279.2,179.6C1279.5,179.5 1279.4,179.6 1279.6,179.4C1279.9,179.2 1279.9,179.3 1280.1,179C1280.4,178.8 1280.3,178.9 1280.5,178.6C1280.7,178.3 1280.6,178.4 1280.8,178C1280.9,177.7 1280.9,177.8 1281,177.4C1281,177 1281,177.2 1281,176.8C1281,176.4 1281,176.5 1280.9,176.1C1280.8,175.7 1280.9,175.8 1280.7,175.4C1280.5,175 1280.6,175.2 1280.3,174.8C1280,174.4 1280.1,174.5 1279.8,174.2C1279.5,173.9 1279.6,174 1279.2,173.8C1278.8,173.6 1278.9,173.6 1278.4,173.5C1278,173.3 1278.1,173.4 1277.6,173.3C1277.1,173.3 1277.3,173.3 1276.8,173.3C1276.3,173.4 1276.4,173.3 1276,173.5C1275.5,173.7 1275.6,173.6 1275.1,173.8C1274.7,174.1 1274.8,174 1274.4,174.4C1274,174.7 1274.1,174.6 1273.8,175.1C1273.4,175.5 1273.5,175.3 1273.3,175.9C1273,176.4 1273.1,176.2 1272.9,176.8C1272.8,177.4 1272.8,177.2 1272.8,177.8C1272.8,178.4 1272.8,178.2 1272.9,178.8C1273,179.4 1272.9,179.2 1273.1,179.8C1273.4,180.4 1273.3,180.2 1273.6,180.8C1274,181.3 1273.9,181.1 1274.3,181.6C1274.8,182.1 1274.6,181.9 1275.2,182.3C1275.7,182.7 1275.5,182.6 1276.2,182.8C1276.8,183.1 1276.6,183 1277.3,183.2C1278,183.3 1277.8,183.3 1278.5,183.3C1279.2,183.2 1279,183.3 1279.7,183.1C1280.4,182.9 1280.2,183 1280.8,182.7C1281.5,182.4 1281.3,182.5 1281.9,182.1C1282.5,181.6 1282.3,181.8 1282.8,181.2C1283.4,180.7 1283.2,180.9 1283.6,180.2C1284,179.5 1283.9,179.7 1284.2,179C1284.4,178.2 1284.4,178.5 1284.5,177.7C1284.6,176.9 1284.6,177.1 1284.5,176.3C1284.4,175.5 1284.5,175.8 1284.3,175C1284,174.2 1284.1,174.4 1283.7,173.6C1283.3,172.9 1283.5,173.1 1282.9,172.5C1282.4,171.8 1282.6,172 1281.9,171.4C1281.2,170.9 1281.5,171 1280.7,170.6C1279.9,170.2 1280.1,170.3 1279.3,170.1C1278.4,169.8 1280.9,169.8 1277.8,169.8C1274.6,169.8 1273.3,168 1268.7,169.9C1264.1,171.9 1266.2,173.4 1262.4,176.2C1258.7,179.1 1259.7,178.2 1256.1,179.4C1252.6,180.5 1252.3,179.8 1250.6,180" fill="none" stroke="#c9a45f" stroke-width="2.4" stroke-linecap="round" stroke-linejoin="round"/>
<text x="1297.3" y="165.6" font-family="Liberation Serif, serif" font-weight="bold" font-size="46" textLength="105.5" lengthAdjust="spacingAndGlyphs" fill="#787878">SMN</text>
<text x="1297.8" y="184.2" font-family="Liberation Sans, sans-serif" font-weight="bold" font-size="6.6" textLength="48.5" lengthAdjust="spacing" fill="#b4b4b4">SERVICIO</text>
<text x="1297.8" y="193.5" font-family="Liberation Sans, sans-serif" font-weight="bold" font-size="6.6" textLength="89.0" lengthAdjust="spacing" fill="#b4b4b4">METEOROLÓGICO</text>
<text x="1297.8" y="202.6" font-family="Liberation Sans, sans-serif" font-weight="bold" font-size="6.6" textLength="47.5" lengthAdjust="spacing" fill="#b4b4b4">NACIONAL</text>
</g>
<g stroke="#000" stroke-width="1" fill="none">
<path d="M185.5 894.3v4"/>
<path d="M401.5 894.3v4"/>
<path d="M617.5 894.3v4"/>
<path d="M833.5 894.3v4"/>
<path d="M1049.5 894.3v4"/>
<path d="M1265.5 894.3v4"/>
<path d="M77.6 116.4h-4"/>
<path d="M77.6 224.4h-4"/>
<path d="M77.6 332.4h-4"/>
<path d="M77.6 440.4h-4"/>
<path d="M77.6 548.4h-4"/>
<path d="M77.6 656.4h-4"/>
<path d="M77.6 764.4h-4"/>
<path d="M77.6 872.4h-4"/>
</g>
<rect x="77.6" y="95.6" width="1338.8" height="798.7" fill="none" stroke="#000" stroke-width="1"/>
<g>
<rect x="77.60" y="990.5" width="85.18" height="39.8" fill="#3b2002"/>
<rect x="161.28" y="990.5" width="85.18" height="39.8" fill="#543108"/>
<rect x="244.95" y="990.5" width="85.17" height="39.8" fill="#8c510a"/>
<rect x="328.62" y="990.5" width="85.18" height="39.8" fill="#bf812d"/>
<rect x="412.30" y="990.5" width="85.17" height="39.8" fill="#dfc27d"/>
<rect x="495.98" y="990.5" width="85.18" height="39.8" fill="#f6e8c3"/>
<rect x="579.65" y="990.5" width="85.18" height="39.8" fill="#f5f5f5"/>
<rect x="663.33" y="990.5" width="85.17" height="39.8" fill="#c7eae5"/>
<rect x="747.00" y="990.5" width="85.17" height="39.8" fill="#80cdc1"/>
<rect x="830.68" y="990.5" width="85.18" height="39.8" fill="#35978f"/>
<rect x="914.35" y="990.5" width="85.18" height="39.8" fill="#01665e"/>
<rect x="998.03" y="990.5" width="85.17" height="39.8" fill="#003c30"/>
<rect x="1081.70" y="990.5" width="85.17" height="39.8" fill="#92c5de"/>
<rect x="1165.38" y="990.5" width="85.18" height="39.8" fill="#a990dd"/>
<rect x="1249.05" y="990.5" width="85.17" height="39.8" fill="#2166ac"/>
<rect x="1332.73" y="990.5" width="83.67" height="39.8" fill="#053061"/>
<rect x="77.6" y="990.5" width="1338.8" height="39.8" fill="none" stroke="#000" stroke-width="1"/>
<g stroke="#000" stroke-width="1">
<path d="M77.6 1030.3v4"/>
<path d="M161.3 1030.3v4"/>
<path d="M245.0 1030.3v4"/>
<path d="M328.6 1030.3v4"/>
<path d="M412.3 1030.3v4"/>
<path d="M496.0 1030.3v4"/>
<path d="M579.7 1030.3v4"/>
<path d="M663.3 1030.3v4"/>
<path d="M747.0 1030.3v4"/>
<path d="M830.7 1030.3v4"/>
<path d="M914.4 1030.3v4"/>
<path d="M998.0 1030.3v4"/>
<path d="M1081.7 1030.3v4"/>
<path d="M1165.4 1030.3v4"/>
<path d="M1249.1 1030.3v4"/>
<path d="M1332.7 1030.3v4"/>
<path d="M1416.4 1030.3v4"/>
</g></g>
<g fill="#000" font-family="'Liberation Sans', sans-serif">
<text x="745.5" y="40.2" font-size="42" font-weight="bold" text-anchor="middle" textLength="1186.6" lengthAdjust="spacingAndGlyphs">Anomalía de Precipitación Acumulada Mensual (mm)</text>
<text x="754" y="86" font-size="42" font-weight="bold" text-anchor="middle" textLength="643.7" lengthAdjust="spacingAndGlyphs">Perspectiva Noviembre 2025</text>
<g font-size="13.6" text-anchor="end">
<text x="69.1" y="123.05">32.5°</text>
<text x="69.1" y="231.05">30.0°</text>
<text x="69.1" y="339.05">27.5°</text>
<text x="69.1" y="447.05">25.0°</text>
<text x="69.1" y="555.05">22.5°</text>
<text x="69.1" y="663.05">20.0°</text>
<text x="69.1" y="771.05">17.5°</text>
<text x="69.1" y="879.05">15.0°</text>
</g>
<g font-size="13.6" text-anchor="middle">
<text x="185.3" y="913.05">−115°</text>
<text x="401.3" y="913.05">−110°</text>
<text x="617.3" y="913.05">−105°</text>
<text x="833.3" y="913.05">−100°</text>
<text x="1049.3" y="913.05">−95°</text>
<text x="1265.3" y="913.05">−90°</text>
</g>
<text x="747" y="935" font-size="19.3" text-anchor="middle" textLength="84.4" lengthAdjust="spacingAndGlyphs">Longitud</text>
<text x="23.3" y="497.5" font-size="19.3" text-anchor="middle" textLength="66.7" lengthAdjust="spacingAndGlyphs" transform="rotate(-90 23.3 497.5)">Latitud</text>
<text x="77.8" y="966.8" font-size="24.4" font-style="italic" textLength="300.8" lengthAdjust="spacingAndGlyphs">Período Base: 1991-2020</text>
<text x="1148.7" y="966.8" font-size="24.4" font-style="italic" textLength="318.3" lengthAdjust="spacingAndGlyphs">Liberado: Noviembre 2025</text>
<g font-size="23.4" text-anchor="middle">
<text x="161.3" y="1055.6">-150</text>
<text x="245" y="1055.6">-100</text>
<text x="328.6" y="1055.6">-50</text>
<text x="412.3" y="1055.6">-20</text>
<text x="496" y="1055.6">-10</text>
<text x="579.7" y="1055.6">-5</text>
<text x="663.3" y="1055.6">5</text>
<text x="747" y="1055.6">10</text>
<text x="830.7" y="1055.6">20</text>
<text x="914.4" y="1055.6">50</text>
<text x="998" y="1055.6">100</text>
<text x="1081.7" y="1055.6">150</text>
<text x="1165.4" y="1055.6">200</text>
<text x="1249.1" y="1055.6">250</text>
<text x="1332.7" y="1055.6">300</text>
</g>
</g>
</svg>
</body></html>
